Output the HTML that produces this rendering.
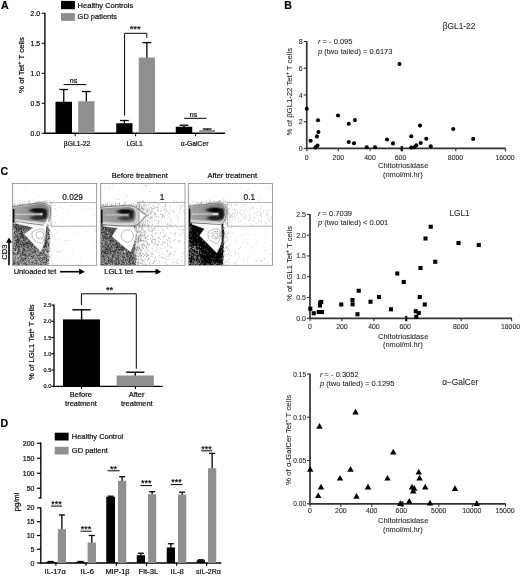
<!DOCTYPE html>
<html><head><meta charset="utf-8"><title>Figure</title>
<style>html,body{margin:0;padding:0;background:#fff;}svg{display:block;font-family:"Liberation Sans",sans-serif;filter:grayscale(1);}text{stroke:#111;stroke-width:0.22px;}text.lt{stroke:#2a2a2a;stroke-width:0.1px;fill:#2a2a2a;}</style></head><body>
<svg width="520" height="576" viewBox="0 0 520 576">
<defs>
<filter id="blur03" x="-5%" y="-5%" width="110%" height="110%"><feGaussianBlur stdDeviation="0.3"/></filter>
<filter id="blur05" x="-10%" y="-10%" width="120%" height="120%"><feGaussianBlur stdDeviation="0.5"/></filter>
<filter id="blur06" x="-10%" y="-20%" width="120%" height="140%"><feGaussianBlur stdDeviation="0.6"/></filter>
<linearGradient id="gOuter1" gradientUnits="userSpaceOnUse" x1="0" y1="0" x2="39" y2="0"><stop offset="0" stop-color="#a4a4a4"/><stop offset="0.3" stop-color="#989898"/><stop offset="0.55" stop-color="#868686"/><stop offset="0.8" stop-color="#808080"/><stop offset="1" stop-color="#9a9a9a"/></linearGradient>
<linearGradient id="gOuter2" gradientUnits="userSpaceOnUse" x1="0" y1="0" x2="45" y2="0"><stop offset="0" stop-color="#a4a4a4"/><stop offset="0.3" stop-color="#989898"/><stop offset="0.55" stop-color="#868686"/><stop offset="0.8" stop-color="#808080"/><stop offset="1" stop-color="#9a9a9a"/></linearGradient>
<linearGradient id="gOuter3" gradientUnits="userSpaceOnUse" x1="0" y1="0" x2="39" y2="0"><stop offset="0" stop-color="#a4a4a4"/><stop offset="0.3" stop-color="#989898"/><stop offset="0.55" stop-color="#868686"/><stop offset="0.8" stop-color="#808080"/><stop offset="1" stop-color="#9a9a9a"/></linearGradient>
<radialGradient id="gLobe" cx="0.5" cy="0.5" r="0.5"><stop offset="0" stop-color="#000" stop-opacity="1"/><stop offset="0.45" stop-color="#000" stop-opacity="0.92"/><stop offset="0.75" stop-color="#111" stop-opacity="0.5"/><stop offset="1" stop-color="#222" stop-opacity="0"/></radialGradient>
</defs>
<rect width="520" height="576" fill="#fff"/>
<text x="0.9" y="8.9" font-size="10.6" font-weight="bold" fill="#000">A</text>
<rect x="61" y="0.9" width="13.9" height="8.3" fill="#000"/>
<rect x="61" y="13.1" width="13.9" height="7.8" fill="#8f8f8f"/>
<text x="77.6" y="7.7" font-size="7.6" fill="#111" textLength="55.6" lengthAdjust="spacingAndGlyphs">Healthy Controls</text>
<text x="77.6" y="19.2" font-size="7.6" fill="#111" textLength="39.4" lengthAdjust="spacingAndGlyphs">GD patients</text>
<line x1="44.9" y1="12.75" x2="44.9" y2="133.85" stroke="#000" stroke-width="1.35"/>
<line x1="44.3" y1="133.25" x2="225" y2="133.25" stroke="#000" stroke-width="1.35"/>
<line x1="41.6" y1="133.25" x2="44.9" y2="133.25" stroke="#000" stroke-width="1.0"/>
<text x="40.199999999999996" y="135.75" font-size="6.9" text-anchor="end" fill="#111">0.0</text>
<line x1="41.6" y1="103.25" x2="44.9" y2="103.25" stroke="#000" stroke-width="1.0"/>
<text x="40.199999999999996" y="105.75" font-size="6.9" text-anchor="end" fill="#111">0.5</text>
<line x1="41.6" y1="73.25" x2="44.9" y2="73.25" stroke="#000" stroke-width="1.0"/>
<text x="40.199999999999996" y="75.75" font-size="6.9" text-anchor="end" fill="#111">1.0</text>
<line x1="41.6" y1="43.25" x2="44.9" y2="43.25" stroke="#000" stroke-width="1.0"/>
<text x="40.199999999999996" y="45.75" font-size="6.9" text-anchor="end" fill="#111">1.5</text>
<line x1="41.6" y1="13.25" x2="44.9" y2="13.25" stroke="#000" stroke-width="1.0"/>
<text x="40.199999999999996" y="15.75" font-size="6.9" text-anchor="end" fill="#111">2.0</text>
<text x="23.9" y="65.0" font-size="7.3" text-anchor="middle" transform="rotate(-90 23.9 65.0)" fill="#111" textLength="56" lengthAdjust="spacingAndGlyphs">% of  Tet<tspan font-size="5" dy="-2.6">+</tspan><tspan dy="2.6"> T cells</tspan></text>
<line x1="63.75" y1="89.5" x2="63.75" y2="102.25" stroke="#000" stroke-width="1.3"/>
<line x1="59.35" y1="89.5" x2="68.15" y2="89.5" stroke="#000" stroke-width="1.3"/>
<rect x="55.5" y="101.75" width="16.5" height="31.5" fill="#000"/>
<line x1="86.375" y1="91.5" x2="86.375" y2="101.75" stroke="#000" stroke-width="1.3"/>
<line x1="81.975" y1="91.5" x2="90.775" y2="91.5" stroke="#000" stroke-width="1.3"/>
<rect x="78.25" y="101.25" width="16.25" height="32.0" fill="#8f8f8f"/>
<line x1="124.375" y1="120.5" x2="124.375" y2="123.75" stroke="#000" stroke-width="1.3"/>
<line x1="119.975" y1="120.5" x2="128.775" y2="120.5" stroke="#000" stroke-width="1.3"/>
<rect x="116.25" y="123.25" width="16.25" height="10.0" fill="#000"/>
<line x1="146.875" y1="42.6" x2="146.875" y2="58.0" stroke="#000" stroke-width="1.3"/>
<line x1="142.475" y1="42.6" x2="151.275" y2="42.6" stroke="#000" stroke-width="1.3"/>
<rect x="138.75" y="57.5" width="16.25" height="75.75" fill="#8f8f8f"/>
<line x1="184.0" y1="125.25" x2="184.0" y2="127.25" stroke="#000" stroke-width="1.3"/>
<line x1="179.6" y1="125.25" x2="188.4" y2="125.25" stroke="#000" stroke-width="1.3"/>
<rect x="175.75" y="126.75" width="16.5" height="6.5" fill="#000"/>
<line x1="207.125" y1="129" x2="207.125" y2="130.5" stroke="#000" stroke-width="1.3"/>
<line x1="202.725" y1="129" x2="211.525" y2="129" stroke="#000" stroke-width="1.3"/>
<rect x="199.25" y="130" width="15.75" height="3.25" fill="#8f8f8f"/>
<line x1="75.2" y1="133.25" x2="75.2" y2="136.25" stroke="#000" stroke-width="1.0"/>
<line x1="135.6" y1="133.25" x2="135.6" y2="136.25" stroke="#000" stroke-width="1.0"/>
<line x1="195.6" y1="133.25" x2="195.6" y2="136.25" stroke="#000" stroke-width="1.0"/>
<text x="77.0" y="146.2" font-size="6.9" text-anchor="middle" fill="#111" textLength="26.4" lengthAdjust="spacingAndGlyphs">βGL1-22</text>
<text x="134.6" y="146.2" font-size="6.9" text-anchor="middle" fill="#111" textLength="16.4" lengthAdjust="spacingAndGlyphs">LGL1</text>
<text x="194.6" y="146.2" font-size="6.9" text-anchor="middle" fill="#111" textLength="27.6" lengthAdjust="spacingAndGlyphs">α-GalCer</text>
<line x1="63.6" y1="84.6" x2="86.4" y2="84.6" stroke="#000" stroke-width="1.0"/>
<text x="73.5" y="82.8" font-size="7" text-anchor="middle" fill="#111">ns</text>
<line x1="184.2" y1="118.3" x2="206.6" y2="118.3" stroke="#000" stroke-width="1.0"/>
<text x="193.5" y="117.0" font-size="7" text-anchor="middle" fill="#111">ns</text>
<path d="M124.6 115.5 V33.3 H146.8 V37.8" stroke="#000" stroke-width="1.0" fill="none"/>
<text x="135.2" y="32.4" font-size="9.5" text-anchor="middle" fill="#111">***</text>
<text x="284.3" y="9.4" font-size="10.6" font-weight="bold" fill="#000">B</text>
<line x1="306.75" y1="41.0" x2="306.75" y2="149.20000000000002" stroke="#333" stroke-width="1.7"/>
<line x1="305.95" y1="148.4" x2="505.8" y2="148.4" stroke="#333" stroke-width="1.7"/>
<line x1="306.75" y1="148.4" x2="306.75" y2="151.3" stroke="#333" stroke-width="1.1"/>
<text x="306.75" y="159.9" font-size="6.9" text-anchor="middle" fill="#111" class="lt">0</text>
<line x1="338.3" y1="148.4" x2="338.3" y2="151.3" stroke="#333" stroke-width="1.1"/>
<text x="338.3" y="159.9" font-size="6.9" text-anchor="middle" fill="#111" class="lt">200</text>
<line x1="370" y1="148.4" x2="370" y2="151.3" stroke="#333" stroke-width="1.1"/>
<text x="370" y="159.9" font-size="6.9" text-anchor="middle" fill="#111" class="lt">400</text>
<line x1="401.75" y1="148.4" x2="401.75" y2="151.3" stroke="#333" stroke-width="1.1"/>
<text x="400.5" y="159.9" font-size="6.9" text-anchor="middle" fill="#111" class="lt">600</text>
<line x1="455.75" y1="148.4" x2="455.75" y2="151.3" stroke="#333" stroke-width="1.1"/>
<text x="455.5" y="159.9" font-size="6.9" text-anchor="middle" fill="#111" class="lt">8000</text>
<line x1="505.4" y1="148.4" x2="505.4" y2="151.3" stroke="#333" stroke-width="1.1"/>
<text x="505" y="159.9" font-size="6.9" text-anchor="middle" fill="#111" class="lt">16000</text>
<line x1="303.75" y1="41.5" x2="306.75" y2="41.5" stroke="#333" stroke-width="1.1"/>
<text x="302.75" y="44.0" font-size="7.0" text-anchor="end" fill="#111" class="lt">8</text>
<line x1="303.75" y1="68.25" x2="306.75" y2="68.25" stroke="#333" stroke-width="1.1"/>
<text x="302.75" y="70.75" font-size="7.0" text-anchor="end" fill="#111" class="lt">6</text>
<line x1="303.75" y1="95" x2="306.75" y2="95" stroke="#333" stroke-width="1.1"/>
<text x="302.75" y="97.5" font-size="7.0" text-anchor="end" fill="#111" class="lt">4</text>
<line x1="303.75" y1="121.75" x2="306.75" y2="121.75" stroke="#333" stroke-width="1.1"/>
<text x="302.75" y="124.25" font-size="7.0" text-anchor="end" fill="#111" class="lt">2</text>
<line x1="303.75" y1="148.4" x2="306.75" y2="148.4" stroke="#333" stroke-width="1.1"/>
<text x="302.75" y="150.9" font-size="7.0" text-anchor="end" fill="#111" class="lt">0</text>
<rect x="400.65" y="146.0" width="2.2" height="5.2" fill="#111"/>
<text x="292.0" y="91.7" font-size="7.3" text-anchor="middle" transform="rotate(-90 292.0 91.7)" fill="#111" class="lt" textLength="87.5" lengthAdjust="spacingAndGlyphs">% of βGL1-22  Tet<tspan font-size="5" dy="-2.6">+</tspan><tspan dy="2.6">  T cells</tspan></text>
<text x="318" y="44" font-size="7.5" fill="#111" class="lt"><tspan font-style="italic">r</tspan> = - 0.095</text>
<text x="318" y="54" font-size="7.5" fill="#111" class="lt"><tspan font-style="italic">p</tspan> (two tailed) = 0.6173</text>
<text x="459.1" y="29.2" font-size="8.4" text-anchor="middle" fill="#111" class="lt" textLength="32.6" lengthAdjust="spacingAndGlyphs">βGL1-22</text>
<text x="403.2" y="168.4" font-size="7.9" text-anchor="middle" fill="#111" class="lt" textLength="50.4" lengthAdjust="spacingAndGlyphs">Chitotriosidase</text>
<text x="402.8" y="176.5" font-size="7.9" text-anchor="middle" fill="#111" class="lt" textLength="39.8" lengthAdjust="spacingAndGlyphs">(nmol/ml.hr)</text>
<circle cx="306.75" cy="108.75" r="2.05" fill="#000"/>
<circle cx="310.6" cy="140.75" r="2.05" fill="#000"/>
<circle cx="318" cy="120.3" r="2.05" fill="#000"/>
<circle cx="318.4" cy="132" r="2.05" fill="#000"/>
<circle cx="316.9" cy="136.4" r="2.05" fill="#000"/>
<circle cx="317.5" cy="145.6" r="2.05" fill="#000"/>
<circle cx="315.5" cy="147.4" r="2.05" fill="#000"/>
<circle cx="338" cy="115.5" r="2.05" fill="#000"/>
<circle cx="348.75" cy="123.75" r="2.05" fill="#000"/>
<circle cx="355" cy="120.1" r="2.05" fill="#000"/>
<circle cx="348.75" cy="142" r="2.05" fill="#000"/>
<circle cx="354" cy="143.2" r="2.05" fill="#000"/>
<circle cx="366.75" cy="147.2" r="2.05" fill="#000"/>
<circle cx="375" cy="147.2" r="2.05" fill="#000"/>
<circle cx="387" cy="139.5" r="2.05" fill="#000"/>
<circle cx="393" cy="143.4" r="2.05" fill="#000"/>
<circle cx="399.5" cy="64" r="2.05" fill="#000"/>
<circle cx="420" cy="125.6" r="2.05" fill="#000"/>
<circle cx="453.25" cy="129" r="2.05" fill="#000"/>
<circle cx="411.25" cy="136.25" r="2.05" fill="#000"/>
<circle cx="426.25" cy="138.75" r="2.05" fill="#000"/>
<circle cx="473.2" cy="138.9" r="2.05" fill="#000"/>
<circle cx="420.7" cy="143" r="2.05" fill="#000"/>
<circle cx="416.25" cy="145.2" r="2.05" fill="#000"/>
<circle cx="430.75" cy="146.2" r="2.05" fill="#000"/>
<circle cx="411.25" cy="147.6" r="2.05" fill="#000"/>
<circle cx="414.5" cy="147.2" r="2.05" fill="#000"/>
<line x1="310" y1="213.9" x2="310" y2="319.1" stroke="#333" stroke-width="1.7"/>
<line x1="309.2" y1="318.3" x2="512" y2="318.3" stroke="#333" stroke-width="1.7"/>
<line x1="310" y1="318.3" x2="310" y2="321.2" stroke="#333" stroke-width="1.1"/>
<text x="310" y="329.3" font-size="6.9" text-anchor="middle" fill="#111" class="lt">0</text>
<line x1="341.9" y1="318.3" x2="341.9" y2="321.2" stroke="#333" stroke-width="1.1"/>
<text x="341.9" y="329.3" font-size="6.9" text-anchor="middle" fill="#111" class="lt">200</text>
<line x1="373.9" y1="318.3" x2="373.9" y2="321.2" stroke="#333" stroke-width="1.1"/>
<text x="373.9" y="329.3" font-size="6.9" text-anchor="middle" fill="#111" class="lt">400</text>
<line x1="406.25" y1="318.3" x2="406.25" y2="321.2" stroke="#333" stroke-width="1.1"/>
<text x="405.2" y="329.3" font-size="6.9" text-anchor="middle" fill="#111" class="lt">600</text>
<line x1="461.25" y1="318.3" x2="461.25" y2="321.2" stroke="#333" stroke-width="1.1"/>
<text x="460.7" y="329.3" font-size="6.9" text-anchor="middle" fill="#111" class="lt">8000</text>
<line x1="511.6" y1="318.3" x2="511.6" y2="321.2" stroke="#333" stroke-width="1.1"/>
<text x="510.5" y="329.3" font-size="6.9" text-anchor="middle" fill="#111" class="lt">16000</text>
<line x1="307.0" y1="214.5" x2="310" y2="214.5" stroke="#333" stroke-width="1.1"/>
<text x="306.0" y="217.0" font-size="7.0" text-anchor="end" fill="#111" class="lt">2.5</text>
<line x1="307.0" y1="235.2" x2="310" y2="235.2" stroke="#333" stroke-width="1.1"/>
<text x="306.0" y="237.7" font-size="7.0" text-anchor="end" fill="#111" class="lt">2.0</text>
<line x1="307.0" y1="255.9" x2="310" y2="255.9" stroke="#333" stroke-width="1.1"/>
<text x="306.0" y="258.4" font-size="7.0" text-anchor="end" fill="#111" class="lt">1.5</text>
<line x1="307.0" y1="276.7" x2="310" y2="276.7" stroke="#333" stroke-width="1.1"/>
<text x="306.0" y="279.2" font-size="7.0" text-anchor="end" fill="#111" class="lt">1.0</text>
<line x1="307.0" y1="297.5" x2="310" y2="297.5" stroke="#333" stroke-width="1.1"/>
<text x="306.0" y="300.0" font-size="7.0" text-anchor="end" fill="#111" class="lt">0.5</text>
<line x1="307.0" y1="318.3" x2="310" y2="318.3" stroke="#333" stroke-width="1.1"/>
<text x="306.0" y="320.8" font-size="7.0" text-anchor="end" fill="#111" class="lt">0.0</text>
<rect x="405.15" y="315.90000000000003" width="2.2" height="5.2" fill="#111"/>
<text x="292.0" y="263.5" font-size="7.3" text-anchor="middle" transform="rotate(-90 292.0 263.5)" fill="#111" class="lt" textLength="75" lengthAdjust="spacingAndGlyphs">% of LGL1  Tet<tspan font-size="5" dy="-2.6">+</tspan><tspan dy="2.6"> T cells</tspan></text>
<text x="318" y="216.4" font-size="7.5" fill="#111" class="lt"><tspan font-style="italic">r</tspan> = 0.7039</text>
<text x="318" y="225.3" font-size="7.5" fill="#111" class="lt"><tspan font-style="italic">p</tspan> (two tailed) &lt; 0.001</text>
<text x="459.5" y="215.9" font-size="8.5" text-anchor="middle" fill="#111" class="lt" textLength="20.2" lengthAdjust="spacingAndGlyphs">LGL1</text>
<text x="403.2" y="338.6" font-size="7.9" text-anchor="middle" fill="#111" class="lt" textLength="50.4" lengthAdjust="spacingAndGlyphs">Chitotriosidase</text>
<text x="402.8" y="346.8" font-size="7.9" text-anchor="middle" fill="#111" class="lt" textLength="39.8" lengthAdjust="spacingAndGlyphs">(nmol/ml.hr)</text>
<rect x="308.25" y="306.7" width="4.1" height="4.1" fill="#000"/>
<rect x="311.7" y="311.2" width="4.1" height="4.1" fill="#000"/>
<rect x="316.7" y="309.95" width="4.1" height="4.1" fill="#000"/>
<rect x="319.95" y="309.95" width="4.1" height="4.1" fill="#000"/>
<rect x="317.95" y="303.45" width="4.1" height="4.1" fill="#000"/>
<rect x="319.2" y="299.85" width="4.1" height="4.1" fill="#000"/>
<rect x="318.15" y="300.55" width="4.1" height="4.1" fill="#000"/>
<rect x="339.2" y="302.45" width="4.1" height="4.1" fill="#000"/>
<rect x="350.45" y="297.95" width="4.1" height="4.1" fill="#000"/>
<rect x="350.55" y="302.25" width="4.1" height="4.1" fill="#000"/>
<rect x="356.7" y="288.7" width="4.1" height="4.1" fill="#000"/>
<rect x="355.45" y="312.2" width="4.1" height="4.1" fill="#000"/>
<rect x="368.45" y="299.7" width="4.1" height="4.1" fill="#000"/>
<rect x="376.95" y="294.95" width="4.1" height="4.1" fill="#000"/>
<rect x="388.95" y="307.25" width="4.1" height="4.1" fill="#000"/>
<rect x="428.7" y="224.7" width="4.1" height="4.1" fill="#000"/>
<rect x="423.45" y="236.45" width="4.1" height="4.1" fill="#000"/>
<rect x="456.45" y="240.95" width="4.1" height="4.1" fill="#000"/>
<rect x="476.7" y="242.95" width="4.1" height="4.1" fill="#000"/>
<rect x="433.2" y="259.7" width="4.1" height="4.1" fill="#000"/>
<rect x="418.45" y="265.95" width="4.1" height="4.1" fill="#000"/>
<rect x="395.2" y="271.45" width="4.1" height="4.1" fill="#000"/>
<rect x="401.7" y="279.95" width="4.1" height="4.1" fill="#000"/>
<rect x="417.7" y="294.95" width="4.1" height="4.1" fill="#000"/>
<rect x="422.7" y="302.45" width="4.1" height="4.1" fill="#000"/>
<rect x="413.7" y="309.2" width="4.1" height="4.1" fill="#000"/>
<rect x="416.7" y="310.95" width="4.1" height="4.1" fill="#000"/>
<rect x="414.2" y="314.85" width="4.1" height="4.1" fill="#000"/>
<line x1="310" y1="373.5" x2="310" y2="504.6" stroke="#333" stroke-width="1.7"/>
<line x1="309.2" y1="503.8" x2="505.8" y2="503.8" stroke="#333" stroke-width="1.7"/>
<line x1="310" y1="503.8" x2="310" y2="506.7" stroke="#333" stroke-width="1.1"/>
<text x="310" y="512.6" font-size="6.9" text-anchor="middle" fill="#111" class="lt">0</text>
<line x1="340.8" y1="503.8" x2="340.8" y2="506.7" stroke="#333" stroke-width="1.1"/>
<text x="340.8" y="512.6" font-size="6.9" text-anchor="middle" fill="#111" class="lt">200</text>
<line x1="371.7" y1="503.8" x2="371.7" y2="506.7" stroke="#333" stroke-width="1.1"/>
<text x="371.7" y="512.6" font-size="6.9" text-anchor="middle" fill="#111" class="lt">400</text>
<line x1="402.4" y1="503.8" x2="402.4" y2="506.7" stroke="#333" stroke-width="1.1"/>
<text x="401.3" y="512.6" font-size="6.9" text-anchor="middle" fill="#111" class="lt">600</text>
<line x1="438.75" y1="503.8" x2="438.75" y2="506.7" stroke="#333" stroke-width="1.1"/>
<text x="438.75" y="512.6" font-size="6.9" text-anchor="middle" fill="#111" class="lt">5000</text>
<line x1="472.4" y1="503.8" x2="472.4" y2="506.7" stroke="#333" stroke-width="1.1"/>
<text x="471.8" y="512.6" font-size="6.9" text-anchor="middle" fill="#111" class="lt">10000</text>
<line x1="505.4" y1="503.8" x2="505.4" y2="506.7" stroke="#333" stroke-width="1.1"/>
<text x="505" y="512.6" font-size="6.9" text-anchor="middle" fill="#111" class="lt">15000</text>
<line x1="307.0" y1="374" x2="310" y2="374" stroke="#333" stroke-width="1.1"/>
<text x="306.0" y="376.5" font-size="6.5" text-anchor="end" fill="#111" class="lt">0.15</text>
<line x1="307.0" y1="417.25" x2="310" y2="417.25" stroke="#333" stroke-width="1.1"/>
<text x="306.0" y="419.75" font-size="6.5" text-anchor="end" fill="#111" class="lt">0.10</text>
<line x1="307.0" y1="460.5" x2="310" y2="460.5" stroke="#333" stroke-width="1.1"/>
<text x="306.0" y="463.0" font-size="6.5" text-anchor="end" fill="#111" class="lt">0.05</text>
<line x1="307.0" y1="503.8" x2="310" y2="503.8" stroke="#333" stroke-width="1.1"/>
<text x="306.0" y="506.3" font-size="6.5" text-anchor="end" fill="#111" class="lt">0.00</text>
<rect x="401.29999999999995" y="501.40000000000003" width="2.2" height="5.2" fill="#111"/>
<text x="290.9" y="439.9" font-size="7.3" text-anchor="middle" transform="rotate(-90 290.9 439.9)" fill="#111" class="lt" textLength="90" lengthAdjust="spacingAndGlyphs">% of α-GalCer Tet<tspan font-size="5" dy="-2.6">+</tspan><tspan dy="2.6"> T cells</tspan></text>
<text x="320" y="376.9" font-size="7.5" fill="#111" class="lt"><tspan font-style="italic">r</tspan> = - 0.3052</text>
<text x="320" y="386.4" font-size="7.5" fill="#111" class="lt"><tspan font-style="italic">p</tspan> (two tailed) = 0.1295</text>
<text x="460.3" y="385.0" font-size="8.7" text-anchor="middle" fill="#111" class="lt" textLength="36.2" lengthAdjust="spacingAndGlyphs">α–GalCer</text>
<text x="403.2" y="523.3" font-size="7.9" text-anchor="middle" fill="#111" class="lt" textLength="50.4" lengthAdjust="spacingAndGlyphs">Chitotriosidase</text>
<text x="402.8" y="531.6" font-size="7.9" text-anchor="middle" fill="#111" class="lt" textLength="39.8" lengthAdjust="spacingAndGlyphs">(nmol/ml.hr)</text>
<path d="M310.20 466.05 l3.2 5.7 h-6.4 z" fill="#000"/>
<path d="M319.50 423.05 l3.2 5.7 h-6.4 z" fill="#000"/>
<path d="M355.50 408.80 l3.2 5.7 h-6.4 z" fill="#000"/>
<path d="M350.50 466.05 l3.2 5.7 h-6.4 z" fill="#000"/>
<path d="M340.00 474.90 l3.2 5.7 h-6.4 z" fill="#000"/>
<path d="M321.00 483.80 l3.2 5.7 h-6.4 z" fill="#000"/>
<path d="M318.25 492.40 l3.2 5.7 h-6.4 z" fill="#000"/>
<path d="M356.50 493.05 l3.2 5.7 h-6.4 z" fill="#000"/>
<path d="M368.00 483.80 l3.2 5.7 h-6.4 z" fill="#000"/>
<path d="M387.50 474.90 l3.2 5.7 h-6.4 z" fill="#000"/>
<path d="M393.25 448.80 l3.2 5.7 h-6.4 z" fill="#000"/>
<path d="M418.75 468.70 l3.2 5.7 h-6.4 z" fill="#000"/>
<path d="M419.50 474.70 l3.2 5.7 h-6.4 z" fill="#000"/>
<path d="M412.00 483.80 l3.2 5.7 h-6.4 z" fill="#000"/>
<path d="M414.25 485.10 l3.2 5.7 h-6.4 z" fill="#000"/>
<path d="M413.25 487.80 l3.2 5.7 h-6.4 z" fill="#000"/>
<path d="M425.25 483.80 l3.2 5.7 h-6.4 z" fill="#000"/>
<path d="M455.00 485.20 l3.2 5.7 h-6.4 z" fill="#000"/>
<path d="M409.25 498.00 l3.2 5.7 h-6.4 z" fill="#000"/>
<path d="M400.30 500.20 l3.2 5.7 h-6.4 z" fill="#000"/>
<path d="M430.00 499.80 l3.2 5.7 h-6.4 z" fill="#000"/>
<path d="M476.75 500.20 l3.2 5.7 h-6.4 z" fill="#000"/>
<text x="0.6" y="174.8" font-size="10.6" font-weight="bold" fill="#000">C</text>
<text x="139.8" y="178.4" font-size="7.5" text-anchor="middle" fill="#111">Before treatment</text>
<text x="232.3" y="178.4" font-size="7.5" text-anchor="middle" fill="#111">After treatment</text>
<text x="6.7" y="252.1" font-size="8.0" text-anchor="middle" transform="rotate(-90 6.7 252.1)" fill="#111" textLength="15.2" lengthAdjust="spacingAndGlyphs">CD3</text>
<path d="M9.0 265.3 V241" stroke="#000" stroke-width="1.6" fill="none"/>
<path d="M9.0 237.4 l-3 5.4 h6 z" fill="#000"/>
<text x="13.7" y="274.4" font-size="7.5" fill="#111" textLength="42.6" lengthAdjust="spacingAndGlyphs">Unloaded tet</text>
<path d="M60 271.7 H81" stroke="#000" stroke-width="1.6" fill="none"/>
<path d="M84.8 271.7 l-5.6 -3.1 v6.2 z" fill="#000"/>
<text x="104.2" y="274.4" font-size="7.5" fill="#111" textLength="29" lengthAdjust="spacingAndGlyphs">LGL1 tet</text>
<path d="M136.3 271.7 H157.5" stroke="#000" stroke-width="1.6" fill="none"/>
<path d="M161.2 271.7 l-5.6 -3.1 v6.2 z" fill="#000"/>
<g transform="translate(12.4 183.6)">
<clipPath id="cp1"><rect x="0.3" y="0.3" width="83.7" height="81.10000000000001"/></clipPath>
<g clip-path="url(#cp1)">
<path d="M11.9 0.6h0.55M26.4 12.8h0.55M47.1 14.4h0.55M63.2 14.9h0.55M1.7 17.4h0.55M7.1 17.1h0.55M16.9 17.0h0.55M17.6 17.2h0.55M20.1 17.5h0.55M24.8 17.3h0.55M31.0 17.3h0.55M32.5 17.4h0.55M33.4 17.4h0.55M34.5 17.3h0.55M38.5 17.1h0.55M11.4 18.2h0.55M14.2 17.8h0.55M15.6 17.5h0.55M17.4 17.8h0.55M22.4 17.7h0.55M25.8 17.6h0.55M26.9 17.9h0.55M27.7 17.7h0.55M29.0 18.1h0.55M29.5 17.8h0.55M30.2 18.1h0.55M32.1 17.7h0.55M32.4 17.7h0.55M34.4 17.6h0.55M36.8 18.0h0.55M40.9 17.6h0.55M2.3 18.7h0.55M11.6 18.6h0.55M14.5 18.3h0.55M15.9 18.6h0.55M16.6 18.4h0.55M21.6 18.9h0.55M22.4 18.6h0.55M24.1 18.4h0.55M24.6 18.5h0.55M25.3 18.8h0.55M26.4 18.6h0.55M26.8 18.3h0.55M28.1 18.9h0.55M29.2 18.9h0.55M30.0 18.4h0.55M30.4 18.6h0.55M31.3 18.5h0.55M32.1 18.6h0.55M32.5 18.3h0.55M33.8 18.4h0.55M34.7 18.8h0.55M35.2 18.3h0.55M36.5 18.7h0.55M37.4 18.3h0.55M38.4 18.7h0.55M9.5 19.4h0.55M9.8 18.9h0.55M17.9 19.5h0.55M19.3 19.1h0.55M20.8 19.6h0.55M22.7 19.2h0.55M23.6 19.2h0.55M23.9 19.5h0.55M25.1 19.0h0.55M25.4 18.9h0.55M26.0 18.9h0.55M27.7 19.5h0.55M28.6 19.1h0.55M28.9 19.2h0.55M30.1 19.4h0.55M31.5 19.5h0.55M32.1 19.0h0.55M32.4 19.1h0.55M33.0 19.2h0.55M34.0 19.6h0.55M34.4 19.0h0.55M36.4 18.9h0.55M37.3 19.5h0.55M38.9 19.1h0.55M40.5 19.4h0.55M83.3 19.6h0.55M2.0 20.3h0.55M7.6 20.1h0.55M10.2 20.0h0.55M11.5 19.7h0.55M12.7 19.8h0.55M14.6 20.0h0.55M15.5 19.6h0.55M16.1 20.0h0.55M17.4 20.0h0.55M17.5 20.2h0.55M18.9 20.1h0.55M19.6 19.8h0.55M20.6 19.9h0.55M21.5 20.2h0.55M22.0 19.8h0.55M22.7 20.1h0.55M23.2 20.1h0.55M24.6 19.9h0.55M25.6 19.6h0.55M27.4 19.8h0.55M32.3 19.7h0.55M36.6 19.8h0.55M81.6 20.2h0.55M0.0 20.7h0.55M0.7 20.4h0.55M2.8 20.5h0.55M4.4 20.4h0.55M5.2 20.6h0.55M7.0 20.6h0.55M7.4 20.7h0.55M8.1 20.9h0.55M8.7 20.8h0.55M9.6 20.4h0.55M10.4 20.8h0.55M12.3 20.5h0.55M13.3 20.4h0.55M14.5 20.9h0.55M16.3 20.5h0.55M17.3 21.0h0.55M18.2 20.8h0.55M18.8 20.5h0.55M19.7 20.5h0.55M20.6 20.7h0.55M21.8 20.5h0.55M0.6 21.4h0.55M1.9 21.7h0.55M2.5 21.4h0.55M2.9 21.6h0.55M4.5 21.5h0.55M5.4 21.6h0.55M5.8 21.2h0.55M6.3 21.6h0.55M7.4 21.1h0.55M8.2 21.0h0.55M8.7 21.5h0.55M9.5 21.0h0.55M10.5 21.1h0.55M10.8 21.1h0.55M12.1 21.2h0.55M36.5 21.6h0.55M0.7 22.2h0.55M2.0 21.8h0.55M5.2 21.9h0.55M7.0 22.0h0.55M7.5 22.1h0.55M9.1 21.8h0.55M42.1 21.9h0.55M58.7 21.9h0.55M0.6 22.8h0.55M2.6 22.6h0.55M4.9 22.5h0.55M37.3 22.9h0.55M38.4 23.4h0.55M47.8 23.3h0.55M36.5 24.2h0.55M37.8 23.9h0.55M45.8 24.3h0.55M37.6 24.5h0.55M42.5 25.1h0.55M49.7 24.8h0.55M78.4 24.7h0.55M38.7 25.4h0.55M41.5 25.5h0.55M72.3 25.4h0.55M36.7 28.0h0.55M54.8 28.4h0.55M36.9 30.4h0.55M82.3 30.5h0.55M38.0 31.4h0.55M39.9 31.0h0.55M44.2 32.1h0.55M80.5 32.1h0.55M36.5 32.6h0.55M36.8 33.4h0.55M41.2 33.1h0.55M42.1 33.3h0.55M50.3 33.4h0.55M37.0 33.8h0.55M37.9 34.3h0.55M36.8 36.2h0.55M36.7 36.8h0.55M36.7 37.6h0.55M43.0 38.5h0.55M36.6 40.3h0.55M38.5 40.5h0.55M36.2 41.1h0.55M45.5 41.6h0.55M0.0 42.4h0.55M38.2 42.4h0.55M38.9 42.7h0.55M39.7 43.0h0.55M49.3 43.4h0.55M48.3 43.7h0.55M38.2 45.3h0.55M36.9 46.6h0.55M37.8 47.2h0.55M83.0 47.2h0.55M72.7 47.8h0.55M37.0 48.4h0.55M37.5 49.0h0.55M44.0 48.9h0.55M62.3 48.8h0.55M38.7 49.7h0.55M0.1 51.4h0.55M39.7 51.1h0.55M39.3 53.5h0.55M0.1 54.5h0.55M40.7 54.6h0.55M37.5 55.2h0.55M38.1 55.4h0.55M42.6 56.0h0.55M46.0 56.3h0.55M52.7 57.1h0.55M53.8 57.1h0.55M0.0 57.5h0.55M37.9 57.6h0.55M80.7 57.5h0.55M0.1 58.5h0.55M37.9 59.0h0.55M39.8 60.0h0.55M51.3 60.0h0.55M38.5 61.2h0.55M46.5 61.7h0.55M0.2 63.9h0.55M38.3 65.0h0.55M0.3 65.3h0.55M37.0 65.5h0.55M41.3 65.2h0.55M50.2 65.6h0.55M37.4 66.9h0.55M38.5 67.2h0.55M60.2 67.5h0.55M43.7 67.9h0.55M45.9 68.0h0.55M47.8 68.1h0.55M46.5 68.6h0.55M36.8 70.8h0.55M38.8 71.2h0.55M37.6 72.2h0.55M36.7 73.8h0.55M37.9 73.8h0.55M52.5 74.1h0.55M0.3 74.4h0.55M38.5 74.2h0.55M37.5 75.8h0.55M49.1 76.8h0.55M36.7 77.2h0.55M38.6 77.2h0.55M67.9 78.0h0.55M37.1 78.9h0.55M39.4 78.6h0.55M36.5 79.4h0.55M39.8 80.4h0.55M41.0 80.5h0.55M44.7 80.9h0.55M66.0 80.9h0.55" stroke="#808080" stroke-width="0.55" fill="none"/>
<polygon points="0.3,38.5 34.0,40.0 36.2,42.5 37.3,52.0 36.8,66.0 36.2,81.7 0.3,81.7" fill="#8e8e8e" filter="url(#blur05)"/>
<g filter="url(#blur03)">
<path d="M8.5 39.0h0.7M14.4 39.3h0.7M14.7 39.3h0.7M16.0 39.7h0.7M18.6 39.6h0.7M19.3 39.6h0.7M19.7 39.8h0.7M21.2 39.5h0.7M22.3 39.9h0.7M22.6 39.7h0.7M24.1 39.8h0.7M25.6 39.7h0.7M2.6 40.4h0.7M3.2 40.6h0.7M4.2 40.4h0.7M16.7 40.1h0.7M20.4 40.5h0.7M21.3 40.3h0.7M22.2 40.0h0.7M25.2 40.3h0.7M25.4 39.9h0.7M26.9 40.5h0.7M28.3 40.5h0.7M29.2 40.6h0.7M30.8 40.4h0.7M31.3 40.5h0.7M32.2 40.2h0.7M0.4 40.8h0.7M1.0 41.2h0.7M2.1 41.0h0.7M3.3 40.7h0.7M3.7 41.2h0.7M4.8 41.1h0.7M6.1 40.6h0.7M7.6 41.2h0.7M25.8 40.9h0.7M28.8 40.9h0.7M30.3 41.0h0.7M31.3 40.9h0.7M0.5 41.7h0.7M0.8 41.4h0.7M4.1 41.6h0.7M5.2 41.8h0.7M9.3 41.9h0.7M10.0 41.7h0.7M27.5 41.4h0.7M30.4 41.4h0.7M35.5 41.9h0.7M0.3 42.2h0.7M2.0 42.2h0.7M2.7 42.1h0.7M4.7 42.0h0.7M5.6 42.6h0.7M6.8 42.2h0.7M8.5 42.6h0.7M9.6 42.3h0.7M10.5 42.6h0.7M12.2 42.5h0.7M13.0 42.5h0.7M13.3 42.5h0.7M14.5 42.6h0.7M0.6 42.8h0.7M1.7 43.1h0.7M2.5 43.4h0.7M2.8 43.1h0.7M4.0 42.8h0.7M4.2 43.4h0.7M5.6 42.8h0.7M6.3 43.1h0.7M6.7 43.3h0.7M7.7 43.2h0.7M8.0 42.9h0.7M10.4 43.3h0.7M12.4 42.9h0.7M13.8 42.9h0.7M14.0 42.9h0.7M14.9 43.2h0.7M34.1 43.4h0.7M1.4 43.6h0.7M5.4 43.4h0.7M5.8 43.5h0.7M6.9 43.8h0.7M8.4 43.5h0.7M9.2 43.9h0.7M10.4 43.8h0.7M11.5 43.9h0.7M12.7 44.0h0.7M13.6 44.0h0.7M14.0 43.6h0.7M15.1 43.9h0.7M15.6 43.9h0.7M16.7 44.1h0.7M17.1 44.0h0.7M34.8 44.1h0.7M2.2 44.6h0.7M3.0 44.5h0.7M3.5 44.2h0.7M4.9 44.8h0.7M5.4 44.6h0.7M5.9 44.7h0.7M6.6 44.5h0.7M7.3 44.5h0.7M8.1 44.2h0.7M8.5 44.6h0.7M10.0 44.2h0.7M11.0 44.5h0.7M11.6 44.2h0.7M12.3 44.3h0.7M13.3 44.6h0.7M13.8 44.5h0.7M16.1 44.2h0.7M16.6 44.4h0.7M16.8 44.7h0.7M18.9 44.2h0.7M20.2 44.1h0.7M34.3 44.7h0.7M35.3 44.4h0.7M0.4 45.3h0.7M1.8 44.8h0.7M3.2 44.9h0.7M3.7 44.9h0.7M7.5 45.2h0.7M8.1 45.1h0.7M9.4 45.2h0.7M11.5 44.9h0.7M14.3 45.1h0.7M16.2 44.8h0.7M17.5 45.3h0.7M17.9 44.9h0.7M36.2 45.4h0.7M1.4 45.6h0.7M3.5 45.6h0.7M4.3 45.7h0.7M5.6 46.0h0.7M6.5 45.8h0.7M7.2 45.9h0.7M7.7 46.1h0.7M8.9 46.0h0.7M9.3 46.0h0.7M10.8 45.6h0.7M11.7 45.6h0.7M12.3 45.6h0.7M12.8 46.2h0.7M13.7 45.7h0.7M14.3 45.7h0.7M15.1 45.6h0.7M15.8 45.9h0.7M18.0 45.5h0.7M33.7 45.6h0.7M34.7 45.7h0.7M36.1 46.2h0.7M0.3 46.7h0.7M2.1 46.2h0.7M3.5 46.9h0.7M4.8 46.4h0.7M5.1 46.7h0.7M5.8 46.3h0.7M6.5 46.4h0.7M7.6 46.3h0.7M10.5 46.4h0.7M13.0 46.6h0.7M14.2 46.3h0.7M15.8 46.7h0.7M17.1 46.3h0.7M33.6 46.4h0.7M35.0 46.5h0.7M35.1 46.5h0.7M35.8 46.7h0.7M1.8 47.5h0.7M2.5 47.3h0.7M4.0 47.5h0.7M4.3 47.3h0.7M6.1 47.6h0.7M6.4 47.1h0.7M8.9 47.0h0.7M10.1 47.2h0.7M10.9 47.3h0.7M11.3 47.2h0.7M15.0 47.4h0.7M33.8 47.2h0.7M36.2 47.2h0.7M36.6 47.5h0.7M2.4 47.6h0.7M3.2 48.0h0.7M5.6 48.1h0.7M8.2 47.7h0.7M8.7 48.3h0.7M9.1 47.8h0.7M10.2 47.8h0.7M10.5 47.6h0.7M12.1 47.6h0.7M13.1 48.3h0.7M33.8 48.1h0.7M35.4 47.7h0.7M1.0 48.8h0.7M2.0 48.9h0.7M3.5 48.3h0.7M4.3 48.3h0.7M6.1 48.3h0.7M8.4 48.6h0.7M8.5 48.4h0.7M9.7 48.9h0.7M12.3 48.3h0.7M13.2 48.5h0.7M14.0 48.3h0.7M33.7 48.6h0.7M2.0 49.2h0.7M2.5 49.5h0.7M3.2 49.4h0.7M4.6 49.4h0.7M7.8 49.3h0.7M10.3 49.5h0.7M12.5 49.1h0.7M34.6 49.7h0.7M35.5 49.0h0.7M36.0 49.1h0.7M2.8 50.3h0.7M6.1 49.8h0.7M6.9 49.8h0.7M7.7 49.8h0.7M8.6 50.1h0.7M9.2 50.0h0.7M12.0 50.0h0.7M33.7 49.7h0.7M35.0 50.2h0.7M1.3 50.6h0.7M1.4 50.8h0.7M5.2 50.5h0.7M6.5 50.5h0.7M8.1 50.5h0.7M8.4 50.5h0.7M9.2 51.1h0.7M10.0 50.9h0.7M33.9 50.9h0.7M34.9 51.1h0.7M35.4 50.7h0.7M36.0 51.1h0.7M4.4 51.3h0.7M8.3 51.5h0.7M9.0 51.2h0.7M9.9 51.4h0.7M10.9 51.8h0.7M12.2 51.1h0.7M35.2 51.6h0.7M36.1 51.1h0.7M37.0 51.3h0.7M0.3 52.0h0.7M2.4 51.8h0.7M3.2 51.9h0.7M3.7 52.3h0.7M4.5 52.5h0.7M6.6 52.1h0.7M8.9 52.0h0.7M10.0 52.0h0.7M11.2 51.9h0.7M33.9 52.1h0.7M35.7 52.5h0.7M1.4 53.0h0.7M2.5 52.9h0.7M3.3 52.9h0.7M5.5 52.8h0.7M6.7 52.9h0.7M8.0 53.1h0.7M8.9 52.9h0.7M9.4 52.7h0.7M9.8 53.1h0.7M11.4 52.8h0.7M12.4 52.9h0.7M35.1 52.6h0.7M36.1 53.2h0.7M36.7 53.0h0.7M1.8 53.7h0.7M2.7 53.8h0.7M3.3 53.5h0.7M3.6 53.6h0.7M4.7 53.8h0.7M5.0 53.8h0.7M7.4 53.9h0.7M8.1 53.3h0.7M9.5 53.3h0.7M10.9 53.4h0.7M12.4 53.7h0.7M14.3 53.4h0.7M33.7 53.7h0.7M34.7 53.5h0.7M36.2 53.9h0.7M0.9 54.4h0.7M2.3 54.5h0.7M3.7 54.2h0.7M6.0 54.1h0.7M6.5 54.6h0.7M7.7 54.4h0.7M8.9 54.4h0.7M9.2 54.0h0.7M10.4 54.1h0.7M10.6 54.0h0.7M12.0 53.9h0.7M13.2 54.3h0.7M13.5 54.0h0.7M14.3 54.4h0.7M33.1 54.0h0.7M36.7 54.5h0.7M1.3 54.7h0.7M5.0 55.2h0.7M7.3 55.2h0.7M8.0 54.6h0.7M8.4 55.1h0.7M10.2 54.9h0.7M11.1 54.8h0.7M11.7 54.7h0.7M12.1 54.7h0.7M12.6 54.8h0.7M13.8 55.3h0.7M32.7 54.7h0.7M33.5 55.0h0.7M34.8 55.0h0.7M35.2 54.8h0.7M36.2 55.1h0.7M1.7 55.5h0.7M3.4 55.9h0.7M3.5 55.3h0.7M4.8 55.9h0.7M5.3 55.6h0.7M11.1 55.4h0.7M11.4 55.5h0.7M12.5 55.3h0.7M13.3 56.0h0.7M14.2 55.8h0.7M15.2 55.4h0.7M33.0 55.4h0.7M34.4 55.7h0.7M35.8 55.6h0.7M2.7 56.3h0.7M2.9 56.6h0.7M4.7 56.2h0.7M5.3 56.5h0.7M5.8 56.2h0.7M6.8 56.1h0.7M10.4 56.4h0.7M11.9 56.6h0.7M16.5 56.4h0.7M32.7 56.6h0.7M36.3 56.3h0.7M2.4 57.3h0.7M3.3 57.4h0.7M4.1 57.1h0.7M5.5 57.0h0.7M6.1 57.4h0.7M6.7 57.1h0.7M8.3 57.2h0.7M10.7 56.8h0.7M12.5 57.1h0.7M12.6 56.9h0.7M15.2 57.2h0.7M15.9 57.3h0.7M16.6 57.2h0.7M17.5 56.8h0.7M33.2 57.0h0.7M34.5 56.9h0.7M1.4 57.4h0.7M3.8 57.4h0.7M4.3 58.0h0.7M5.5 57.9h0.7M6.1 57.8h0.7M7.6 58.0h0.7M9.7 58.1h0.7M10.3 57.5h0.7M11.6 58.1h0.7M16.7 58.0h0.7M18.2 58.0h0.7M32.4 57.5h0.7M33.5 57.9h0.7M33.9 57.9h0.7M35.1 57.9h0.7M4.1 58.7h0.7M5.7 58.7h0.7M9.1 58.6h0.7M9.2 58.4h0.7M10.3 58.7h0.7M11.5 58.7h0.7M13.1 58.1h0.7M14.6 58.7h0.7M15.1 58.7h0.7M15.9 58.3h0.7M16.1 58.6h0.7M17.8 58.4h0.7M3.1 59.4h0.7M4.8 59.0h0.7M5.9 58.9h0.7M7.6 59.3h0.7M7.9 59.4h0.7M9.8 59.0h0.7M9.9 58.8h0.7M11.1 58.9h0.7M12.0 59.0h0.7M13.1 58.8h0.7M13.7 59.1h0.7M15.9 58.9h0.7M17.2 59.5h0.7M18.6 58.8h0.7M19.2 58.9h0.7M32.6 59.1h0.7M33.7 59.1h0.7M34.3 59.3h0.7M35.1 59.2h0.7M36.0 59.2h0.7M2.0 59.9h0.7M4.8 59.6h0.7M7.0 59.7h0.7M7.9 60.0h0.7M10.6 60.1h0.7M12.5 59.8h0.7M12.9 59.9h0.7M13.7 59.8h0.7M14.9 60.1h0.7M15.4 60.1h0.7M16.7 60.2h0.7M17.3 59.7h0.7M17.5 59.8h0.7M19.3 60.1h0.7M19.8 60.2h0.7M31.9 59.5h0.7M32.6 60.2h0.7M33.1 60.2h0.7M34.1 60.0h0.7M35.0 59.9h0.7M0.7 60.9h0.7M3.5 60.5h0.7M4.0 60.4h0.7M4.3 60.8h0.7M5.9 60.4h0.7M8.0 60.4h0.7M8.8 60.5h0.7M10.7 60.4h0.7M11.9 60.9h0.7M12.2 60.3h0.7M13.2 60.5h0.7M13.9 60.3h0.7M14.3 60.6h0.7M15.2 60.6h0.7M15.4 60.3h0.7M16.7 60.7h0.7M17.4 60.3h0.7M17.9 60.8h0.7M19.4 60.5h0.7M31.5 60.4h0.7M32.7 60.5h0.7M33.3 60.3h0.7M35.0 60.3h0.7M35.7 60.5h0.7M37.0 60.7h0.7M1.3 61.0h0.7M2.0 61.4h0.7M3.3 60.9h0.7M4.0 61.1h0.7M6.1 61.3h0.7M7.0 61.5h0.7M7.7 60.9h0.7M9.0 61.1h0.7M9.9 60.9h0.7M10.6 61.5h0.7M11.9 61.2h0.7M14.1 61.4h0.7M16.8 61.5h0.7M17.3 61.3h0.7M18.2 61.0h0.7M19.5 61.3h0.7M21.0 61.1h0.7M31.3 61.1h0.7M32.1 61.6h0.7M33.4 61.3h0.7M33.9 61.4h0.7M36.0 61.4h0.7M1.4 62.1h0.7M2.1 62.3h0.7M3.3 61.9h0.7M3.7 62.2h0.7M5.7 61.8h0.7M6.5 62.0h0.7M9.0 61.9h0.7M9.4 62.0h0.7M10.5 61.8h0.7M11.1 62.0h0.7M12.1 61.7h0.7M13.5 62.0h0.7M14.9 62.1h0.7M16.1 62.2h0.7M16.4 61.9h0.7M17.2 62.0h0.7M19.0 62.2h0.7M19.8 62.2h0.7M31.2 62.3h0.7M32.0 62.2h0.7M32.9 61.7h0.7M33.0 61.6h0.7M35.8 62.2h0.7M2.6 62.7h0.7M4.5 62.9h0.7M7.5 62.7h0.7M9.2 62.9h0.7M9.9 62.8h0.7M11.8 62.5h0.7M12.3 62.9h0.7M14.1 62.7h0.7M15.1 62.7h0.7M15.6 62.4h0.7M17.1 62.4h0.7M18.9 62.9h0.7M19.3 62.9h0.7M19.7 62.6h0.7M21.2 62.4h0.7M23.1 62.7h0.7M31.4 62.6h0.7M31.9 62.5h0.7M32.3 62.8h0.7M33.5 62.7h0.7M33.7 62.9h0.7M35.9 62.3h0.7M1.2 63.4h0.7M2.4 63.5h0.7M5.2 63.2h0.7M6.0 63.1h0.7M6.7 63.5h0.7M7.1 63.4h0.7M8.1 63.5h0.7M10.6 63.3h0.7M11.6 63.4h0.7M13.9 63.5h0.7M14.9 63.6h0.7M16.2 63.2h0.7M17.8 63.3h0.7M19.0 63.7h0.7M20.6 63.2h0.7M21.6 63.4h0.7M30.4 63.4h0.7M31.4 63.1h0.7M32.2 63.5h0.7M4.4 64.0h0.7M6.0 63.8h0.7M9.4 64.2h0.7M13.7 63.8h0.7M15.1 63.8h0.7M15.6 63.8h0.7M17.0 64.2h0.7M21.7 64.0h0.7M21.7 64.0h0.7M23.8 64.2h0.7M31.3 64.0h0.7M31.6 63.9h0.7M34.0 64.1h0.7M36.7 63.9h0.7M0.4 64.5h0.7M2.0 64.9h0.7M2.2 65.1h0.7M3.0 64.8h0.7M5.9 64.7h0.7M7.0 65.1h0.7M9.0 64.5h0.7M10.9 65.0h0.7M15.1 65.0h0.7M16.4 64.9h0.7M17.2 64.6h0.7M18.9 64.5h0.7M19.7 64.9h0.7M22.1 65.0h0.7M23.9 64.8h0.7M35.4 64.5h0.7M0.8 65.2h0.7M1.9 65.2h0.7M2.5 65.7h0.7M3.1 65.2h0.7M4.2 65.5h0.7M5.2 65.1h0.7M5.6 65.5h0.7M8.3 65.6h0.7M10.2 65.3h0.7M11.5 65.5h0.7M12.0 65.8h0.7M15.2 65.8h0.7M18.1 65.4h0.7M22.9 65.8h0.7M23.1 65.4h0.7M25.0 65.2h0.7M30.2 65.5h0.7M31.4 65.2h0.7M32.0 65.5h0.7M36.3 65.1h0.7M2.6 66.1h0.7M3.1 66.5h0.7M5.4 66.0h0.7M6.4 65.9h0.7M7.1 65.9h0.7M8.2 65.9h0.7M10.4 66.5h0.7M11.0 66.2h0.7M11.8 66.4h0.7M12.1 66.1h0.7M13.1 66.2h0.7M16.4 66.3h0.7M18.2 66.0h0.7M18.8 66.4h0.7M20.6 66.1h0.7M22.4 66.3h0.7M25.6 66.3h0.7M32.2 65.9h0.7M32.9 65.9h0.7M34.4 66.5h0.7M2.5 66.9h0.7M4.6 67.0h0.7M5.8 67.1h0.7M7.0 67.2h0.7M9.9 67.1h0.7M10.9 66.7h0.7M15.5 66.9h0.7M17.3 66.6h0.7M22.1 67.0h0.7M22.5 66.8h0.7M24.7 66.6h0.7M29.2 66.7h0.7M35.6 66.6h0.7M1.3 67.3h0.7M2.1 67.7h0.7M5.5 67.5h0.7M10.1 67.7h0.7M11.5 67.8h0.7M13.5 67.4h0.7M14.7 67.5h0.7M19.0 67.7h0.7M20.4 67.6h0.7M24.7 67.7h0.7M25.5 67.4h0.7M27.6 67.7h0.7M29.5 67.5h0.7M30.6 67.3h0.7M31.0 67.3h0.7M32.2 67.7h0.7M34.1 67.8h0.7M34.5 67.8h0.7M35.4 67.8h0.7M36.5 67.3h0.7M5.0 68.6h0.7M6.2 68.6h0.7M6.6 68.2h0.7M7.2 68.0h0.7M7.9 68.1h0.7M10.1 68.5h0.7M11.5 68.2h0.7M12.2 68.0h0.7M13.7 68.2h0.7M18.3 68.5h0.7M20.2 68.5h0.7M20.3 68.3h0.7M21.4 68.1h0.7M22.7 67.9h0.7M28.0 68.5h0.7M29.1 68.0h0.7M31.4 68.4h0.7M0.7 69.0h0.7M4.8 69.3h0.7M6.2 69.0h0.7M9.6 69.2h0.7M10.6 69.0h0.7M12.4 68.6h0.7M12.6 68.8h0.7M16.3 68.7h0.7M20.4 69.0h0.7M21.4 68.8h0.7M22.5 68.8h0.7M25.7 68.7h0.7M28.4 69.2h0.7M30.3 69.1h0.7M34.5 69.1h0.7M3.0 69.6h0.7M4.9 70.0h0.7M6.3 69.5h0.7M9.6 69.7h0.7M12.6 69.6h0.7M14.4 69.9h0.7M16.0 69.3h0.7M19.8 69.7h0.7M23.9 69.4h0.7M25.0 69.4h0.7M27.2 69.7h0.7M27.7 69.8h0.7M28.4 70.0h0.7M30.9 70.0h0.7M0.6 70.1h0.7M1.5 70.6h0.7M2.1 70.1h0.7M3.1 70.5h0.7M4.0 70.4h0.7M4.5 70.2h0.7M5.2 70.3h0.7M5.7 70.2h0.7M8.1 70.3h0.7M10.2 70.4h0.7M12.0 70.4h0.7M12.9 70.5h0.7M15.4 70.4h0.7M16.6 70.0h0.7M17.2 70.7h0.7M17.7 70.6h0.7M19.1 70.7h0.7M22.8 70.1h0.7M25.1 70.1h0.7M26.5 70.5h0.7M27.3 70.6h0.7M29.0 70.2h0.7M29.7 70.4h0.7M30.2 70.4h0.7M31.9 70.6h0.7M33.3 70.3h0.7M33.6 70.4h0.7M0.4 71.3h0.7M1.8 71.1h0.7M3.0 70.7h0.7M8.9 70.9h0.7M11.0 71.0h0.7M11.5 71.3h0.7M12.7 71.2h0.7M13.3 70.8h0.7M16.3 71.0h0.7M21.1 71.3h0.7M22.2 71.2h0.7M23.6 71.2h0.7M24.9 70.7h0.7M26.6 71.2h0.7M29.3 71.2h0.7M31.7 70.7h0.7M7.9 72.0h0.7M9.2 71.5h0.7M10.0 71.9h0.7M10.8 71.5h0.7M11.7 71.6h0.7M12.6 72.0h0.7M13.6 71.7h0.7M15.6 72.0h0.7M20.4 72.1h0.7M23.7 71.9h0.7M26.1 71.6h0.7M29.5 71.9h0.7M31.3 71.5h0.7M32.5 71.6h0.7M33.8 71.7h0.7M34.6 71.8h0.7M10.8 72.2h0.7M13.1 72.5h0.7M16.6 72.2h0.7M17.6 72.7h0.7M18.7 72.5h0.7M19.8 72.2h0.7M24.3 72.2h0.7M25.4 72.2h0.7M26.5 72.3h0.7M27.2 72.3h0.7M28.6 72.2h0.7M31.1 72.7h0.7M35.1 72.4h0.7M2.3 72.9h0.7M8.2 72.9h0.7M10.3 73.4h0.7M14.4 72.8h0.7M15.5 72.8h0.7M18.8 72.9h0.7M20.8 73.0h0.7M21.1 72.9h0.7M22.8 73.0h0.7M31.1 73.3h0.7M33.7 72.9h0.7M35.0 73.5h0.7M36.5 73.3h0.7M7.0 73.9h0.7M9.5 74.1h0.7M10.0 74.1h0.7M12.6 73.6h0.7M14.9 74.1h0.7M18.2 74.1h0.7M20.0 74.0h0.7M21.4 74.2h0.7M25.2 73.9h0.7M26.0 74.0h0.7M27.6 74.2h0.7M29.7 74.2h0.7M31.8 74.0h0.7M32.8 73.8h0.7M1.3 74.4h0.7M1.7 74.6h0.7M2.5 74.3h0.7M3.3 74.3h0.7M5.1 74.8h0.7M5.7 74.5h0.7M8.8 74.4h0.7M9.3 74.2h0.7M11.4 74.2h0.7M12.2 74.8h0.7M14.0 74.5h0.7M15.7 74.3h0.7M17.6 74.4h0.7M19.1 74.4h0.7M19.7 74.6h0.7M22.4 74.5h0.7M25.2 74.7h0.7M26.4 74.8h0.7M27.9 74.4h0.7M28.4 74.8h0.7M30.4 74.4h0.7M33.6 74.9h0.7M34.0 74.7h0.7M5.9 75.4h0.7M8.2 75.1h0.7M9.4 75.3h0.7M10.6 75.3h0.7M12.5 75.5h0.7M13.1 75.2h0.7M15.4 75.0h0.7M15.6 75.1h0.7M18.0 75.0h0.7M26.6 75.1h0.7M30.1 75.5h0.7M31.9 75.3h0.7M35.8 75.6h0.7M8.6 76.2h0.7M12.9 76.3h0.7M13.8 75.7h0.7M15.9 76.3h0.7M26.4 75.9h0.7M28.0 75.7h0.7M29.0 76.2h0.7M29.8 75.6h0.7M31.2 76.0h0.7M32.1 75.7h0.7M34.2 75.6h0.7M35.2 75.8h0.7M2.4 76.9h0.7M6.7 76.3h0.7M8.3 76.5h0.7M9.4 77.0h0.7M10.4 76.8h0.7M10.9 76.8h0.7M12.6 76.5h0.7M15.8 76.8h0.7M16.3 76.6h0.7M23.2 76.6h0.7M24.0 76.5h0.7M26.3 76.7h0.7M26.8 76.6h0.7M30.5 76.5h0.7M33.6 76.7h0.7M34.0 76.8h0.7M35.8 76.7h0.7M0.5 77.3h0.7M1.4 77.4h0.7M4.7 77.5h0.7M5.4 77.0h0.7M6.3 77.2h0.7M7.8 77.0h0.7M10.4 77.3h0.7M12.5 77.2h0.7M14.0 77.0h0.7M22.5 77.0h0.7M23.5 77.2h0.7M27.8 77.6h0.7M28.5 77.2h0.7M30.1 77.3h0.7M34.0 77.1h0.7M36.0 77.3h0.7M4.3 78.0h0.7M6.6 78.1h0.7M8.4 78.4h0.7M8.9 78.2h0.7M13.8 78.0h0.7M15.1 78.2h0.7M16.2 78.2h0.7M24.0 78.4h0.7M27.1 78.2h0.7M28.0 78.3h0.7M34.6 78.1h0.7M0.4 78.8h0.7M1.3 79.0h0.7M1.8 78.9h0.7M4.5 79.1h0.7M6.6 78.6h0.7M7.3 78.8h0.7M8.3 79.1h0.7M10.1 78.5h0.7M11.8 78.5h0.7M12.5 79.1h0.7M16.2 78.8h0.7M19.3 79.0h0.7M19.7 79.1h0.7M27.6 78.6h0.7M28.7 78.7h0.7M31.1 78.8h0.7M31.9 78.8h0.7M32.7 78.9h0.7M33.2 78.8h0.7M33.8 78.8h0.7M0.5 79.8h0.7M1.9 79.7h0.7M2.5 79.7h0.7M4.4 79.5h0.7M6.0 79.7h0.7M13.2 79.6h0.7M14.4 79.6h0.7M15.6 79.3h0.7M17.0 79.2h0.7M17.8 79.3h0.7M18.8 79.3h0.7M19.0 79.4h0.7M20.9 79.5h0.7M22.2 79.8h0.7M23.5 79.8h0.7M25.3 79.4h0.7M30.8 79.2h0.7M31.8 79.6h0.7M33.3 79.5h0.7M36.0 79.7h0.7M2.0 79.9h0.7M2.4 80.0h0.7M5.2 80.5h0.7M6.3 79.9h0.7M6.4 80.4h0.7M7.3 80.2h0.7M10.2 80.5h0.7M11.2 80.0h0.7M12.5 80.3h0.7M16.4 80.4h0.7M22.8 80.4h0.7M23.6 80.4h0.7M27.8 80.4h0.7M29.4 80.1h0.7M29.4 80.2h0.7M30.7 80.3h0.7M33.6 80.3h0.7M1.0 80.9h0.7M3.2 81.0h0.7M4.1 80.7h0.7M5.5 80.6h0.7M6.2 81.2h0.7M6.8 80.6h0.7M8.6 80.6h0.7M13.6 80.8h0.7M15.3 81.0h0.7M15.5 81.0h0.7M19.1 80.7h0.7M25.7 80.6h0.7M27.1 80.6h0.7M27.4 81.1h0.7M29.0 81.0h0.7M31.6 80.9h0.7M33.1 80.7h0.7" stroke="#000" stroke-width="0.7" fill="none"/>
<path d="M1.1 39.6h0.6M1.8 39.7h0.6M12.3 39.3h0.6M22.6 40.4h0.6M25.4 40.1h0.6M26.7 40.2h0.6M26.2 40.7h0.6M28.7 41.0h0.6M1.2 41.7h0.6M2.2 41.4h0.6M5.2 41.6h0.6M6.6 41.6h0.6M35.0 42.2h0.6M35.7 42.5h0.6M1.3 43.4h0.6M7.4 42.8h0.6M35.8 42.9h0.6M6.4 44.0h0.6M13.7 44.0h0.6M34.5 43.5h0.6M36.0 44.0h0.6M11.7 44.1h0.6M16.6 44.8h0.6M18.8 44.6h0.6M36.3 44.6h0.6M2.1 45.4h0.6M2.2 45.3h0.6M15.5 45.1h0.6M1.2 45.7h0.6M2.4 46.0h0.6M6.4 46.2h0.6M9.9 45.6h0.6M12.3 45.9h0.6M12.8 45.9h0.6M14.5 45.8h0.6M34.7 46.2h0.6M35.3 45.8h0.6M0.8 46.7h0.6M7.8 46.7h0.6M1.0 47.1h0.6M2.0 47.1h0.6M3.1 47.3h0.6M10.1 47.1h0.6M0.4 48.1h0.6M0.7 47.6h0.6M4.5 47.7h0.6M10.1 48.1h0.6M10.9 48.0h0.6M12.5 47.8h0.6M13.3 48.0h0.6M35.6 48.0h0.6M35.8 47.7h0.6M1.2 48.9h0.6M2.6 48.8h0.6M3.2 48.5h0.6M5.5 48.6h0.6M5.1 49.7h0.6M6.5 49.2h0.6M3.3 49.8h0.6M34.3 50.1h0.6M0.3 50.8h0.6M1.4 51.0h0.6M0.8 51.4h0.6M1.7 51.4h0.6M5.2 51.7h0.6M34.5 51.4h0.6M35.0 51.6h0.6M1.5 52.3h0.6M35.6 52.3h0.6M36.3 52.2h0.6M37.0 51.9h0.6M2.6 52.9h0.6M6.9 53.2h0.6M12.0 52.9h0.6M0.9 53.5h0.6M3.8 53.5h0.6M7.1 53.9h0.6M13.2 53.6h0.6M34.8 53.7h0.6M35.4 53.3h0.6M3.3 54.3h0.6M4.0 54.6h0.6M8.4 54.0h0.6M33.0 54.4h0.6M34.8 54.1h0.6M1.3 54.9h0.6M1.8 54.8h0.6M8.9 55.3h0.6M9.2 55.3h0.6M11.6 55.1h0.6M12.8 54.9h0.6M34.8 54.7h0.6M2.0 55.8h0.6M2.9 55.8h0.6M4.0 55.5h0.6M8.3 55.6h0.6M1.2 56.5h0.6M14.7 56.5h0.6M34.7 56.7h0.6M35.9 56.3h0.6M36.9 56.3h0.6M1.2 57.0h0.6M14.9 57.1h0.6M17.0 56.7h0.6M36.4 57.2h0.6M2.7 58.1h0.6M9.8 57.9h0.6M12.8 57.6h0.6M36.0 57.7h0.6M1.9 58.2h0.6M10.5 58.5h0.6M11.8 58.5h0.6M35.6 58.2h0.6M0.9 59.2h0.6M8.2 59.0h0.6M12.4 58.9h0.6M16.3 59.0h0.6M34.9 59.3h0.6M6.5 59.7h0.6M8.9 59.8h0.6M35.1 60.2h0.6M1.2 60.7h0.6M18.3 60.3h0.6M31.9 60.7h0.6M33.7 60.9h0.6M36.5 60.6h0.6M0.9 61.0h0.6M2.3 61.1h0.6M2.9 61.0h0.6M5.9 61.3h0.6M14.3 61.1h0.6M16.9 61.0h0.6M31.2 61.6h0.6M31.5 61.3h0.6M2.1 62.3h0.6M7.6 62.1h0.6M7.8 62.1h0.6M11.5 62.2h0.6M16.8 62.1h0.6M20.7 62.0h0.6M2.0 62.5h0.6M10.1 62.5h0.6M14.2 62.9h0.6M15.8 62.9h0.6M34.7 62.3h0.6M1.4 63.5h0.6M9.5 63.3h0.6M13.9 63.5h0.6M18.0 63.7h0.6M19.6 63.2h0.6M35.1 63.7h0.6M0.3 64.2h0.6M1.5 64.2h0.6M8.1 64.4h0.6M16.9 64.2h0.6M20.7 63.8h0.6M31.2 64.3h0.6M35.4 64.4h0.6M36.3 63.8h0.6M36.6 64.2h0.6M5.4 64.6h0.6M6.3 64.4h0.6M8.8 64.8h0.6M17.5 64.7h0.6M24.0 64.5h0.6M30.4 64.9h0.6M32.2 64.5h0.6M32.3 65.0h0.6M35.6 64.4h0.6M2.5 65.2h0.6M3.4 65.6h0.6M4.9 65.5h0.6M13.2 65.3h0.6M16.5 65.6h0.6M18.6 65.6h0.6M34.0 65.4h0.6M35.9 65.4h0.6M0.6 65.9h0.6M4.6 66.2h0.6M7.2 66.2h0.6M8.2 66.3h0.6M8.9 65.9h0.6M14.9 65.9h0.6M20.2 66.3h0.6M23.0 65.9h0.6M29.7 65.8h0.6M31.6 66.1h0.6M35.6 66.4h0.6M36.8 65.8h0.6M3.5 67.0h0.6M4.9 66.7h0.6M8.1 67.1h0.6M10.4 67.1h0.6M14.4 66.7h0.6M24.8 66.5h0.6M32.3 67.1h0.6M35.4 67.0h0.6M1.0 67.5h0.6M1.7 67.5h0.6M3.2 67.9h0.6M3.8 67.3h0.6M8.7 67.6h0.6M12.6 67.6h0.6M26.5 67.4h0.6M30.0 67.8h0.6M32.5 67.7h0.6M2.0 68.2h0.6M2.6 68.1h0.6M12.0 68.4h0.6M13.1 68.2h0.6M18.9 68.3h0.6M20.6 68.2h0.6M25.6 68.3h0.6M33.0 68.4h0.6M3.6 69.1h0.6M5.3 68.7h0.6M6.6 68.7h0.6M11.5 69.2h0.6M12.9 69.3h0.6M15.4 68.8h0.6M16.1 69.1h0.6M23.6 68.8h0.6M24.8 68.7h0.6M26.9 68.7h0.6M29.1 68.9h0.6M32.1 69.2h0.6M33.5 68.7h0.6M35.4 69.2h0.6M2.6 69.7h0.6M3.3 69.6h0.6M3.6 70.0h0.6M14.1 69.6h0.6M14.8 70.0h0.6M17.2 69.9h0.6M24.1 69.9h0.6M26.0 69.7h0.6M32.9 70.0h0.6M33.1 70.0h0.6M33.9 69.4h0.6M34.7 69.8h0.6M35.4 69.4h0.6M7.1 70.6h0.6M17.1 70.3h0.6M19.8 70.6h0.6M20.9 70.5h0.6M23.5 70.2h0.6M24.4 70.6h0.6M24.7 70.2h0.6M28.5 70.3h0.6M29.9 70.1h0.6M33.6 70.0h0.6M34.6 70.6h0.6M35.1 70.6h0.6M0.3 71.3h0.6M1.4 71.3h0.6M1.7 71.3h0.6M5.7 70.9h0.6M14.3 70.8h0.6M18.8 71.4h0.6M21.6 70.9h0.6M25.3 71.0h0.6M30.7 70.8h0.6M31.8 71.1h0.6M35.3 71.3h0.6M35.8 70.7h0.6M2.5 72.0h0.6M4.5 72.1h0.6M20.0 71.6h0.6M22.5 71.7h0.6M27.0 71.4h0.6M29.6 72.1h0.6M34.8 71.8h0.6M1.7 72.5h0.6M5.9 72.1h0.6M8.5 72.5h0.6M9.7 72.7h0.6M10.8 72.2h0.6M13.4 72.4h0.6M16.2 72.4h0.6M23.0 72.7h0.6M23.5 72.2h0.6M29.0 72.4h0.6M29.8 72.7h0.6M30.6 72.6h0.6M33.9 72.2h0.6M1.0 73.2h0.6M1.7 73.2h0.6M3.7 73.1h0.6M4.5 72.9h0.6M6.1 73.0h0.6M10.8 73.1h0.6M15.6 73.2h0.6M17.5 73.3h0.6M21.5 72.9h0.6M22.1 73.0h0.6M27.8 72.9h0.6M28.7 72.8h0.6M30.3 72.9h0.6M34.3 73.4h0.6M2.3 74.0h0.6M4.1 73.9h0.6M6.5 74.2h0.6M9.4 73.8h0.6M10.6 73.6h0.6M12.1 74.2h0.6M14.4 73.9h0.6M16.3 74.0h0.6M17.2 74.2h0.6M17.5 73.6h0.6M18.4 73.8h0.6M21.5 73.9h0.6M25.1 73.6h0.6M25.7 73.5h0.6M26.4 73.7h0.6M30.2 73.8h0.6M0.7 74.2h0.6M2.9 74.9h0.6M5.4 74.3h0.6M10.0 74.3h0.6M14.9 74.5h0.6M17.1 74.2h0.6M24.0 74.4h0.6M27.0 74.6h0.6M34.7 74.7h0.6M35.3 74.4h0.6M36.0 74.3h0.6M3.7 75.0h0.6M5.3 75.4h0.6M7.1 75.4h0.6M7.9 75.1h0.6M13.8 75.5h0.6M15.2 75.3h0.6M17.8 75.3h0.6M18.5 75.4h0.6M20.8 75.5h0.6M27.8 75.5h0.6M28.5 75.1h0.6M35.2 75.3h0.6M1.7 75.6h0.6M4.9 75.8h0.6M6.7 76.0h0.6M13.8 76.1h0.6M15.9 75.7h0.6M19.6 75.9h0.6M22.6 75.9h0.6M25.1 75.8h0.6M25.3 76.2h0.6M28.1 76.3h0.6M29.1 76.0h0.6M30.5 76.0h0.6M33.1 75.8h0.6M4.1 76.9h0.6M5.6 76.9h0.6M6.8 76.9h0.6M8.6 76.5h0.6M14.0 76.3h0.6M15.4 76.5h0.6M17.8 77.0h0.6M19.4 76.4h0.6M1.0 77.7h0.6M3.3 77.0h0.6M3.6 77.7h0.6M4.3 77.4h0.6M5.1 77.1h0.6M8.5 77.4h0.6M12.1 77.2h0.6M13.0 77.6h0.6M14.2 77.5h0.6M17.3 77.2h0.6M21.3 77.3h0.6M24.2 77.4h0.6M26.2 77.3h0.6M27.2 77.4h0.6M30.8 77.4h0.6M31.9 77.5h0.6M35.8 77.3h0.6M7.0 78.0h0.6M9.2 78.1h0.6M13.0 77.7h0.6M15.8 77.9h0.6M26.5 77.7h0.6M26.8 78.3h0.6M28.7 78.0h0.6M33.1 78.3h0.6M35.0 78.4h0.6M35.6 78.4h0.6M0.4 78.9h0.6M7.2 78.6h0.6M10.1 78.7h0.6M10.6 78.7h0.6M13.3 78.5h0.6M13.5 78.7h0.6M14.7 78.9h0.6M16.3 79.1h0.6M17.9 78.9h0.6M18.6 78.4h0.6M22.0 78.5h0.6M25.5 78.8h0.6M27.9 78.8h0.6M29.0 78.6h0.6M2.6 79.4h0.6M4.0 79.1h0.6M5.7 79.4h0.6M7.1 79.3h0.6M8.3 79.3h0.6M13.4 79.4h0.6M14.6 79.4h0.6M17.4 79.1h0.6M18.3 79.8h0.6M24.0 79.2h0.6M27.2 79.6h0.6M31.8 79.3h0.6M34.2 79.8h0.6M34.9 79.1h0.6M2.1 80.3h0.6M4.6 80.1h0.6M8.0 80.1h0.6M8.6 80.3h0.6M10.8 80.4h0.6M15.1 80.0h0.6M15.9 80.2h0.6M16.5 80.5h0.6M19.0 79.9h0.6M20.8 79.9h0.6M26.5 80.0h0.6M28.1 80.3h0.6M29.5 80.0h0.6M30.2 79.9h0.6M31.0 80.5h0.6M31.6 80.2h0.6M35.6 80.3h0.6M2.6 81.1h0.6M4.1 80.9h0.6M6.9 81.0h0.6M7.6 81.2h0.6M8.1 80.6h0.6M8.7 81.0h0.6M16.0 80.6h0.6M22.6 81.1h0.6M24.6 80.7h0.6M26.8 80.6h0.6M30.0 80.7h0.6M31.4 80.9h0.6M34.4 81.1h0.6" stroke="#fff" stroke-width="0.6" fill="none"/>
</g>
<g filter="url(#blur06)">
<path d="M0.3 23.2 C9 22 18 20.4 25 19.6 C30 19 35.6 19.6 37.4 23 C38.6 26 38.4 31.4 37.2 34.6 C36.2 37.4 34.6 40.2 32.6 42 L2.6 38.2 L0.3 38.8 Z" fill="#cfcfcf" stroke="#3a3a3a" stroke-width="0.6"/>
<path d="M0.3 24.2 C9 23 18 21.4 25 20.6 C30 20 34.6 20.6 36.2 23.6 C37.4 26.4 37.2 31 36 33.8 C35 36 33.4 37.8 31.6 38.6 L2.6 35.4 L0.3 36 Z" fill="url(#gOuter1)"/>
<ellipse cx="25.6" cy="26.8" rx="11" ry="3.2" fill="url(#gLobe)" opacity="0.95"/>
<ellipse cx="25.6" cy="34.2" rx="10" ry="3.0" fill="url(#gLobe)" opacity="0.68"/>
<ellipse cx="32.2" cy="30.4" rx="3.6" ry="5.8" fill="url(#gLobe)" opacity="0.8"/>
</g>
<path d="M3.2 30.7 H29.4" stroke="#fff" stroke-width="1.0" stroke-dasharray="1.1 0.55" opacity="0.95"/>
<ellipse cx="29.2" cy="30.7" rx="1.3" ry="0.75" fill="#fff"/>
<rect x="0.3" y="25.4" width="1.7" height="13.4" fill="#000"/>
<path d="M2.4 36.6 C12 37.8 22 39.2 31.6 40.2" stroke="#e8e8e8" stroke-width="0.5" fill="none"/>
<polygon points="2.6,38.2 30.5,42.0 33.4,39.0 35.6,34.2 36.5,34.5 35.4,40.0 33.7,43.5 33.5,50.0 31.6,60.0 28.5,68.4 11.6,50.4 20.6,44.2 2.8,39.6" fill="#fff" stroke="#999" stroke-width="0.3"/>
<path d="M19.6 48.6 C23 46.6 26 45.4 27.8 45.4 C30.6 45.4 33 47.6 32.9 50.4 C32.8 54 31 58.4 29 60 C27 59.4 22.6 57.4 21.2 56 C19.6 54.4 19.2 51 19.6 48.6 Z" fill="none" stroke="#6a6a6a" stroke-width="0.45"/>
<path d="M24.4 49 C25.6 47.8 29.8 47.6 30.8 49 C31.6 50.4 31.4 53.4 30.2 54.6 C28.8 55.6 25.6 55.2 24.6 54 C23.6 52.8 23.6 50.2 24.4 49 Z" fill="none" stroke="#6a6a6a" stroke-width="0.45"/>
<path d="M0.9 3 V80.7" stroke="#555" stroke-width="0.6" stroke-dasharray="0.6 1.9" opacity="0.6"/>
</g>
<rect x="0" y="0" width="84.3" height="81.7" fill="none" stroke="#7a7a7a" stroke-width="0.7"/>
<path d="M38.6 18.9 H84.3 M38.6 18.9 V42.6 M38.6 42.6 H84.3" fill="none" stroke="#858585" stroke-width="0.6"/>
<text x="60.2" y="16.9" font-size="8.3" text-anchor="middle" fill="#1a1a1a" stroke="#1a1a1a" stroke-width="0.15">0.029</text>
</g>
<g transform="translate(100.7 183.6)">
<clipPath id="cp2"><rect x="0.3" y="0.3" width="83.7" height="81.10000000000001"/></clipPath>
<g clip-path="url(#cp2)">
<path d="M45.7 2.0h0.55M11.5 2.6h0.55M43.1 2.3h0.55M8.7 3.6h0.55M48.6 8.1h0.55M60.6 8.7h0.55M25.7 11.6h0.55M17.4 15.9h0.55M23.9 17.7h0.55M41.3 18.1h0.55M42.2 17.6h0.55M42.8 17.6h0.55M53.6 18.0h0.55M73.0 17.6h0.55M8.6 18.6h0.55M24.2 18.9h0.55M36.8 18.6h0.55M37.3 18.7h0.55M39.0 18.3h0.55M40.3 18.6h0.55M47.0 18.6h0.55M62.9 18.9h0.55M63.1 18.9h0.55M36.3 19.1h0.55M36.9 19.2h0.55M38.0 19.1h0.55M39.1 19.1h0.55M39.6 19.1h0.55M41.8 19.5h0.55M44.8 19.3h0.55M75.8 18.9h0.55M14.5 20.0h0.55M14.9 20.2h0.55M18.1 19.9h0.55M18.5 20.1h0.55M19.0 19.8h0.55M24.0 20.0h0.55M29.9 20.1h0.55M37.9 20.2h0.55M43.9 19.9h0.55M49.9 19.7h0.55M52.5 19.7h0.55M55.8 19.7h0.55M64.5 20.2h0.55M0.2 20.9h0.55M2.5 20.9h0.55M4.1 20.4h0.55M4.8 20.4h0.55M6.3 20.7h0.55M10.3 20.6h0.55M16.4 20.4h0.55M18.1 20.5h0.55M22.8 20.8h0.55M23.3 20.4h0.55M24.8 20.8h0.55M27.5 20.8h0.55M30.3 20.9h0.55M32.7 20.3h0.55M37.8 20.3h0.55M39.2 21.0h0.55M42.3 20.8h0.55M58.2 20.8h0.55M0.2 21.6h0.55M2.0 21.0h0.55M2.6 21.6h0.55M5.0 21.5h0.55M6.6 21.6h0.55M10.7 21.0h0.55M11.2 21.1h0.55M12.0 21.4h0.55M14.6 21.6h0.55M18.5 21.6h0.55M22.5 21.2h0.55M25.2 21.6h0.55M28.9 21.5h0.55M30.1 21.5h0.55M32.3 21.4h0.55M34.5 21.1h0.55M35.2 21.5h0.55M36.2 21.1h0.55M43.8 21.6h0.55M46.9 21.0h0.55M64.7 21.5h0.55M78.3 21.6h0.55M81.7 21.5h0.55M0.7 22.1h0.55M1.6 22.2h0.55M2.9 22.0h0.55M3.9 21.9h0.55M5.0 22.2h0.55M6.8 22.1h0.55M9.2 21.9h0.55M9.8 22.0h0.55M12.5 21.9h0.55M14.6 22.3h0.55M19.4 22.3h0.55M20.3 22.3h0.55M21.2 22.0h0.55M22.2 21.7h0.55M23.0 22.1h0.55M28.5 22.0h0.55M31.1 21.8h0.55M33.0 22.1h0.55M35.8 22.1h0.55M37.0 22.2h0.55M38.2 21.8h0.55M39.8 22.4h0.55M40.4 22.2h0.55M40.6 22.3h0.55M42.5 21.9h0.55M43.4 22.3h0.55M44.2 22.1h0.55M45.4 21.9h0.55M47.3 21.9h0.55M52.0 22.1h0.55M81.6 21.9h0.55M10.3 22.6h0.55M14.5 22.5h0.55M14.8 22.9h0.55M17.3 22.9h0.55M21.0 22.8h0.55M28.9 22.8h0.55M30.2 22.7h0.55M31.8 23.1h0.55M34.2 22.4h0.55M35.7 22.8h0.55M36.1 23.0h0.55M41.8 22.6h0.55M52.1 22.8h0.55M57.0 22.5h0.55M63.9 22.9h0.55M64.8 22.8h0.55M68.8 22.8h0.55M3.0 23.2h0.55M15.6 23.2h0.55M30.3 23.4h0.55M35.7 23.2h0.55M35.8 23.3h0.55M37.3 23.1h0.55M38.3 23.4h0.55M38.8 23.7h0.55M40.3 23.2h0.55M45.3 23.6h0.55M54.7 23.6h0.55M56.0 23.5h0.55M61.8 23.7h0.55M80.6 23.1h0.55M40.8 23.9h0.55M41.6 24.3h0.55M42.3 24.2h0.55M47.8 24.2h0.55M49.4 23.9h0.55M50.7 23.8h0.55M53.3 24.3h0.55M56.0 24.2h0.55M56.4 24.4h0.55M57.3 24.3h0.55M79.9 24.1h0.55M36.9 24.6h0.55M37.6 25.2h0.55M38.9 24.6h0.55M39.4 25.1h0.55M40.4 24.5h0.55M40.6 24.8h0.55M41.6 24.7h0.55M42.5 24.9h0.55M44.1 24.6h0.55M46.9 25.1h0.55M51.2 25.1h0.55M52.8 24.9h0.55M36.9 25.6h0.55M37.6 25.6h0.55M38.1 25.8h0.55M41.6 25.9h0.55M43.2 25.8h0.55M45.9 25.6h0.55M51.2 25.4h0.55M64.6 25.4h0.55M65.6 25.4h0.55M79.4 25.3h0.55M35.7 26.1h0.55M36.1 26.6h0.55M36.6 26.1h0.55M37.5 26.0h0.55M39.3 26.3h0.55M40.8 25.9h0.55M42.5 26.1h0.55M44.0 26.5h0.55M47.0 26.1h0.55M51.1 26.2h0.55M56.5 25.9h0.55M63.3 26.3h0.55M36.0 26.8h0.55M38.6 27.0h0.55M39.8 26.7h0.55M42.2 26.7h0.55M45.7 26.7h0.55M47.3 26.9h0.55M48.2 26.7h0.55M50.0 27.3h0.55M57.2 27.1h0.55M60.4 26.9h0.55M63.1 26.9h0.55M69.7 26.7h0.55M82.9 27.3h0.55M37.2 27.6h0.55M38.2 27.8h0.55M39.9 27.8h0.55M41.6 27.7h0.55M45.3 27.5h0.55M46.1 27.6h0.55M51.7 27.9h0.55M56.7 27.6h0.55M59.7 28.0h0.55M65.1 27.7h0.55M66.7 27.7h0.55M72.8 27.6h0.55M35.8 28.4h0.55M37.4 28.5h0.55M38.3 28.3h0.55M42.0 28.6h0.55M42.9 28.2h0.55M46.8 28.1h0.55M48.9 28.1h0.55M50.7 28.3h0.55M51.1 28.4h0.55M65.0 28.4h0.55M71.5 28.4h0.55M78.9 28.2h0.55M36.2 28.8h0.55M36.9 28.9h0.55M38.1 29.4h0.55M39.3 29.3h0.55M39.9 29.2h0.55M41.2 28.7h0.55M43.3 29.4h0.55M44.2 28.9h0.55M45.3 29.2h0.55M46.6 29.2h0.55M49.3 29.3h0.55M49.8 29.2h0.55M68.4 29.1h0.55M35.8 29.7h0.55M36.8 30.0h0.55M37.7 29.5h0.55M37.9 30.0h0.55M39.8 29.5h0.55M41.6 29.7h0.55M43.1 29.9h0.55M49.9 29.7h0.55M53.7 29.7h0.55M54.0 30.0h0.55M54.6 29.4h0.55M68.0 29.8h0.55M83.7 29.6h0.55M36.2 30.1h0.55M36.6 30.7h0.55M37.4 30.6h0.55M39.6 30.7h0.55M40.2 30.6h0.55M41.4 30.6h0.55M43.2 30.6h0.55M43.8 30.6h0.55M44.8 30.6h0.55M45.5 30.3h0.55M47.4 30.7h0.55M48.5 30.2h0.55M50.1 30.2h0.55M55.0 30.7h0.55M63.7 30.1h0.55M36.1 31.3h0.55M38.2 31.3h0.55M38.9 30.9h0.55M39.7 31.2h0.55M46.1 31.5h0.55M47.3 31.2h0.55M53.2 31.1h0.55M54.3 31.1h0.55M59.5 31.0h0.55M60.0 30.9h0.55M61.6 31.5h0.55M76.1 31.3h0.55M35.6 31.6h0.55M36.3 32.2h0.55M37.2 31.6h0.55M38.1 31.8h0.55M39.1 31.9h0.55M39.4 31.6h0.55M39.9 31.6h0.55M41.9 32.0h0.55M42.5 32.1h0.55M43.2 31.7h0.55M43.8 31.7h0.55M46.0 32.2h0.55M47.6 32.2h0.55M52.2 32.0h0.55M61.6 31.7h0.55M36.0 32.8h0.55M36.5 32.8h0.55M37.2 32.6h0.55M39.1 32.8h0.55M40.3 32.5h0.55M41.1 32.9h0.55M42.3 32.2h0.55M43.9 32.4h0.55M44.2 32.7h0.55M46.4 32.3h0.55M47.1 32.3h0.55M57.9 32.6h0.55M61.6 32.5h0.55M62.6 32.3h0.55M36.2 33.2h0.55M37.3 33.6h0.55M40.6 33.3h0.55M42.7 33.1h0.55M44.1 33.1h0.55M45.6 33.1h0.55M49.9 33.1h0.55M51.2 33.2h0.55M54.3 33.2h0.55M55.6 33.4h0.55M57.8 33.4h0.55M61.4 33.3h0.55M68.8 33.4h0.55M76.9 33.5h0.55M36.9 33.7h0.55M37.3 34.1h0.55M39.2 33.8h0.55M39.4 33.7h0.55M43.3 34.1h0.55M44.0 33.8h0.55M47.2 34.3h0.55M49.5 34.1h0.55M50.1 34.2h0.55M51.0 33.7h0.55M60.9 33.6h0.55M63.6 34.0h0.55M63.8 33.6h0.55M83.8 34.3h0.55M35.9 34.8h0.55M37.0 34.4h0.55M37.5 34.9h0.55M38.4 34.6h0.55M39.1 35.0h0.55M39.4 34.4h0.55M40.5 34.5h0.55M41.0 34.9h0.55M41.5 34.6h0.55M43.1 34.4h0.55M48.9 34.9h0.55M50.6 34.6h0.55M52.1 34.8h0.55M76.8 34.7h0.55M35.7 35.6h0.55M36.7 35.4h0.55M37.4 35.2h0.55M38.3 35.5h0.55M39.3 35.5h0.55M41.0 35.1h0.55M41.9 35.2h0.55M70.5 35.3h0.55M36.0 35.9h0.55M36.6 36.0h0.55M37.2 36.2h0.55M41.9 36.2h0.55M42.3 35.9h0.55M44.5 35.9h0.55M60.3 36.1h0.55M36.0 36.7h0.55M37.6 36.4h0.55M39.0 36.8h0.55M46.2 36.5h0.55M53.8 36.6h0.55M55.6 36.6h0.55M37.1 37.8h0.55M37.6 37.8h0.55M38.2 37.3h0.55M39.6 37.4h0.55M40.2 37.6h0.55M41.8 37.3h0.55M42.1 37.3h0.55M44.4 37.1h0.55M46.4 37.7h0.55M47.0 37.2h0.55M51.2 37.7h0.55M57.4 37.2h0.55M58.8 37.8h0.55M70.4 37.5h0.55M77.4 37.3h0.55M40.6 37.8h0.55M43.2 38.0h0.55M46.1 38.1h0.55M48.6 38.1h0.55M70.1 38.4h0.55M35.9 38.5h0.55M38.1 38.8h0.55M40.0 39.1h0.55M42.6 39.2h0.55M44.4 38.9h0.55M56.9 39.2h0.55M35.5 39.5h0.55M36.5 39.6h0.55M37.2 39.4h0.55M40.4 39.8h0.55M42.6 39.6h0.55M46.2 39.6h0.55M49.4 39.3h0.55M37.6 40.2h0.55M37.8 40.6h0.55M39.4 40.1h0.55M41.4 40.6h0.55M44.1 40.1h0.55M57.7 40.1h0.55M66.9 40.0h0.55M35.7 40.7h0.55M38.6 41.3h0.55M41.4 41.0h0.55M42.4 40.7h0.55M43.4 41.1h0.55M44.7 41.2h0.55M47.7 41.1h0.55M51.3 40.7h0.55M66.3 40.8h0.55M69.6 41.3h0.55M74.8 41.2h0.55M36.5 42.0h0.55M37.5 41.8h0.55M38.2 41.4h0.55M39.2 41.5h0.55M41.3 41.4h0.55M41.8 41.6h0.55M44.1 41.5h0.55M46.4 41.6h0.55M57.7 41.8h0.55M67.6 41.4h0.55M70.1 41.5h0.55M33.2 42.1h0.55M34.1 42.7h0.55M34.7 42.1h0.55M35.1 42.5h0.55M36.7 42.2h0.55M37.7 42.7h0.55M39.7 42.1h0.55M39.9 42.2h0.55M41.1 42.3h0.55M42.9 42.2h0.55M43.7 42.3h0.55M47.3 42.0h0.55M71.9 42.2h0.55M34.7 43.3h0.55M35.2 43.1h0.55M35.9 42.9h0.55M38.7 43.0h0.55M40.4 43.0h0.55M41.6 42.9h0.55M47.2 43.2h0.55M48.0 43.2h0.55M55.2 43.3h0.55M33.9 43.7h0.55M34.6 43.5h0.55M35.3 43.5h0.55M37.8 43.7h0.55M38.8 44.1h0.55M40.2 43.4h0.55M45.3 43.4h0.55M65.7 43.7h0.55M34.7 44.7h0.55M35.5 44.5h0.55M37.2 44.4h0.55M38.9 44.3h0.55M40.3 44.7h0.55M41.1 44.3h0.55M48.6 44.3h0.55M50.7 44.1h0.55M53.6 44.6h0.55M53.9 44.2h0.55M60.2 44.3h0.55M76.0 44.4h0.55M35.6 44.8h0.55M41.1 45.4h0.55M41.5 44.8h0.55M42.9 45.0h0.55M47.2 45.2h0.55M49.8 45.3h0.55M52.4 45.0h0.55M66.5 45.1h0.55M0.2 45.8h0.55M34.8 45.8h0.55M35.8 45.8h0.55M37.5 46.2h0.55M41.0 45.7h0.55M47.5 46.1h0.55M51.5 45.7h0.55M35.7 46.4h0.55M40.2 46.3h0.55M52.0 46.4h0.55M61.3 46.5h0.55M62.9 46.5h0.55M78.4 46.3h0.55M81.3 46.5h0.55M82.8 46.6h0.55M35.5 47.5h0.55M36.5 47.5h0.55M37.2 47.2h0.55M38.3 47.5h0.55M39.6 47.5h0.55M42.1 47.0h0.55M42.9 47.3h0.55M44.7 47.5h0.55M47.4 46.9h0.55M48.7 47.6h0.55M50.4 47.1h0.55M51.5 47.3h0.55M53.5 46.9h0.55M36.8 48.1h0.55M38.0 47.7h0.55M38.8 48.3h0.55M39.9 48.2h0.55M43.4 47.7h0.55M49.9 47.9h0.55M36.0 48.5h0.55M36.5 48.3h0.55M38.2 48.8h0.55M40.0 48.8h0.55M43.8 48.6h0.55M45.4 48.5h0.55M51.4 48.4h0.55M62.7 48.6h0.55M36.3 49.6h0.55M37.0 49.0h0.55M40.5 49.4h0.55M41.6 49.4h0.55M42.6 49.4h0.55M43.5 49.3h0.55M54.2 49.4h0.55M55.1 49.4h0.55M59.1 49.0h0.55M59.7 49.7h0.55M69.4 49.3h0.55M74.6 49.6h0.55M81.8 49.5h0.55M0.2 49.9h0.55M36.2 49.8h0.55M40.0 50.4h0.55M44.3 50.2h0.55M52.1 50.4h0.55M74.0 50.0h0.55M35.6 50.8h0.55M35.7 50.4h0.55M39.1 50.9h0.55M39.3 51.0h0.55M40.3 51.0h0.55M43.3 51.1h0.55M54.8 50.8h0.55M64.7 51.0h0.55M79.1 51.0h0.55M35.4 51.7h0.55M39.7 51.5h0.55M41.1 51.6h0.55M43.2 51.5h0.55M43.9 51.5h0.55M47.4 51.5h0.55M74.4 51.7h0.55M35.4 51.8h0.55M35.8 52.0h0.55M37.5 52.0h0.55M37.8 52.3h0.55M38.7 51.9h0.55M39.9 51.9h0.55M41.3 52.1h0.55M42.3 52.4h0.55M44.3 52.5h0.55M50.7 52.1h0.55M63.3 51.8h0.55M65.2 52.3h0.55M35.4 52.9h0.55M37.1 52.9h0.55M38.9 52.9h0.55M39.9 52.8h0.55M41.0 52.6h0.55M46.0 52.6h0.55M46.9 52.8h0.55M51.1 52.5h0.55M51.6 52.7h0.55M62.9 52.9h0.55M63.5 52.7h0.55M35.1 53.7h0.55M37.1 53.7h0.55M38.0 53.9h0.55M38.8 53.3h0.55M39.7 53.8h0.55M40.6 53.4h0.55M43.2 53.5h0.55M43.9 53.6h0.55M51.9 53.3h0.55M55.0 53.6h0.55M57.9 53.5h0.55M61.8 53.8h0.55M35.1 54.3h0.55M35.9 54.5h0.55M36.7 54.4h0.55M38.1 54.5h0.55M44.5 54.0h0.55M57.4 54.4h0.55M58.2 54.3h0.55M36.8 55.3h0.55M37.2 55.0h0.55M37.8 54.8h0.55M39.5 55.0h0.55M42.1 55.2h0.55M44.5 54.7h0.55M45.6 54.7h0.55M67.3 54.7h0.55M68.3 54.8h0.55M34.9 55.7h0.55M35.2 55.8h0.55M36.1 55.3h0.55M37.6 55.7h0.55M37.8 55.5h0.55M39.3 55.5h0.55M40.9 55.4h0.55M44.3 55.4h0.55M46.6 55.7h0.55M49.2 55.4h0.55M50.0 55.5h0.55M51.3 55.8h0.55M52.6 55.5h0.55M53.6 55.7h0.55M54.0 55.5h0.55M59.5 55.8h0.55M65.5 55.8h0.55M35.6 56.2h0.55M37.3 56.1h0.55M38.3 56.1h0.55M39.8 56.3h0.55M39.9 56.2h0.55M47.6 56.1h0.55M54.5 56.5h0.55M74.4 56.0h0.55M35.1 57.2h0.55M37.1 56.8h0.55M37.2 56.8h0.55M37.9 57.4h0.55M39.2 56.8h0.55M39.3 56.9h0.55M40.5 57.1h0.55M40.6 57.0h0.55M41.3 56.9h0.55M42.2 56.9h0.55M43.1 57.4h0.55M50.5 57.1h0.55M55.3 56.8h0.55M66.8 56.9h0.55M68.8 56.7h0.55M72.7 57.0h0.55M77.5 57.3h0.55M78.6 57.2h0.55M35.1 57.9h0.55M35.9 57.6h0.55M36.8 57.5h0.55M37.4 57.5h0.55M38.3 57.7h0.55M39.6 57.4h0.55M42.2 57.5h0.55M43.1 57.7h0.55M44.7 57.5h0.55M45.8 57.5h0.55M50.5 57.8h0.55M51.5 58.0h0.55M61.3 58.0h0.55M64.1 58.0h0.55M68.9 58.0h0.55M77.8 58.1h0.55M36.5 58.4h0.55M37.4 58.7h0.55M40.8 58.2h0.55M45.0 58.8h0.55M57.5 58.3h0.55M58.2 58.6h0.55M83.9 58.6h0.55M34.7 59.4h0.55M35.8 59.1h0.55M37.2 59.0h0.55M39.2 58.8h0.55M46.7 59.3h0.55M50.8 59.2h0.55M51.3 58.9h0.55M54.1 58.9h0.55M63.1 58.8h0.55M69.1 59.3h0.55M0.3 60.0h0.55M36.4 59.6h0.55M36.6 59.7h0.55M54.0 59.8h0.55M62.6 59.6h0.55M34.6 60.9h0.55M37.6 60.5h0.55M41.3 60.5h0.55M41.6 60.6h0.55M42.6 60.8h0.55M46.7 60.4h0.55M48.3 60.4h0.55M53.0 60.7h0.55M54.2 60.2h0.55M55.8 60.8h0.55M57.4 60.8h0.55M61.4 60.2h0.55M66.3 60.5h0.55M66.6 60.4h0.55M0.3 61.3h0.55M40.1 61.3h0.55M41.0 61.2h0.55M42.6 61.4h0.55M46.2 60.9h0.55M47.6 61.3h0.55M57.6 61.1h0.55M61.4 60.9h0.55M34.4 61.9h0.55M35.3 62.1h0.55M37.0 62.1h0.55M39.0 62.0h0.55M41.4 61.9h0.55M43.6 61.6h0.55M48.9 61.8h0.55M52.9 62.1h0.55M56.7 61.8h0.55M60.8 62.0h0.55M34.7 62.5h0.55M36.7 62.3h0.55M37.7 62.3h0.55M41.4 62.7h0.55M43.4 62.4h0.55M43.7 62.3h0.55M45.4 62.5h0.55M66.5 62.8h0.55M69.0 62.4h0.55M0.2 63.2h0.55M35.1 63.6h0.55M36.4 63.2h0.55M36.6 63.4h0.55M38.5 63.6h0.55M40.4 63.2h0.55M41.0 63.4h0.55M41.8 63.0h0.55M45.0 63.5h0.55M64.7 63.4h0.55M34.9 64.1h0.55M36.0 64.0h0.55M37.0 64.1h0.55M37.8 64.2h0.55M38.1 63.9h0.55M42.5 64.4h0.55M45.2 63.8h0.55M56.0 64.1h0.55M70.8 64.0h0.55M34.7 64.5h0.55M35.2 64.4h0.55M36.0 64.4h0.55M37.4 64.4h0.55M38.3 64.8h0.55M38.8 64.7h0.55M41.6 64.6h0.55M59.8 64.6h0.55M61.9 64.9h0.55M35.2 65.6h0.55M36.0 65.3h0.55M36.8 65.3h0.55M38.5 65.1h0.55M39.1 65.5h0.55M42.8 65.1h0.55M45.5 65.3h0.55M51.2 65.2h0.55M34.8 66.4h0.55M35.2 66.0h0.55M36.2 65.9h0.55M37.1 66.3h0.55M39.1 66.2h0.55M40.9 65.8h0.55M46.3 66.5h0.55M47.7 66.4h0.55M57.0 66.4h0.55M35.4 67.1h0.55M35.9 66.5h0.55M39.3 67.1h0.55M40.2 66.6h0.55M43.6 67.0h0.55M52.3 66.6h0.55M55.5 67.0h0.55M66.7 67.0h0.55M0.1 67.8h0.55M35.9 67.5h0.55M36.7 67.2h0.55M37.5 67.3h0.55M40.1 67.3h0.55M66.3 67.9h0.55M35.8 68.3h0.55M40.5 68.1h0.55M51.1 68.4h0.55M74.1 68.2h0.55M36.4 68.6h0.55M38.2 69.1h0.55M39.3 68.9h0.55M45.0 68.9h0.55M49.9 68.7h0.55M54.9 69.0h0.55M57.9 68.8h0.55M0.1 69.5h0.55M35.0 69.9h0.55M35.9 69.7h0.55M37.6 70.0h0.55M38.6 69.4h0.55M39.4 69.9h0.55M45.3 69.7h0.55M60.7 69.9h0.55M71.0 69.9h0.55M82.4 69.5h0.55M39.9 70.0h0.55M41.3 70.0h0.55M42.5 70.6h0.55M42.8 70.2h0.55M45.2 70.5h0.55M46.2 70.6h0.55M51.4 70.2h0.55M68.6 70.5h0.55M69.4 70.3h0.55M36.0 71.2h0.55M38.9 71.0h0.55M40.4 71.3h0.55M43.3 70.9h0.55M47.4 71.3h0.55M48.2 71.3h0.55M50.2 70.7h0.55M51.1 70.8h0.55M68.4 71.1h0.55M73.2 71.3h0.55M0.1 72.0h0.55M37.1 71.7h0.55M39.1 72.1h0.55M40.2 71.8h0.55M43.7 71.6h0.55M44.2 71.5h0.55M46.2 71.7h0.55M46.4 71.7h0.55M58.1 71.8h0.55M35.6 72.3h0.55M35.9 72.3h0.55M38.3 72.3h0.55M40.5 72.1h0.55M40.6 72.2h0.55M45.8 72.7h0.55M66.0 72.4h0.55M67.4 72.4h0.55M35.2 73.1h0.55M36.1 72.8h0.55M37.5 73.3h0.55M37.9 73.0h0.55M40.2 73.1h0.55M42.4 73.1h0.55M45.6 72.9h0.55M50.3 73.2h0.55M51.8 73.3h0.55M80.1 73.4h0.55M37.3 74.0h0.55M42.8 73.7h0.55M48.8 74.1h0.55M56.1 73.8h0.55M60.9 73.9h0.55M61.6 74.2h0.55M63.5 74.2h0.55M35.8 74.8h0.55M39.4 74.5h0.55M45.9 74.3h0.55M47.5 74.8h0.55M53.5 74.6h0.55M54.6 74.2h0.55M35.6 75.6h0.55M35.8 75.4h0.55M37.2 75.5h0.55M40.2 74.9h0.55M44.6 75.3h0.55M47.8 74.9h0.55M36.5 76.0h0.55M37.7 76.2h0.55M39.1 75.9h0.55M41.5 76.2h0.55M44.0 76.2h0.55M47.1 76.0h0.55M55.6 76.3h0.55M65.5 76.0h0.55M67.3 75.6h0.55M72.0 75.7h0.55M37.8 76.6h0.55M40.1 76.7h0.55M41.1 76.7h0.55M41.9 76.5h0.55M46.5 76.8h0.55M53.7 77.0h0.55M58.0 76.8h0.55M76.8 76.4h0.55M35.4 77.1h0.55M80.4 77.4h0.55M35.7 78.1h0.55M37.6 78.0h0.55M41.6 77.8h0.55M42.9 77.7h0.55M53.1 78.0h0.55M53.4 77.8h0.55M36.2 78.5h0.55M37.6 78.6h0.55M38.7 78.6h0.55M43.2 79.0h0.55M58.4 79.0h0.55M72.7 78.6h0.55M36.4 79.3h0.55M37.5 79.4h0.55M39.2 79.6h0.55M40.7 79.5h0.55M41.7 79.5h0.55M48.4 79.5h0.55M51.5 79.5h0.55M52.4 79.6h0.55M53.0 79.3h0.55M56.1 79.6h0.55M64.4 79.1h0.55M75.7 79.3h0.55M36.4 80.2h0.55M37.0 80.5h0.55M37.7 80.2h0.55M39.8 79.9h0.55M45.1 80.4h0.55M77.5 80.0h0.55M37.8 81.1h0.55M41.1 80.5h0.55M42.5 81.2h0.55M44.1 80.9h0.55M44.2 80.6h0.55M48.8 81.0h0.55M66.4 80.8h0.55" stroke="#3c3c3c" stroke-width="0.55" fill="none"/>
<polygon points="0.3,40.2 17.5,42.0 33.5,42.2 35.2,50.0 34.4,62.0 35.6,81.7 0.3,81.7" fill="#767676" filter="url(#blur05)"/>
<g filter="url(#blur03)">
<path d="M4.5 40.7h0.7M6.4 41.0h0.7M0.5 41.7h0.7M0.8 41.6h0.7M1.8 41.6h0.7M5.5 41.5h0.7M7.2 41.6h0.7M8.9 41.4h0.7M9.3 41.4h0.7M13.2 41.9h0.7M15.5 42.0h0.7M10.3 42.2h0.7M12.9 42.1h0.7M15.5 42.4h0.7M16.8 42.5h0.7M20.1 42.1h0.7M22.0 42.4h0.7M29.1 42.4h0.7M1.1 43.0h0.7M1.6 42.9h0.7M33.3 43.0h0.7M2.0 43.4h0.7M2.3 44.0h0.7M3.2 43.8h0.7M3.7 43.5h0.7M4.7 43.7h0.7M5.0 43.7h0.7M9.4 44.0h0.7M11.6 44.0h0.7M33.6 43.7h0.7M1.8 44.4h0.7M4.0 44.2h0.7M5.9 44.6h0.7M6.9 44.2h0.7M7.6 44.2h0.7M8.4 44.7h0.7M9.3 44.5h0.7M10.7 44.2h0.7M11.6 44.6h0.7M12.9 44.6h0.7M15.4 44.6h0.7M1.9 45.5h0.7M2.4 45.4h0.7M3.9 45.5h0.7M4.8 45.2h0.7M6.1 45.4h0.7M7.7 45.4h0.7M9.1 45.0h0.7M12.8 45.4h0.7M4.0 45.9h0.7M4.5 45.6h0.7M5.0 45.9h0.7M8.3 45.9h0.7M8.8 45.6h0.7M10.9 45.7h0.7M11.5 45.9h0.7M13.6 45.7h0.7M14.7 45.8h0.7M0.7 46.3h0.7M0.7 46.2h0.7M4.0 46.3h0.7M5.7 46.8h0.7M7.2 46.9h0.7M9.1 46.2h0.7M10.4 46.3h0.7M11.7 46.4h0.7M12.3 46.5h0.7M12.9 46.7h0.7M0.4 47.3h0.7M2.2 47.2h0.7M4.1 47.1h0.7M8.4 47.0h0.7M9.5 47.1h0.7M11.7 47.6h0.7M14.3 47.3h0.7M0.4 47.8h0.7M3.5 47.7h0.7M3.7 48.1h0.7M4.4 48.0h0.7M5.4 48.1h0.7M7.3 48.0h0.7M8.5 47.8h0.7M10.6 47.7h0.7M11.7 47.9h0.7M13.5 47.9h0.7M0.9 48.4h0.7M2.3 48.5h0.7M3.4 48.5h0.7M5.5 48.8h0.7M7.4 48.5h0.7M9.1 49.0h0.7M11.8 49.0h0.7M12.5 48.5h0.7M13.5 48.9h0.7M0.5 49.0h0.7M1.2 49.3h0.7M2.9 49.1h0.7M4.1 49.4h0.7M5.4 49.5h0.7M7.4 49.5h0.7M9.8 49.0h0.7M10.7 49.3h0.7M4.1 50.4h0.7M5.9 50.1h0.7M6.7 50.4h0.7M7.6 50.1h0.7M7.9 50.1h0.7M11.1 50.0h0.7M11.4 49.8h0.7M12.0 50.0h0.7M0.9 50.6h0.7M2.2 50.8h0.7M4.4 51.1h0.7M5.6 50.6h0.7M5.7 51.0h0.7M7.4 50.6h0.7M8.1 50.7h0.7M8.8 50.4h0.7M9.8 50.6h0.7M9.8 51.0h0.7M10.9 50.5h0.7M11.7 50.4h0.7M12.2 51.0h0.7M4.8 51.2h0.7M6.9 51.1h0.7M1.5 52.0h0.7M2.2 52.2h0.7M3.4 52.5h0.7M6.3 52.1h0.7M10.7 51.9h0.7M1.4 53.1h0.7M2.8 52.6h0.7M4.2 52.8h0.7M5.8 53.2h0.7M6.5 52.8h0.7M8.1 53.0h0.7M8.7 53.2h0.7M9.5 52.8h0.7M10.3 52.5h0.7M11.1 52.6h0.7M1.3 53.6h0.7M1.5 53.5h0.7M6.6 53.7h0.7M8.9 53.6h0.7M9.7 53.4h0.7M10.3 53.2h0.7M11.7 53.9h0.7M1.7 54.0h0.7M2.5 54.3h0.7M3.4 54.4h0.7M3.9 54.4h0.7M4.4 53.9h0.7M5.0 54.1h0.7M6.9 54.5h0.7M7.5 54.3h0.7M8.2 54.0h0.7M8.9 54.1h0.7M2.7 54.9h0.7M4.7 54.6h0.7M5.3 54.7h0.7M5.8 55.3h0.7M7.0 55.0h0.7M8.5 54.7h0.7M9.3 54.6h0.7M10.5 54.9h0.7M11.4 54.6h0.7M12.1 55.3h0.7M2.3 55.8h0.7M5.0 55.8h0.7M8.1 55.8h0.7M10.1 56.0h0.7M10.8 55.5h0.7M11.8 55.5h0.7M12.8 55.7h0.7M14.4 56.0h0.7M6.4 56.5h0.7M8.3 56.4h0.7M9.0 56.5h0.7M10.4 56.4h0.7M11.3 56.7h0.7M14.3 56.6h0.7M15.3 56.6h0.7M1.1 56.7h0.7M1.9 56.9h0.7M2.1 56.8h0.7M6.3 57.3h0.7M6.7 57.1h0.7M8.1 56.7h0.7M8.5 57.4h0.7M9.7 57.0h0.7M10.0 56.7h0.7M12.3 57.4h0.7M15.0 57.0h0.7M15.6 57.3h0.7M2.8 57.6h0.7M2.8 57.6h0.7M5.1 57.7h0.7M9.1 57.5h0.7M10.0 57.8h0.7M11.0 57.7h0.7M12.5 58.0h0.7M12.6 57.6h0.7M34.5 57.8h0.7M9.0 58.5h0.7M9.4 58.6h0.7M10.7 58.3h0.7M13.6 58.2h0.7M16.1 58.2h0.7M17.4 58.7h0.7M0.9 59.4h0.7M4.5 59.0h0.7M5.2 58.8h0.7M8.3 59.4h0.7M10.4 59.3h0.7M11.7 59.1h0.7M12.1 59.4h0.7M15.6 59.4h0.7M16.9 59.0h0.7M17.8 59.1h0.7M34.4 59.3h0.7M1.0 60.1h0.7M1.7 60.1h0.7M2.6 60.0h0.7M8.3 59.6h0.7M9.0 60.1h0.7M11.4 59.9h0.7M14.0 59.8h0.7M15.4 59.9h0.7M15.8 59.7h0.7M18.1 60.0h0.7M19.0 59.9h0.7M1.4 60.5h0.7M4.0 60.2h0.7M5.0 60.9h0.7M6.3 60.2h0.7M10.0 60.5h0.7M11.5 60.7h0.7M14.8 60.3h0.7M16.0 60.8h0.7M16.8 60.6h0.7M18.3 60.7h0.7M34.0 60.3h0.7M2.2 61.4h0.7M5.2 61.3h0.7M8.0 61.3h0.7M9.3 61.2h0.7M11.2 61.4h0.7M11.6 61.1h0.7M13.2 61.0h0.7M14.0 61.1h0.7M14.4 61.4h0.7M15.1 61.4h0.7M20.2 61.3h0.7M33.7 61.4h0.7M2.9 62.1h0.7M3.6 61.6h0.7M4.9 61.6h0.7M5.2 62.2h0.7M5.9 62.0h0.7M9.2 62.2h0.7M10.1 62.2h0.7M12.3 61.9h0.7M12.7 61.8h0.7M13.5 62.2h0.7M16.0 62.1h0.7M16.1 61.9h0.7M18.0 62.2h0.7M18.7 62.3h0.7M19.3 61.7h0.7M32.5 62.2h0.7M33.3 62.3h0.7M0.4 62.9h0.7M3.1 62.6h0.7M6.0 63.0h0.7M6.7 62.6h0.7M7.4 62.3h0.7M7.8 62.4h0.7M9.1 62.5h0.7M9.3 62.5h0.7M10.1 62.8h0.7M11.3 62.3h0.7M15.9 62.9h0.7M18.4 62.3h0.7M21.3 63.0h0.7M22.0 62.7h0.7M2.0 63.6h0.7M4.0 63.7h0.7M4.8 63.6h0.7M8.4 63.2h0.7M9.6 63.1h0.7M10.4 63.3h0.7M10.6 63.3h0.7M12.2 63.6h0.7M13.5 63.1h0.7M15.6 63.7h0.7M16.7 63.2h0.7M18.8 63.6h0.7M19.5 63.1h0.7M20.1 63.3h0.7M21.5 63.2h0.7M22.8 63.5h0.7M33.2 63.6h0.7M0.7 64.4h0.7M2.0 63.8h0.7M4.1 64.3h0.7M4.3 64.2h0.7M5.3 64.2h0.7M7.1 64.3h0.7M9.8 64.3h0.7M10.5 64.2h0.7M11.5 64.3h0.7M13.9 63.9h0.7M14.3 63.9h0.7M14.9 63.7h0.7M16.2 64.0h0.7M17.0 63.8h0.7M17.5 64.1h0.7M18.7 64.2h0.7M19.3 63.9h0.7M20.3 64.1h0.7M20.9 63.8h0.7M23.0 64.1h0.7M23.2 63.7h0.7M23.9 64.3h0.7M1.1 64.4h0.7M1.8 65.0h0.7M5.3 65.1h0.7M5.7 64.8h0.7M8.1 64.5h0.7M8.6 64.5h0.7M11.0 65.1h0.7M13.3 64.7h0.7M15.1 64.6h0.7M15.9 64.9h0.7M18.5 65.0h0.7M20.9 64.8h0.7M22.1 64.6h0.7M23.3 65.0h0.7M33.5 64.9h0.7M5.2 65.7h0.7M5.9 65.5h0.7M8.4 65.3h0.7M14.6 65.7h0.7M17.4 65.8h0.7M18.7 65.7h0.7M19.1 65.8h0.7M20.9 65.4h0.7M21.7 65.2h0.7M22.4 65.7h0.7M26.0 65.4h0.7M32.5 65.4h0.7M33.9 65.4h0.7M1.2 66.2h0.7M4.8 66.0h0.7M5.6 66.0h0.7M6.2 66.3h0.7M6.5 65.9h0.7M9.7 66.4h0.7M11.1 66.3h0.7M15.3 66.4h0.7M16.0 66.3h0.7M18.0 66.4h0.7M19.4 66.0h0.7M20.1 66.3h0.7M21.1 66.4h0.7M25.4 65.9h0.7M31.5 66.1h0.7M31.9 65.9h0.7M32.8 66.3h0.7M33.1 66.5h0.7M1.1 66.8h0.7M3.2 66.6h0.7M3.9 66.9h0.7M8.4 66.6h0.7M9.3 66.7h0.7M10.0 67.0h0.7M13.2 67.1h0.7M14.1 66.8h0.7M15.1 66.6h0.7M16.2 66.8h0.7M17.0 66.7h0.7M18.2 66.7h0.7M21.3 66.6h0.7M23.1 66.7h0.7M25.9 66.5h0.7M27.2 66.8h0.7M0.6 67.6h0.7M2.0 67.7h0.7M4.5 67.4h0.7M6.0 67.8h0.7M6.6 67.8h0.7M7.0 67.3h0.7M9.9 67.8h0.7M12.2 67.2h0.7M13.3 67.8h0.7M14.5 67.8h0.7M15.3 67.4h0.7M15.4 67.8h0.7M17.5 67.6h0.7M23.4 67.3h0.7M32.3 67.7h0.7M3.3 68.5h0.7M4.0 68.0h0.7M4.8 68.4h0.7M5.5 68.1h0.7M8.3 68.3h0.7M9.7 67.9h0.7M11.6 68.1h0.7M12.2 68.3h0.7M15.7 68.1h0.7M16.8 68.5h0.7M18.2 68.4h0.7M19.8 68.3h0.7M20.6 68.2h0.7M25.7 68.6h0.7M27.3 68.0h0.7M28.1 68.3h0.7M30.8 67.9h0.7M32.7 68.5h0.7M33.5 68.0h0.7M0.5 69.1h0.7M1.6 68.6h0.7M2.4 68.8h0.7M4.0 69.0h0.7M4.5 68.6h0.7M7.4 69.1h0.7M8.3 68.8h0.7M10.0 69.3h0.7M12.3 68.7h0.7M13.0 68.7h0.7M14.0 69.1h0.7M16.4 69.2h0.7M17.3 68.8h0.7M23.2 69.0h0.7M28.7 69.0h0.7M29.3 68.7h0.7M31.5 69.2h0.7M31.9 68.9h0.7M32.5 69.1h0.7M1.6 69.3h0.7M3.4 69.7h0.7M4.2 70.0h0.7M6.7 69.9h0.7M7.4 69.5h0.7M9.2 69.9h0.7M13.6 69.5h0.7M14.5 69.4h0.7M14.7 69.6h0.7M17.3 69.5h0.7M22.4 69.9h0.7M23.4 69.9h0.7M24.7 69.8h0.7M26.2 69.5h0.7M26.9 69.8h0.7M27.8 69.7h0.7M29.0 69.4h0.7M30.4 69.9h0.7M32.1 69.9h0.7M32.7 69.4h0.7M0.3 70.4h0.7M0.9 70.6h0.7M4.2 70.4h0.7M4.3 70.0h0.7M5.1 70.6h0.7M5.9 70.5h0.7M7.5 70.6h0.7M8.7 70.1h0.7M11.0 70.6h0.7M15.9 70.6h0.7M18.7 70.3h0.7M19.5 70.2h0.7M21.0 70.6h0.7M22.6 70.0h0.7M23.6 70.4h0.7M26.0 70.2h0.7M30.0 70.2h0.7M32.2 70.4h0.7M33.5 70.5h0.7M0.7 71.2h0.7M2.7 71.1h0.7M4.9 71.2h0.7M6.8 71.2h0.7M9.1 71.1h0.7M11.8 71.2h0.7M16.5 71.3h0.7M17.3 71.1h0.7M18.9 71.1h0.7M23.2 71.2h0.7M24.0 70.9h0.7M26.7 71.0h0.7M29.0 70.7h0.7M0.7 71.4h0.7M1.4 72.0h0.7M6.4 72.1h0.7M13.3 72.0h0.7M14.7 71.5h0.7M16.4 71.4h0.7M17.8 72.1h0.7M18.4 72.1h0.7M24.9 71.5h0.7M26.1 71.4h0.7M27.4 72.0h0.7M28.1 71.9h0.7M29.0 71.7h0.7M30.1 71.8h0.7M33.1 71.5h0.7M34.4 71.6h0.7M5.8 72.4h0.7M7.1 72.4h0.7M11.3 72.2h0.7M12.6 72.2h0.7M14.4 72.4h0.7M14.8 72.2h0.7M16.5 72.2h0.7M22.0 72.4h0.7M26.4 72.8h0.7M27.3 72.2h0.7M27.4 72.2h0.7M30.7 72.4h0.7M30.8 72.7h0.7M34.1 72.3h0.7M0.9 73.1h0.7M2.0 73.3h0.7M2.4 72.9h0.7M3.5 73.0h0.7M3.6 73.4h0.7M5.9 73.1h0.7M11.0 72.9h0.7M11.5 73.2h0.7M13.6 73.2h0.7M14.8 73.3h0.7M17.1 73.0h0.7M25.1 73.0h0.7M25.2 72.9h0.7M27.7 73.4h0.7M29.6 73.3h0.7M33.6 73.3h0.7M33.7 72.9h0.7M0.5 73.5h0.7M1.0 73.8h0.7M3.6 73.9h0.7M5.8 73.9h0.7M6.4 73.7h0.7M9.2 74.1h0.7M11.9 73.6h0.7M12.5 73.6h0.7M15.5 73.9h0.7M18.1 73.9h0.7M18.9 73.6h0.7M21.0 73.7h0.7M21.7 73.8h0.7M21.9 73.5h0.7M23.7 73.7h0.7M23.8 73.8h0.7M26.4 74.2h0.7M27.1 73.8h0.7M28.6 74.2h0.7M29.5 73.6h0.7M30.3 73.5h0.7M32.9 74.1h0.7M33.0 74.0h0.7M1.3 74.5h0.7M1.6 74.6h0.7M4.9 74.7h0.7M6.9 74.4h0.7M7.7 74.5h0.7M7.9 74.8h0.7M9.8 74.4h0.7M10.7 74.3h0.7M11.4 74.3h0.7M12.9 74.5h0.7M16.8 74.4h0.7M18.1 74.4h0.7M21.5 74.5h0.7M22.8 74.2h0.7M24.6 74.4h0.7M26.2 74.7h0.7M26.6 74.3h0.7M28.5 74.7h0.7M30.0 74.8h0.7M31.4 74.7h0.7M31.7 74.6h0.7M33.6 74.3h0.7M1.6 75.5h0.7M2.6 75.0h0.7M4.1 75.1h0.7M4.9 75.6h0.7M7.8 75.3h0.7M8.7 75.4h0.7M9.3 75.6h0.7M10.4 74.9h0.7M11.7 75.2h0.7M12.4 75.5h0.7M14.0 75.0h0.7M15.9 75.0h0.7M19.6 75.5h0.7M27.0 74.9h0.7M28.6 75.5h0.7M33.6 74.9h0.7M34.9 75.0h0.7M3.5 75.6h0.7M10.8 76.2h0.7M11.7 76.0h0.7M15.4 76.2h0.7M17.6 76.2h0.7M24.0 76.2h0.7M24.7 76.3h0.7M27.4 75.8h0.7M28.6 76.1h0.7M29.9 75.9h0.7M31.9 75.7h0.7M34.9 75.9h0.7M0.7 76.4h0.7M3.3 76.3h0.7M5.3 76.3h0.7M5.7 76.7h0.7M7.5 76.6h0.7M9.4 76.5h0.7M11.3 76.8h0.7M13.8 76.5h0.7M17.0 76.4h0.7M17.8 76.9h0.7M20.3 76.5h0.7M21.2 76.4h0.7M22.3 76.4h0.7M24.4 77.0h0.7M27.1 76.4h0.7M28.3 76.6h0.7M29.3 76.7h0.7M30.2 76.4h0.7M31.0 76.9h0.7M32.6 76.5h0.7M3.7 77.6h0.7M5.6 77.4h0.7M6.5 77.6h0.7M7.8 77.2h0.7M8.8 77.3h0.7M10.3 77.3h0.7M12.0 77.4h0.7M15.2 77.7h0.7M16.7 77.2h0.7M22.4 77.4h0.7M24.6 77.1h0.7M28.2 77.6h0.7M29.7 77.5h0.7M31.8 77.5h0.7M34.0 77.0h0.7M34.6 77.5h0.7M0.4 77.9h0.7M1.6 78.2h0.7M6.0 77.8h0.7M7.7 77.9h0.7M9.4 78.3h0.7M10.1 77.8h0.7M11.6 78.3h0.7M14.0 78.0h0.7M18.1 77.7h0.7M18.2 77.7h0.7M21.8 77.7h0.7M22.4 78.4h0.7M24.4 77.9h0.7M25.9 77.8h0.7M27.5 78.0h0.7M28.6 77.7h0.7M28.9 78.2h0.7M30.4 78.1h0.7M32.3 78.2h0.7M33.0 77.7h0.7M33.8 78.3h0.7M7.5 78.9h0.7M9.7 78.7h0.7M11.1 78.8h0.7M12.9 78.8h0.7M14.3 79.1h0.7M15.3 78.8h0.7M16.2 79.1h0.7M20.2 78.6h0.7M21.0 78.4h0.7M22.3 78.7h0.7M23.8 78.5h0.7M25.0 78.9h0.7M25.6 79.0h0.7M26.9 78.6h0.7M27.8 78.5h0.7M28.9 79.1h0.7M32.1 78.4h0.7M33.9 78.9h0.7M34.3 78.7h0.7M4.5 79.2h0.7M5.5 79.8h0.7M6.2 79.7h0.7M11.8 79.7h0.7M14.9 79.8h0.7M17.4 79.4h0.7M18.0 79.7h0.7M18.6 79.3h0.7M21.8 79.2h0.7M22.8 79.3h0.7M23.2 79.6h0.7M25.5 79.4h0.7M28.8 79.5h0.7M31.1 79.2h0.7M32.6 79.7h0.7M2.7 79.8h0.7M4.6 80.1h0.7M8.0 79.9h0.7M9.2 80.0h0.7M11.0 80.0h0.7M11.7 80.2h0.7M13.3 80.1h0.7M14.1 80.4h0.7M16.0 80.2h0.7M17.4 80.3h0.7M21.6 79.9h0.7M22.1 80.3h0.7M25.9 80.1h0.7M27.0 80.1h0.7M29.6 79.9h0.7M30.5 79.8h0.7M31.9 79.9h0.7M33.7 80.1h0.7M34.4 79.8h0.7M0.6 81.0h0.7M1.5 80.8h0.7M2.5 80.5h0.7M5.0 80.6h0.7M6.1 81.0h0.7M9.4 80.8h0.7M11.1 81.0h0.7M11.4 81.0h0.7M14.2 80.8h0.7M15.3 80.6h0.7M16.7 81.2h0.7M20.0 81.1h0.7M20.4 80.6h0.7M22.4 81.0h0.7M23.6 80.6h0.7M26.1 80.8h0.7M27.7 80.7h0.7M28.3 80.7h0.7M34.6 80.8h0.7" stroke="#000" stroke-width="0.7" fill="none"/>
<path d="M6.1 41.7h0.6M7.6 41.7h0.6M11.4 44.1h0.6M10.1 44.2h0.6M3.7 45.0h0.6M8.6 45.3h0.6M3.4 45.9h0.6M11.7 46.0h0.6M14.3 46.1h0.6M0.3 47.4h0.6M2.1 47.6h0.6M3.9 47.4h0.6M4.4 47.6h0.6M13.4 47.7h0.6M5.7 48.8h0.6M6.4 48.7h0.6M7.8 48.8h0.6M13.5 48.8h0.6M8.1 49.6h0.6M2.1 49.8h0.6M6.5 50.1h0.6M7.6 50.3h0.6M12.1 50.0h0.6M0.4 51.7h0.6M2.3 51.3h0.6M8.2 51.2h0.6M4.9 51.8h0.6M0.4 53.1h0.6M1.8 53.1h0.6M6.9 52.6h0.6M7.4 53.1h0.6M1.6 53.4h0.6M8.2 53.7h0.6M34.9 53.5h0.6M2.8 54.6h0.6M6.1 54.1h0.6M13.0 54.3h0.6M4.0 55.1h0.6M10.1 54.8h0.6M11.2 54.8h0.6M13.2 55.2h0.6M1.2 55.5h0.6M8.9 55.8h0.6M10.0 55.8h0.6M12.2 55.7h0.6M34.7 55.4h0.6M1.7 56.1h0.6M3.4 56.4h0.6M6.4 56.6h0.6M7.6 56.4h0.6M14.4 56.3h0.6M34.5 56.3h0.6M2.5 57.0h0.6M6.6 57.2h0.6M34.5 57.0h0.6M0.8 57.4h0.6M2.1 57.9h0.6M8.7 57.7h0.6M1.1 58.5h0.6M5.7 58.3h0.6M7.2 58.3h0.6M7.9 58.7h0.6M8.6 58.4h0.6M10.4 58.2h0.6M13.5 58.5h0.6M17.2 58.5h0.6M34.2 58.8h0.6M2.6 59.3h0.6M3.7 58.9h0.6M11.7 59.1h0.6M12.3 59.2h0.6M14.7 59.2h0.6M2.2 59.8h0.6M9.1 60.1h0.6M11.1 60.0h0.6M33.6 59.9h0.6M2.5 60.5h0.6M3.4 60.8h0.6M7.4 60.2h0.6M10.3 60.7h0.6M10.7 60.3h0.6M13.0 60.6h0.6M1.3 61.1h0.6M2.4 60.9h0.6M5.9 61.4h0.6M11.6 61.4h0.6M15.8 61.6h0.6M19.2 61.5h0.6M4.0 61.7h0.6M8.9 62.0h0.6M9.5 62.0h0.6M14.0 61.9h0.6M34.0 61.9h0.6M1.3 62.3h0.6M4.7 62.9h0.6M5.3 62.5h0.6M9.2 62.8h0.6M11.9 62.9h0.6M12.5 62.8h0.6M14.4 62.8h0.6M19.2 62.3h0.6M33.6 62.9h0.6M0.9 63.6h0.6M4.1 63.2h0.6M8.4 63.4h0.6M8.7 63.1h0.6M9.9 63.0h0.6M19.3 63.4h0.6M23.0 63.6h0.6M23.3 63.1h0.6M32.8 63.1h0.6M2.1 64.3h0.6M5.3 64.2h0.6M12.8 63.8h0.6M14.3 64.3h0.6M1.0 64.7h0.6M1.7 64.8h0.6M3.0 64.5h0.6M10.7 64.5h0.6M12.5 64.5h0.6M13.2 64.4h0.6M14.7 64.9h0.6M18.1 64.7h0.6M18.5 64.6h0.6M24.9 64.5h0.6M11.2 65.4h0.6M12.6 65.6h0.6M33.1 65.5h0.6M1.2 65.8h0.6M3.1 66.2h0.6M32.4 65.9h0.6M33.4 66.5h0.6M10.3 66.9h0.6M12.9 66.6h0.6M16.5 66.7h0.6M23.3 66.9h0.6M26.7 66.9h0.6M0.4 67.4h0.6M4.2 67.4h0.6M6.1 67.5h0.6M15.2 67.4h0.6M15.9 67.6h0.6M17.7 67.3h0.6M20.5 67.8h0.6M23.0 67.3h0.6M23.5 67.7h0.6M24.1 67.6h0.6M32.0 67.8h0.6M33.8 67.2h0.6M8.5 68.2h0.6M18.8 68.0h0.6M21.6 68.5h0.6M23.5 68.0h0.6M33.1 68.5h0.6M33.8 68.3h0.6M34.4 68.1h0.6M7.1 69.1h0.6M11.8 68.9h0.6M15.7 69.0h0.6M19.0 68.7h0.6M23.3 68.8h0.6M24.0 69.2h0.6M32.8 69.2h0.6M33.3 68.7h0.6M34.0 68.9h0.6M2.0 70.0h0.6M8.8 69.8h0.6M11.2 69.6h0.6M13.9 69.6h0.6M16.0 69.4h0.6M20.7 69.8h0.6M21.6 69.6h0.6M24.1 69.4h0.6M24.9 69.5h0.6M33.4 69.9h0.6M34.2 69.4h0.6M1.4 70.6h0.6M7.9 70.4h0.6M15.5 70.1h0.6M17.5 70.7h0.6M18.8 70.4h0.6M21.1 70.6h0.6M24.1 70.6h0.6M30.2 70.4h0.6M32.3 70.2h0.6M33.0 70.2h0.6M34.6 70.6h0.6M1.4 70.8h0.6M3.4 70.9h0.6M4.8 70.9h0.6M5.9 71.4h0.6M7.2 71.4h0.6M10.2 70.9h0.6M16.7 70.9h0.6M22.8 70.9h0.6M28.1 71.2h0.6M34.0 71.1h0.6M0.8 72.0h0.6M6.7 72.1h0.6M7.8 71.7h0.6M10.0 71.7h0.6M14.5 72.0h0.6M16.1 72.1h0.6M19.0 71.7h0.6M23.3 72.0h0.6M27.5 71.6h0.6M31.7 71.7h0.6M33.9 71.8h0.6M9.7 72.6h0.6M13.6 72.7h0.6M14.1 72.1h0.6M16.1 72.7h0.6M18.6 72.5h0.6M24.6 72.4h0.6M28.7 72.2h0.6M28.8 72.7h0.6M31.3 72.3h0.6M33.8 72.5h0.6M3.8 73.4h0.6M5.1 72.8h0.6M8.8 73.1h0.6M9.2 73.0h0.6M10.0 73.2h0.6M14.7 73.3h0.6M18.8 73.0h0.6M24.7 72.9h0.6M32.0 73.2h0.6M33.3 73.1h0.6M1.2 73.6h0.6M1.4 73.9h0.6M4.1 74.1h0.6M4.7 73.6h0.6M6.1 74.1h0.6M10.7 73.9h0.6M12.0 74.1h0.6M15.4 74.0h0.6M18.3 73.9h0.6M20.5 73.7h0.6M24.3 74.0h0.6M25.7 73.6h0.6M26.9 74.1h0.6M33.4 73.6h0.6M34.5 73.9h0.6M0.7 74.4h0.6M1.6 74.9h0.6M5.4 74.4h0.6M6.5 74.6h0.6M10.5 74.7h0.6M13.0 74.4h0.6M19.5 74.6h0.6M20.8 74.3h0.6M21.3 74.4h0.6M26.2 74.2h0.6M27.6 74.2h0.6M30.3 74.5h0.6M3.2 75.1h0.6M5.6 75.4h0.6M6.3 75.4h0.6M8.6 75.0h0.6M9.3 75.1h0.6M11.4 75.6h0.6M12.5 75.2h0.6M12.9 75.4h0.6M13.4 75.2h0.6M18.4 75.4h0.6M19.9 75.0h0.6M21.0 75.0h0.6M23.4 75.2h0.6M25.2 75.1h0.6M27.7 74.9h0.6M34.0 75.5h0.6M2.2 76.0h0.6M4.8 75.7h0.6M12.6 75.9h0.6M13.4 75.9h0.6M18.0 76.1h0.6M20.7 75.7h0.6M21.1 75.9h0.6M29.5 76.2h0.6M32.9 75.7h0.6M0.4 76.9h0.6M1.1 76.8h0.6M5.4 76.7h0.6M6.1 76.6h0.6M12.8 76.3h0.6M14.5 76.9h0.6M24.8 76.7h0.6M27.5 76.6h0.6M31.9 76.3h0.6M34.5 76.7h0.6M35.2 76.7h0.6M5.2 77.0h0.6M8.7 77.1h0.6M12.0 77.5h0.6M16.4 77.1h0.6M19.2 77.4h0.6M22.4 77.6h0.6M22.9 77.1h0.6M27.4 77.0h0.6M30.2 77.4h0.6M31.9 77.3h0.6M33.1 77.3h0.6M34.3 77.1h0.6M0.8 77.9h0.6M4.2 77.7h0.6M5.0 78.4h0.6M6.3 78.0h0.6M10.9 77.8h0.6M15.0 78.2h0.6M16.6 78.3h0.6M18.2 78.1h0.6M24.1 77.9h0.6M25.8 78.2h0.6M26.6 78.3h0.6M29.4 78.2h0.6M31.0 78.1h0.6M33.4 77.9h0.6M2.9 79.0h0.6M6.3 78.7h0.6M6.9 79.0h0.6M14.1 79.1h0.6M16.3 78.8h0.6M23.4 78.7h0.6M24.3 78.5h0.6M24.6 78.5h0.6M26.8 78.7h0.6M29.5 78.6h0.6M33.5 78.5h0.6M33.7 78.4h0.6M34.5 78.9h0.6M2.9 79.4h0.6M9.5 79.1h0.6M12.8 79.2h0.6M13.7 79.6h0.6M19.4 79.2h0.6M20.1 79.5h0.6M20.4 79.2h0.6M21.1 79.7h0.6M24.3 79.8h0.6M25.0 79.8h0.6M26.7 79.3h0.6M30.7 79.3h0.6M34.6 79.8h0.6M1.8 80.1h0.6M2.3 79.9h0.6M7.2 80.3h0.6M9.6 80.0h0.6M10.3 80.0h0.6M11.1 80.0h0.6M12.6 80.3h0.6M16.8 80.0h0.6M22.7 79.9h0.6M27.3 80.0h0.6M28.0 80.2h0.6M30.5 80.2h0.6M34.3 80.2h0.6M4.7 80.9h0.6M7.5 80.7h0.6M8.0 81.0h0.6M8.5 80.8h0.6M10.2 81.2h0.6M10.8 81.0h0.6M11.8 81.0h0.6M13.4 81.1h0.6M18.8 81.2h0.6M23.0 80.7h0.6M26.7 80.6h0.6" stroke="#fff" stroke-width="0.6" fill="none"/>
</g>
<g filter="url(#blur06)">
<path d="M0.3 23.4 C9 22.6 18 22.2 26 22.0 C30 22 33.6 22.4 35.2 23.8 L45.6 31.9 L36.8 41.2 C34 42 30 42.4 26 42.4 C18 42.4 8 41.6 0.3 40.8 Z" fill="#cfcfcf" stroke="#3a3a3a" stroke-width="0.6"/>
<path d="M0.3 24.8 C9 24.2 18 23.8 26 23.6 C29.6 23.6 32.4 24.2 33.6 26 C35.6 29.4 35.6 34 33.6 37.4 C31.6 38.6 29 39 26 39 C18 39 8 38.4 0.3 37.8 Z" fill="url(#gOuter2)"/>
<ellipse cx="24.4" cy="27.9" rx="10.5" ry="3.1" fill="url(#gLobe)" opacity="0.95"/>
<ellipse cx="24.4" cy="34.8" rx="9.5" ry="2.9" fill="url(#gLobe)" opacity="0.5"/>
<ellipse cx="30.6" cy="31.1" rx="3.4" ry="5.4" fill="url(#gLobe)" opacity="0.7"/>
</g>
<path d="M36.2 25.4 L45.1 31.9 L37.6 40 C38.6 35 38.4 30 36.2 25.4 Z" fill="#fff" stroke="#777" stroke-width="0.3"/>
<path d="M4.6 31.3 H28" stroke="#fff" stroke-width="0.9" stroke-dasharray="1.1 0.55" opacity="0.9"/>
<rect x="0.3" y="26" width="1.5" height="14" fill="#000"/>
<path d="M2.4 39.9 C12 40.9 22 41.4 34 40.9" stroke="#e8e8e8" stroke-width="0.5" fill="none"/>
<polygon points="11.2,52.6 16.8,44.4 2.6,42.9 2.6,41.6 17.6,42.7 33.0,42.8 35.8,49.4 33.2,60.0 30.0,68.4 24.0,63.6 19.2,60.0" fill="#fff" stroke="#999" stroke-width="0.3"/>
<path d="M26.6 46.3 C30.2 46.3 32.6 49 32.6 52.4 C32.6 55.8 30.2 58.6 26.6 58.6 C23 58.6 20.5 55.8 20.5 52.4 C20.5 49 23 46.3 26.6 46.3 Z" fill="none" stroke="#6a6a6a" stroke-width="0.45"/>
<path d="M0.9 3 V80.7" stroke="#555" stroke-width="0.6" stroke-dasharray="0.6 1.9" opacity="0.6"/>
</g>
<rect x="0" y="0" width="84.3" height="81.7" fill="none" stroke="#7a7a7a" stroke-width="0.7"/>
<path d="M38.5 18.9 H84.3 M38.5 18.9 V42.6 M38.5 42.6 H84.3" fill="none" stroke="#858585" stroke-width="0.6"/>
<text x="61.3" y="16.9" font-size="8.3" text-anchor="middle" fill="#1a1a1a" stroke="#1a1a1a" stroke-width="0.15">1</text>
</g>
<g transform="translate(188.3 183.6)">
<clipPath id="cp3"><rect x="0.3" y="0.3" width="83.7" height="81.10000000000001"/></clipPath>
<g clip-path="url(#cp3)">
<path d="M79.9 4.4h0.55M59.7 5.3h0.55M83.0 6.1h0.55M58.5 7.9h0.55M71.6 14.5h0.55M22.0 15.8h0.55M35.3 15.9h0.55M18.1 17.2h0.55M21.6 17.2h0.55M24.6 17.0h0.55M29.9 17.5h0.55M30.3 17.4h0.55M31.2 17.3h0.55M31.9 17.1h0.55M32.2 17.3h0.55M55.2 17.2h0.55M4.3 18.1h0.55M8.4 17.6h0.55M14.9 18.1h0.55M26.8 18.1h0.55M28.3 17.8h0.55M30.7 17.5h0.55M31.1 17.9h0.55M33.6 17.8h0.55M37.4 17.7h0.55M38.2 18.0h0.55M41.0 17.6h0.55M49.2 17.8h0.55M69.6 17.9h0.55M6.0 18.5h0.55M9.7 18.9h0.55M11.7 18.9h0.55M17.9 18.5h0.55M20.5 18.4h0.55M21.8 18.5h0.55M22.6 18.5h0.55M23.8 18.4h0.55M24.8 18.4h0.55M25.8 18.7h0.55M26.2 18.9h0.55M27.8 18.5h0.55M29.4 18.5h0.55M29.7 18.6h0.55M30.3 18.7h0.55M31.4 18.5h0.55M32.9 18.2h0.55M34.5 18.3h0.55M35.1 18.5h0.55M36.2 18.3h0.55M36.6 18.9h0.55M37.1 18.4h0.55M42.7 18.7h0.55M69.2 18.8h0.55M7.7 18.9h0.55M12.5 18.9h0.55M12.7 19.1h0.55M13.8 19.4h0.55M14.2 19.1h0.55M16.1 19.3h0.55M18.2 19.2h0.55M18.3 19.5h0.55M19.6 19.2h0.55M19.7 19.5h0.55M20.9 19.4h0.55M21.6 19.0h0.55M21.8 19.2h0.55M22.9 19.5h0.55M23.2 19.3h0.55M24.2 19.0h0.55M25.7 19.4h0.55M26.5 18.9h0.55M28.7 19.3h0.55M29.8 19.2h0.55M30.5 19.0h0.55M31.0 19.5h0.55M32.9 19.1h0.55M33.6 19.2h0.55M47.2 19.5h0.55M77.1 19.5h0.55M1.3 20.0h0.55M3.3 20.0h0.55M7.9 20.1h0.55M8.7 20.1h0.55M11.3 19.8h0.55M12.1 19.7h0.55M13.0 19.8h0.55M13.8 20.0h0.55M18.0 20.2h0.55M18.2 20.1h0.55M19.4 19.8h0.55M19.9 20.2h0.55M20.5 19.8h0.55M21.4 19.8h0.55M21.8 19.9h0.55M23.6 20.1h0.55M24.1 19.6h0.55M29.4 19.7h0.55M30.3 19.7h0.55M34.5 19.7h0.55M37.4 19.8h0.55M41.4 20.2h0.55M2.0 20.7h0.55M4.7 21.0h0.55M5.4 20.6h0.55M6.7 20.8h0.55M9.7 21.0h0.55M9.9 20.4h0.55M10.6 20.7h0.55M11.4 20.9h0.55M13.3 20.6h0.55M14.8 20.9h0.55M15.9 20.4h0.55M17.5 20.9h0.55M18.0 20.7h0.55M18.5 20.4h0.55M21.3 20.5h0.55M36.5 20.5h0.55M37.3 20.9h0.55M39.4 20.6h0.55M42.3 20.9h0.55M45.6 20.3h0.55M47.8 20.8h0.55M54.4 20.9h0.55M58.0 20.4h0.55M0.8 21.4h0.55M3.2 21.6h0.55M4.5 21.4h0.55M6.1 21.7h0.55M7.0 21.4h0.55M7.7 21.1h0.55M8.5 21.0h0.55M10.9 21.0h0.55M11.5 21.4h0.55M12.3 21.1h0.55M12.7 21.1h0.55M36.1 21.6h0.55M36.8 21.5h0.55M39.2 21.1h0.55M40.6 21.6h0.55M42.7 21.4h0.55M0.6 21.8h0.55M1.1 21.8h0.55M1.8 22.0h0.55M4.0 21.9h0.55M6.0 22.4h0.55M6.7 21.9h0.55M11.4 21.7h0.55M47.3 21.9h0.55M48.6 22.0h0.55M0.2 22.5h0.55M0.8 22.6h0.55M36.2 23.0h0.55M37.7 23.0h0.55M42.8 22.7h0.55M53.5 23.1h0.55M55.7 22.7h0.55M72.3 22.5h0.55M36.4 23.3h0.55M64.3 23.7h0.55M37.0 24.1h0.55M57.4 24.4h0.55M64.4 23.9h0.55M39.8 24.9h0.55M41.2 24.7h0.55M61.3 24.6h0.55M61.8 24.7h0.55M64.8 25.0h0.55M68.5 24.9h0.55M36.4 25.6h0.55M41.5 25.8h0.55M44.2 25.6h0.55M46.0 25.7h0.55M72.2 25.4h0.55M40.6 26.3h0.55M46.5 26.1h0.55M52.0 26.4h0.55M54.3 26.2h0.55M83.9 26.2h0.55M36.1 27.0h0.55M39.1 27.3h0.55M39.2 26.8h0.55M40.3 27.0h0.55M58.1 26.8h0.55M61.3 26.9h0.55M78.4 27.0h0.55M81.4 27.0h0.55M38.6 27.8h0.55M44.4 27.9h0.55M46.6 27.6h0.55M70.4 27.4h0.55M36.5 28.1h0.55M39.8 28.6h0.55M46.8 28.7h0.55M54.7 28.1h0.55M75.0 28.0h0.55M79.8 28.5h0.55M83.6 28.1h0.55M39.2 29.0h0.55M40.0 29.4h0.55M49.1 29.2h0.55M50.5 29.4h0.55M73.2 29.3h0.55M37.4 29.5h0.55M40.6 30.0h0.55M41.6 29.6h0.55M43.5 29.8h0.55M45.5 29.7h0.55M48.6 29.6h0.55M52.2 29.8h0.55M65.9 29.5h0.55M72.1 29.9h0.55M78.2 30.1h0.55M38.8 30.2h0.55M40.5 30.2h0.55M46.1 30.5h0.55M51.5 30.2h0.55M60.4 30.7h0.55M72.3 30.3h0.55M36.0 31.5h0.55M37.0 31.4h0.55M38.7 31.1h0.55M39.7 31.1h0.55M44.0 31.1h0.55M54.4 31.1h0.55M56.6 31.1h0.55M78.3 31.0h0.55M40.6 31.5h0.55M41.6 31.7h0.55M42.9 31.7h0.55M48.3 31.9h0.55M53.0 31.6h0.55M61.8 31.7h0.55M69.3 32.0h0.55M71.9 31.9h0.55M79.2 31.9h0.55M36.0 32.7h0.55M36.8 32.3h0.55M42.0 32.3h0.55M56.0 32.6h0.55M72.7 32.8h0.55M79.3 32.5h0.55M83.4 32.7h0.55M40.8 32.9h0.55M42.2 33.5h0.55M43.3 33.5h0.55M44.0 33.1h0.55M46.1 33.2h0.55M54.7 33.6h0.55M57.9 33.1h0.55M81.5 33.3h0.55M37.9 34.0h0.55M40.2 33.9h0.55M41.9 34.0h0.55M61.0 33.7h0.55M66.0 34.0h0.55M49.7 34.4h0.55M57.4 34.7h0.55M61.5 34.7h0.55M82.8 34.9h0.55M36.0 35.0h0.55M40.9 35.5h0.55M43.8 35.7h0.55M45.8 35.1h0.55M47.2 35.4h0.55M55.6 35.3h0.55M36.4 35.8h0.55M36.7 36.3h0.55M37.5 36.1h0.55M39.3 36.1h0.55M54.0 36.1h0.55M60.6 36.2h0.55M63.6 35.7h0.55M79.9 36.2h0.55M37.1 36.6h0.55M39.1 36.4h0.55M42.0 36.6h0.55M59.9 36.9h0.55M81.0 36.9h0.55M36.4 37.2h0.55M64.7 37.8h0.55M70.4 37.3h0.55M81.5 37.5h0.55M36.1 38.1h0.55M40.7 38.3h0.55M45.3 38.2h0.55M50.0 38.1h0.55M51.8 38.0h0.55M72.7 38.5h0.55M73.3 38.1h0.55M36.8 39.0h0.55M39.6 39.1h0.55M42.6 38.8h0.55M77.2 38.8h0.55M36.9 39.2h0.55M37.7 39.8h0.55M67.4 39.5h0.55M39.3 40.3h0.55M40.4 40.0h0.55M56.8 40.2h0.55M68.5 40.4h0.55M37.0 40.8h0.55M35.3 41.9h0.55M39.2 41.4h0.55M63.4 41.9h0.55M72.6 41.8h0.55M39.2 42.6h0.55M49.3 42.3h0.55M76.0 42.1h0.55M36.3 44.0h0.55M36.7 44.0h0.55M42.8 43.5h0.55M42.4 44.4h0.55M54.1 44.1h0.55M57.6 44.1h0.55M35.9 45.0h0.55M36.6 45.0h0.55M35.9 47.5h0.55M37.6 47.0h0.55M39.2 48.3h0.55M37.1 49.5h0.55M40.5 49.3h0.55M44.4 49.5h0.55M36.1 49.9h0.55M38.8 49.8h0.55M39.8 49.9h0.55M35.6 50.6h0.55M36.9 51.0h0.55M37.5 50.7h0.55M59.6 50.6h0.55M66.8 50.8h0.55M35.8 51.4h0.55M78.0 51.7h0.55M36.6 52.2h0.55M52.7 52.1h0.55M36.3 52.9h0.55M36.6 52.7h0.55M38.9 53.0h0.55M42.3 53.1h0.55M35.9 53.7h0.55M37.4 53.4h0.55M38.0 54.2h0.55M39.2 55.1h0.55M76.6 55.3h0.55M35.5 55.8h0.55M38.3 55.6h0.55M39.4 56.5h0.55M47.0 56.6h0.55M56.6 56.2h0.55M37.1 57.3h0.55M69.3 57.3h0.55M38.0 57.7h0.55M36.2 58.6h0.55M36.6 58.8h0.55M0.2 59.3h0.55M35.6 59.0h0.55M53.7 59.1h0.55M35.4 59.7h0.55M42.3 59.8h0.55M59.3 59.9h0.55M67.6 60.0h0.55M35.6 60.3h0.55M36.7 61.2h0.55M41.9 61.9h0.55M83.2 61.8h0.55M38.1 63.0h0.55M39.6 62.6h0.55M0.3 63.0h0.55M37.8 63.2h0.55M38.5 63.4h0.55M52.2 63.3h0.55M35.4 64.0h0.55M38.0 64.1h0.55M62.6 63.9h0.55M36.3 64.6h0.55M50.3 64.8h0.55M37.8 65.1h0.55M40.1 65.4h0.55M40.2 66.5h0.55M35.6 66.8h0.55M36.6 67.1h0.55M39.1 67.1h0.55M41.1 67.2h0.55M77.2 66.9h0.55M0.2 67.8h0.55M35.5 67.6h0.55M36.4 67.2h0.55M43.4 67.7h0.55M45.9 67.4h0.55M35.6 68.0h0.55M35.4 69.1h0.55M46.9 69.0h0.55M40.5 69.5h0.55M49.8 69.9h0.55M0.2 70.1h0.55M35.2 70.3h0.55M39.9 70.4h0.55M82.9 70.6h0.55M36.3 70.7h0.55M38.9 71.2h0.55M36.9 71.8h0.55M42.3 71.7h0.55M0.0 72.3h0.55M35.4 72.5h0.55M38.9 72.3h0.55M42.4 72.4h0.55M59.6 72.5h0.55M35.1 73.4h0.55M36.5 72.8h0.55M35.1 73.9h0.55M49.9 73.7h0.55M34.9 74.4h0.55M58.6 74.7h0.55M69.8 74.5h0.55M35.0 75.1h0.55M40.7 75.4h0.55M75.4 75.5h0.55M75.7 75.0h0.55M35.0 75.8h0.55M37.2 76.3h0.55M39.6 76.2h0.55M54.9 76.2h0.55M35.1 76.3h0.55M66.3 76.8h0.55M38.5 77.5h0.55M48.7 77.1h0.55M59.3 77.3h0.55M68.0 77.0h0.55M72.3 77.3h0.55M73.2 77.3h0.55M36.9 78.2h0.55M36.1 78.7h0.55M38.6 78.7h0.55M79.4 79.1h0.55M35.2 79.4h0.55M36.7 79.3h0.55M41.1 79.7h0.55M45.2 79.3h0.55M35.2 80.3h0.55M47.1 79.8h0.55M36.4 80.9h0.55M37.7 81.1h0.55M46.6 80.5h0.55" stroke="#6c6c6c" stroke-width="0.55" fill="none"/>
<polygon points="0.3,38.5 34.4,40.0 35.6,48.0 35.2,62.0 34.6,81.7 0.3,81.7" fill="#0c0c0c" filter="url(#blur05)"/>
<g filter="url(#blur03)">
<path d="M2.7 38.8h0.7M3.4 39.1h0.7M3.9 39.1h0.7M4.4 38.9h0.7M4.9 39.1h0.7M9.9 39.1h0.7M0.5 39.5h0.7M1.1 39.6h0.7M2.3 39.8h0.7M4.6 39.2h0.7M6.4 39.6h0.7M7.2 39.5h0.7M7.8 39.6h0.7M10.2 39.4h0.7M10.6 39.8h0.7M11.7 39.8h0.7M13.1 39.2h0.7M13.9 39.9h0.7M14.7 39.4h0.7M15.0 39.9h0.7M16.8 39.2h0.7M17.0 39.2h0.7M17.8 39.6h0.7M20.5 39.4h0.7M22.1 39.5h0.7M24.3 39.7h0.7M0.3 40.4h0.7M1.9 40.0h0.7M12.9 40.0h0.7M14.1 40.0h0.7M16.1 40.2h0.7M18.9 40.1h0.7M19.3 39.9h0.7M19.7 40.1h0.7M20.4 40.4h0.7M21.4 39.9h0.7M23.0 40.4h0.7M24.3 40.3h0.7M24.7 40.0h0.7M25.6 40.5h0.7M25.9 40.0h0.7M27.1 40.4h0.7M28.3 40.4h0.7M29.9 40.2h0.7M31.8 40.1h0.7M33.0 40.3h0.7M34.2 40.4h0.7M0.6 40.9h0.7M2.0 40.8h0.7M2.1 40.7h0.7M28.1 40.8h0.7M29.5 40.8h0.7M30.7 41.0h0.7M30.8 41.1h0.7M32.6 41.1h0.7M33.5 40.8h0.7M34.3 41.0h0.7M34.5 40.7h0.7M1.1 41.3h0.7M3.0 41.6h0.7M5.6 41.8h0.7M6.9 41.9h0.7M33.9 41.7h0.7M1.0 42.5h0.7M1.5 42.5h0.7M3.2 42.7h0.7M4.6 42.5h0.7M5.0 42.3h0.7M6.5 42.6h0.7M8.6 42.7h0.7M1.5 43.4h0.7M3.8 43.0h0.7M4.7 43.1h0.7M5.0 42.9h0.7M6.2 43.0h0.7M7.0 43.3h0.7M7.4 43.1h0.7M7.9 42.9h0.7M8.4 42.8h0.7M9.3 43.4h0.7M10.0 43.1h0.7M10.9 43.3h0.7M33.2 42.8h0.7M34.1 43.0h0.7M34.5 43.3h0.7M3.7 43.6h0.7M6.5 44.0h0.7M7.7 44.0h0.7M7.8 43.8h0.7M8.7 43.6h0.7M9.8 43.8h0.7M10.9 44.0h0.7M11.7 43.6h0.7M33.3 43.8h0.7M34.3 43.5h0.7M1.2 44.5h0.7M3.9 44.7h0.7M4.4 44.6h0.7M4.9 44.5h0.7M5.7 44.7h0.7M6.5 44.6h0.7M8.1 44.1h0.7M8.6 44.5h0.7M9.6 44.7h0.7M11.5 44.2h0.7M13.3 44.4h0.7M33.9 44.2h0.7M0.3 45.5h0.7M1.3 44.9h0.7M2.8 45.3h0.7M5.0 45.4h0.7M7.1 45.0h0.7M9.0 45.2h0.7M10.1 45.2h0.7M12.1 45.4h0.7M12.8 45.0h0.7M13.7 45.0h0.7M14.7 45.5h0.7M34.1 44.9h0.7M0.6 46.0h0.7M1.2 45.7h0.7M1.6 46.0h0.7M2.6 46.0h0.7M3.5 45.8h0.7M5.5 46.2h0.7M7.3 45.9h0.7M9.1 46.1h0.7M9.4 45.7h0.7M10.6 46.0h0.7M11.8 45.7h0.7M12.5 45.8h0.7M12.7 45.6h0.7M14.7 45.9h0.7M15.0 45.7h0.7M3.7 46.4h0.7M4.7 46.8h0.7M5.2 46.5h0.7M6.4 46.3h0.7M7.6 46.2h0.7M8.1 46.8h0.7M11.1 46.3h0.7M11.3 46.7h0.7M12.4 46.7h0.7M12.6 46.7h0.7M13.8 46.5h0.7M14.3 46.2h0.7M33.3 46.3h0.7M34.0 46.5h0.7M34.8 46.4h0.7M1.3 47.2h0.7M2.1 47.5h0.7M3.0 47.2h0.7M3.6 47.2h0.7M4.5 47.1h0.7M9.0 47.3h0.7M9.3 47.3h0.7M10.0 47.4h0.7M10.7 47.6h0.7M12.6 47.2h0.7M13.1 47.2h0.7M14.4 47.4h0.7M33.4 47.1h0.7M34.0 47.1h0.7M34.9 47.4h0.7M35.2 47.6h0.7M0.9 47.7h0.7M2.1 48.2h0.7M3.2 48.3h0.7M5.1 48.0h0.7M7.0 48.0h0.7M7.6 47.9h0.7M7.9 47.7h0.7M8.8 47.8h0.7M10.5 47.8h0.7M13.1 48.3h0.7M13.4 47.8h0.7M33.3 48.3h0.7M1.2 48.5h0.7M2.6 48.7h0.7M2.8 48.7h0.7M4.7 48.3h0.7M6.8 48.7h0.7M7.5 48.6h0.7M10.6 48.4h0.7M11.4 48.4h0.7M13.1 48.3h0.7M34.2 48.3h0.7M35.5 48.8h0.7M0.5 49.6h0.7M1.8 49.3h0.7M4.2 49.2h0.7M4.6 49.2h0.7M5.9 49.5h0.7M6.4 49.5h0.7M7.2 49.0h0.7M7.8 49.3h0.7M8.8 49.6h0.7M11.7 49.2h0.7M12.7 49.5h0.7M35.4 49.5h0.7M0.3 50.0h0.7M2.1 50.1h0.7M2.5 50.0h0.7M3.4 50.4h0.7M7.0 50.1h0.7M8.4 50.1h0.7M9.0 50.1h0.7M10.9 49.9h0.7M12.6 49.8h0.7M35.1 50.2h0.7M1.9 51.0h0.7M2.2 51.1h0.7M3.4 50.5h0.7M6.9 51.0h0.7M7.7 50.9h0.7M8.0 50.7h0.7M9.3 50.4h0.7M10.2 50.6h0.7M10.6 50.5h0.7M33.4 51.0h0.7M33.8 50.8h0.7M34.6 51.0h0.7M35.2 50.7h0.7M0.9 51.6h0.7M3.0 51.5h0.7M4.6 51.6h0.7M5.5 51.4h0.7M6.0 51.1h0.7M7.0 51.3h0.7M7.9 51.5h0.7M11.0 51.6h0.7M34.8 51.4h0.7M1.0 52.3h0.7M2.7 51.9h0.7M3.3 52.2h0.7M3.9 52.3h0.7M4.3 52.1h0.7M6.6 52.0h0.7M7.2 52.4h0.7M9.1 51.9h0.7M9.4 52.2h0.7M34.4 52.2h0.7M1.4 52.6h0.7M1.6 53.2h0.7M2.3 52.6h0.7M4.0 53.0h0.7M4.4 52.9h0.7M6.2 53.1h0.7M7.2 53.0h0.7M8.6 52.9h0.7M9.5 53.2h0.7M11.9 53.1h0.7M33.5 52.6h0.7M34.6 52.9h0.7M0.5 53.2h0.7M1.3 53.6h0.7M2.3 53.5h0.7M2.9 53.3h0.7M3.6 53.9h0.7M4.7 53.5h0.7M5.3 53.8h0.7M6.3 53.7h0.7M6.8 53.9h0.7M8.8 53.5h0.7M10.0 53.4h0.7M10.7 53.4h0.7M11.3 53.3h0.7M12.4 53.6h0.7M12.7 53.8h0.7M1.6 54.0h0.7M2.4 54.5h0.7M3.3 54.3h0.7M5.2 53.9h0.7M6.7 54.3h0.7M7.5 54.3h0.7M8.2 53.9h0.7M10.4 54.1h0.7M11.0 54.3h0.7M12.5 54.4h0.7M33.6 54.5h0.7M34.9 54.0h0.7M35.3 54.1h0.7M1.7 55.3h0.7M2.2 54.9h0.7M3.1 55.0h0.7M3.9 54.8h0.7M5.4 54.7h0.7M6.2 55.1h0.7M7.0 55.2h0.7M8.7 54.9h0.7M9.4 54.8h0.7M10.1 55.0h0.7M11.7 55.1h0.7M13.9 55.0h0.7M34.4 54.8h0.7M0.8 55.5h0.7M1.8 55.6h0.7M3.8 55.9h0.7M6.0 55.8h0.7M6.6 55.9h0.7M8.2 55.6h0.7M9.2 55.5h0.7M10.2 55.4h0.7M10.8 55.9h0.7M11.4 55.5h0.7M12.6 55.9h0.7M12.7 55.6h0.7M14.4 55.8h0.7M34.3 55.5h0.7M0.3 56.4h0.7M1.2 56.1h0.7M2.5 56.1h0.7M3.2 56.4h0.7M3.6 56.5h0.7M4.5 56.4h0.7M5.7 56.1h0.7M6.8 56.5h0.7M7.2 56.3h0.7M8.7 56.6h0.7M9.7 56.5h0.7M10.7 56.5h0.7M13.3 56.4h0.7M13.4 56.4h0.7M33.8 56.3h0.7M2.1 57.3h0.7M4.4 56.8h0.7M6.2 56.9h0.7M7.7 57.0h0.7M8.4 57.0h0.7M10.4 56.8h0.7M11.4 57.1h0.7M12.9 56.7h0.7M13.3 56.9h0.7M34.9 57.1h0.7M0.6 57.6h0.7M2.2 57.9h0.7M4.2 58.0h0.7M4.8 57.9h0.7M5.3 57.5h0.7M7.4 57.5h0.7M9.8 58.0h0.7M9.9 57.7h0.7M11.1 57.5h0.7M12.4 58.0h0.7M13.4 57.9h0.7M14.4 57.7h0.7M14.9 58.0h0.7M15.5 57.7h0.7M16.2 57.7h0.7M35.2 57.5h0.7M0.5 58.3h0.7M2.3 58.7h0.7M3.3 58.7h0.7M4.1 58.4h0.7M7.7 58.4h0.7M8.7 58.1h0.7M9.2 58.4h0.7M11.7 58.3h0.7M13.3 58.1h0.7M13.4 58.7h0.7M15.3 58.2h0.7M33.9 58.5h0.7M1.4 58.9h0.7M3.5 59.4h0.7M4.4 59.0h0.7M6.8 59.0h0.7M7.3 59.2h0.7M7.7 59.3h0.7M11.1 59.4h0.7M11.8 58.9h0.7M12.2 58.9h0.7M13.4 59.1h0.7M14.1 59.3h0.7M15.7 59.2h0.7M17.4 58.9h0.7M17.8 59.2h0.7M18.6 59.5h0.7M33.5 58.9h0.7M33.8 59.4h0.7M0.7 60.1h0.7M1.0 59.6h0.7M1.8 59.7h0.7M2.6 59.7h0.7M3.5 60.2h0.7M5.5 59.9h0.7M6.3 59.9h0.7M6.4 59.5h0.7M7.4 60.2h0.7M8.6 60.1h0.7M9.8 59.6h0.7M11.1 59.8h0.7M11.8 59.8h0.7M12.4 60.1h0.7M12.6 59.9h0.7M14.6 59.5h0.7M14.8 59.6h0.7M16.7 60.2h0.7M17.5 60.2h0.7M18.7 59.7h0.7M19.0 59.9h0.7M33.0 60.0h0.7M34.2 60.0h0.7M35.0 59.7h0.7M1.4 60.5h0.7M2.3 60.3h0.7M3.9 60.5h0.7M4.5 60.3h0.7M5.2 60.7h0.7M5.9 60.2h0.7M6.4 60.7h0.7M8.6 60.2h0.7M9.4 60.7h0.7M10.0 60.8h0.7M10.9 60.8h0.7M11.7 60.9h0.7M11.9 60.6h0.7M12.6 60.8h0.7M14.0 60.8h0.7M15.1 60.4h0.7M17.4 60.8h0.7M17.7 60.5h0.7M18.5 60.4h0.7M32.7 60.6h0.7M33.3 60.8h0.7M34.0 60.7h0.7M34.9 60.3h0.7M1.4 61.3h0.7M1.5 61.3h0.7M2.7 61.4h0.7M3.2 61.4h0.7M4.8 61.5h0.7M5.1 61.0h0.7M6.9 61.4h0.7M7.1 61.0h0.7M8.4 61.1h0.7M8.9 61.0h0.7M11.0 61.2h0.7M11.9 61.0h0.7M12.5 61.3h0.7M13.9 61.3h0.7M15.0 61.0h0.7M15.5 61.6h0.7M16.5 61.4h0.7M17.0 61.2h0.7M18.0 61.3h0.7M34.5 61.0h0.7M35.1 61.0h0.7M1.0 62.1h0.7M3.4 61.7h0.7M5.2 61.6h0.7M6.4 62.3h0.7M7.5 61.7h0.7M8.6 61.9h0.7M10.8 61.8h0.7M11.3 62.1h0.7M12.9 61.7h0.7M13.9 62.3h0.7M14.4 61.6h0.7M15.7 62.0h0.7M19.7 61.8h0.7M20.6 62.2h0.7M32.1 62.1h0.7M33.9 62.3h0.7M34.5 61.7h0.7M35.1 62.1h0.7M0.7 62.4h0.7M0.8 62.4h0.7M2.0 62.4h0.7M5.1 62.4h0.7M8.6 62.3h0.7M9.5 62.5h0.7M10.0 62.4h0.7M11.3 62.9h0.7M12.5 62.8h0.7M12.7 63.0h0.7M13.4 62.8h0.7M14.6 62.8h0.7M15.4 62.7h0.7M17.0 62.9h0.7M17.9 62.3h0.7M18.3 62.8h0.7M20.7 62.7h0.7M32.6 62.7h0.7M33.5 62.4h0.7M33.7 62.6h0.7M34.9 62.4h0.7M0.4 63.2h0.7M1.4 63.1h0.7M2.8 63.3h0.7M3.4 63.5h0.7M4.0 63.7h0.7M4.3 63.4h0.7M5.1 63.2h0.7M5.7 63.3h0.7M6.9 63.1h0.7M7.1 63.6h0.7M7.9 63.4h0.7M8.7 63.1h0.7M9.4 63.3h0.7M9.9 63.0h0.7M10.5 63.1h0.7M12.4 63.2h0.7M12.8 63.1h0.7M14.4 63.4h0.7M15.9 63.5h0.7M18.2 63.6h0.7M20.1 63.6h0.7M20.3 63.0h0.7M21.3 63.1h0.7M21.8 63.3h0.7M32.7 63.3h0.7M34.1 63.4h0.7M1.0 64.3h0.7M1.5 63.9h0.7M2.5 64.0h0.7M5.2 64.2h0.7M5.9 64.0h0.7M8.0 64.1h0.7M10.2 64.3h0.7M10.7 63.9h0.7M12.3 64.2h0.7M12.7 64.3h0.7M13.6 63.7h0.7M14.5 63.9h0.7M14.9 63.7h0.7M16.4 64.2h0.7M17.2 63.7h0.7M18.8 63.8h0.7M20.0 64.4h0.7M20.6 63.9h0.7M21.2 64.2h0.7M32.0 64.2h0.7M32.8 64.3h0.7M34.5 64.1h0.7M2.0 65.1h0.7M3.6 64.8h0.7M4.7 64.5h0.7M4.9 65.0h0.7M5.9 64.8h0.7M7.4 64.8h0.7M8.8 65.1h0.7M9.7 64.6h0.7M11.2 64.9h0.7M12.0 64.8h0.7M14.4 64.8h0.7M15.0 64.7h0.7M16.7 64.9h0.7M17.7 64.6h0.7M18.4 64.6h0.7M19.4 64.5h0.7M20.1 65.1h0.7M20.9 64.9h0.7M21.1 64.9h0.7M22.8 64.8h0.7M31.7 64.8h0.7M33.2 64.6h0.7M0.5 65.2h0.7M0.8 65.8h0.7M1.7 65.3h0.7M3.2 65.7h0.7M3.8 65.2h0.7M4.9 65.7h0.7M5.5 65.2h0.7M7.1 65.6h0.7M8.6 65.7h0.7M9.8 65.3h0.7M10.1 65.6h0.7M10.8 65.3h0.7M11.7 65.7h0.7M12.6 65.1h0.7M14.3 65.1h0.7M15.3 65.6h0.7M16.0 65.2h0.7M17.3 65.5h0.7M18.3 65.2h0.7M20.1 65.3h0.7M21.0 65.5h0.7M21.6 65.5h0.7M21.8 65.3h0.7M23.5 65.7h0.7M30.6 65.7h0.7M31.6 65.7h0.7M33.1 65.8h0.7M33.9 65.4h0.7M34.3 65.1h0.7M2.9 66.1h0.7M4.5 66.1h0.7M5.3 66.2h0.7M6.1 66.5h0.7M6.5 66.0h0.7M8.0 66.3h0.7M9.1 66.3h0.7M9.7 66.3h0.7M11.9 66.0h0.7M11.9 65.8h0.7M16.5 65.9h0.7M17.3 66.0h0.7M18.2 66.1h0.7M18.3 66.1h0.7M21.1 65.9h0.7M22.5 66.2h0.7M23.4 66.1h0.7M24.1 66.1h0.7M31.3 66.1h0.7M31.7 66.4h0.7M32.4 65.9h0.7M34.6 66.3h0.7M1.9 66.9h0.7M3.0 66.6h0.7M5.4 67.2h0.7M6.8 66.7h0.7M7.8 66.6h0.7M9.1 66.6h0.7M9.6 66.6h0.7M10.2 67.1h0.7M10.5 66.8h0.7M11.7 67.1h0.7M12.5 67.0h0.7M14.2 66.6h0.7M15.1 66.7h0.7M17.3 66.5h0.7M17.9 66.8h0.7M18.6 66.6h0.7M19.0 66.5h0.7M20.4 67.0h0.7M21.4 66.9h0.7M22.2 67.1h0.7M22.6 66.9h0.7M23.5 66.5h0.7M24.8 67.1h0.7M30.8 66.7h0.7M33.3 67.0h0.7M34.1 67.2h0.7M34.6 67.1h0.7M2.3 67.7h0.7M3.2 67.8h0.7M4.7 67.9h0.7M5.6 67.5h0.7M6.2 67.6h0.7M7.1 67.9h0.7M8.7 67.7h0.7M12.1 67.3h0.7M13.9 67.7h0.7M14.5 67.6h0.7M15.4 67.6h0.7M16.4 67.7h0.7M18.0 67.7h0.7M18.4 67.2h0.7M19.4 67.3h0.7M21.0 67.9h0.7M21.9 67.3h0.7M22.9 67.2h0.7M23.4 67.4h0.7M24.1 67.7h0.7M24.8 67.2h0.7M26.3 67.6h0.7M30.6 67.3h0.7M31.0 67.2h0.7M32.3 67.5h0.7M33.3 67.2h0.7M34.6 67.3h0.7M0.7 68.1h0.7M3.9 68.4h0.7M4.3 68.4h0.7M6.0 68.1h0.7M6.7 68.4h0.7M8.7 68.5h0.7M10.7 68.0h0.7M13.5 68.4h0.7M14.7 68.4h0.7M15.3 68.6h0.7M15.8 68.3h0.7M17.5 68.0h0.7M18.2 67.9h0.7M18.5 68.0h0.7M19.2 68.4h0.7M19.8 68.5h0.7M20.5 68.4h0.7M22.5 68.2h0.7M24.4 68.0h0.7M26.0 68.5h0.7M30.5 68.1h0.7M32.3 68.5h0.7M34.5 68.3h0.7M0.5 69.2h0.7M1.2 69.1h0.7M2.6 69.3h0.7M3.1 68.6h0.7M3.7 69.1h0.7M6.3 69.0h0.7M7.1 69.1h0.7M7.8 69.2h0.7M8.4 69.2h0.7M9.2 68.7h0.7M10.3 68.7h0.7M12.5 69.0h0.7M14.5 68.9h0.7M14.8 69.0h0.7M16.4 69.2h0.7M17.1 69.1h0.7M17.9 68.6h0.7M18.2 69.2h0.7M19.5 69.3h0.7M20.3 69.2h0.7M22.1 68.8h0.7M22.5 68.6h0.7M23.5 68.9h0.7M24.3 69.1h0.7M25.0 68.8h0.7M25.8 68.7h0.7M26.4 68.7h0.7M27.2 69.1h0.7M29.0 69.0h0.7M30.0 69.1h0.7M31.3 69.1h0.7M32.6 69.1h0.7M33.3 69.1h0.7M34.1 68.7h0.7M1.3 69.5h0.7M1.8 69.7h0.7M2.3 69.4h0.7M3.9 69.7h0.7M5.7 69.6h0.7M7.7 69.4h0.7M8.2 69.8h0.7M8.5 69.6h0.7M9.3 69.9h0.7M10.0 69.6h0.7M11.7 69.5h0.7M12.1 69.8h0.7M13.3 69.8h0.7M13.7 69.3h0.7M15.6 69.8h0.7M19.1 69.4h0.7M20.1 69.8h0.7M21.7 69.6h0.7M22.8 69.7h0.7M23.7 69.6h0.7M25.2 69.6h0.7M26.7 69.5h0.7M31.8 69.4h0.7M32.6 69.4h0.7M33.8 69.8h0.7M1.3 70.7h0.7M2.8 70.2h0.7M3.3 70.5h0.7M3.6 70.6h0.7M4.7 70.5h0.7M5.0 70.4h0.7M6.0 70.2h0.7M6.6 70.4h0.7M7.5 70.4h0.7M7.9 70.3h0.7M8.9 70.6h0.7M9.8 70.1h0.7M9.8 70.2h0.7M11.4 70.3h0.7M12.0 70.7h0.7M13.1 70.1h0.7M15.8 70.3h0.7M16.3 70.2h0.7M18.5 70.2h0.7M19.5 70.4h0.7M19.8 70.3h0.7M20.7 70.5h0.7M21.6 70.5h0.7M21.9 70.6h0.7M22.4 70.3h0.7M23.3 70.2h0.7M24.7 70.3h0.7M25.9 70.4h0.7M27.0 70.2h0.7M29.0 70.6h0.7M30.1 70.7h0.7M30.5 70.7h0.7M30.8 70.4h0.7M32.0 70.5h0.7M32.4 70.6h0.7M33.5 70.6h0.7M0.5 70.8h0.7M1.1 71.2h0.7M1.4 71.3h0.7M3.8 70.9h0.7M4.8 71.4h0.7M5.0 71.2h0.7M5.7 70.9h0.7M6.5 70.9h0.7M8.1 70.8h0.7M8.4 71.0h0.7M9.8 71.2h0.7M10.1 71.0h0.7M10.7 71.0h0.7M11.6 71.4h0.7M11.9 71.3h0.7M14.8 70.9h0.7M16.5 71.2h0.7M18.9 70.9h0.7M20.8 71.1h0.7M21.2 70.8h0.7M22.5 71.2h0.7M23.5 71.0h0.7M24.2 71.1h0.7M25.9 70.8h0.7M27.3 70.7h0.7M28.6 71.1h0.7M29.3 71.4h0.7M30.3 70.9h0.7M31.0 70.7h0.7M33.5 71.1h0.7M1.1 72.0h0.7M1.8 71.6h0.7M3.3 71.8h0.7M5.6 71.5h0.7M6.3 72.0h0.7M8.5 71.6h0.7M9.4 71.8h0.7M11.2 71.9h0.7M14.0 71.4h0.7M14.7 71.5h0.7M15.5 71.8h0.7M16.8 71.8h0.7M19.2 71.5h0.7M21.3 71.7h0.7M21.9 71.6h0.7M23.1 71.9h0.7M24.2 71.9h0.7M24.9 71.8h0.7M25.5 71.8h0.7M26.1 72.0h0.7M28.4 71.8h0.7M29.4 71.8h0.7M29.9 72.0h0.7M31.1 71.7h0.7M32.1 71.4h0.7M32.7 71.7h0.7M0.6 72.7h0.7M1.3 72.4h0.7M3.3 72.3h0.7M4.6 72.7h0.7M4.9 72.5h0.7M5.8 72.8h0.7M6.9 72.5h0.7M7.6 72.1h0.7M8.0 72.4h0.7M8.9 72.8h0.7M9.4 72.7h0.7M9.9 72.2h0.7M10.8 72.5h0.7M11.5 72.8h0.7M12.2 72.8h0.7M13.7 72.7h0.7M14.6 72.4h0.7M14.7 72.7h0.7M15.9 72.3h0.7M16.4 72.6h0.7M17.4 72.7h0.7M18.4 72.3h0.7M18.9 72.4h0.7M20.1 72.4h0.7M20.7 72.3h0.7M23.4 72.7h0.7M24.1 72.3h0.7M24.8 72.6h0.7M25.5 72.5h0.7M26.0 72.8h0.7M27.0 72.2h0.7M28.2 72.4h0.7M29.5 72.6h0.7M30.7 72.1h0.7M32.1 72.3h0.7M32.4 72.7h0.7M33.3 72.1h0.7M34.2 72.3h0.7M34.4 72.7h0.7M0.6 73.1h0.7M2.3 72.9h0.7M2.9 73.4h0.7M3.9 73.2h0.7M4.3 73.0h0.7M5.5 72.8h0.7M6.6 73.5h0.7M7.7 72.8h0.7M8.0 73.4h0.7M8.6 73.3h0.7M9.5 73.5h0.7M12.2 73.5h0.7M14.7 73.4h0.7M16.8 73.2h0.7M17.6 73.0h0.7M18.4 73.1h0.7M19.9 73.3h0.7M21.5 72.9h0.7M22.0 73.2h0.7M22.5 72.9h0.7M23.3 73.4h0.7M24.5 73.0h0.7M25.7 73.0h0.7M26.4 73.4h0.7M28.4 73.4h0.7M29.8 73.3h0.7M30.2 72.8h0.7M31.9 73.2h0.7M33.0 73.2h0.7M33.9 72.9h0.7M34.7 73.0h0.7M0.8 74.2h0.7M2.2 73.6h0.7M3.4 73.8h0.7M5.6 73.5h0.7M5.7 73.8h0.7M6.3 73.6h0.7M7.7 73.8h0.7M8.1 73.7h0.7M8.8 73.9h0.7M9.3 73.8h0.7M11.3 73.8h0.7M11.9 73.7h0.7M14.8 73.7h0.7M15.9 73.6h0.7M17.4 74.1h0.7M17.6 73.9h0.7M18.8 74.2h0.7M20.2 73.8h0.7M21.0 74.2h0.7M22.1 73.8h0.7M22.7 74.0h0.7M24.4 74.1h0.7M25.1 73.7h0.7M27.1 73.8h0.7M27.8 73.5h0.7M28.4 74.1h0.7M28.9 73.6h0.7M32.3 74.0h0.7M33.3 73.9h0.7M33.7 74.0h0.7M34.8 73.8h0.7M2.8 74.4h0.7M3.5 74.9h0.7M4.8 74.7h0.7M6.8 74.4h0.7M7.3 74.3h0.7M8.3 74.7h0.7M8.9 74.7h0.7M9.4 74.3h0.7M10.1 74.4h0.7M11.5 74.4h0.7M12.5 74.3h0.7M13.1 74.7h0.7M13.3 74.6h0.7M14.5 74.7h0.7M15.5 74.8h0.7M17.2 74.7h0.7M18.7 74.3h0.7M19.8 74.5h0.7M20.7 74.5h0.7M21.4 74.3h0.7M22.9 74.5h0.7M23.9 74.8h0.7M24.9 74.8h0.7M25.7 74.9h0.7M27.0 74.6h0.7M27.4 74.2h0.7M28.0 74.6h0.7M28.9 74.8h0.7M29.7 74.5h0.7M30.1 74.4h0.7M31.9 74.8h0.7M34.4 74.7h0.7M0.6 75.2h0.7M1.0 75.4h0.7M2.2 75.2h0.7M4.6 75.3h0.7M5.1 75.2h0.7M5.7 75.1h0.7M6.7 75.3h0.7M7.4 75.1h0.7M7.7 75.1h0.7M8.8 75.3h0.7M9.2 74.9h0.7M11.1 75.5h0.7M11.7 75.1h0.7M13.2 75.4h0.7M14.1 75.2h0.7M15.2 75.2h0.7M15.5 75.2h0.7M16.3 75.5h0.7M17.1 75.5h0.7M17.9 74.9h0.7M19.4 75.5h0.7M19.9 75.6h0.7M20.6 75.1h0.7M21.2 74.9h0.7M23.0 75.2h0.7M23.4 75.1h0.7M24.6 75.2h0.7M25.8 75.5h0.7M26.3 75.2h0.7M28.1 75.0h0.7M28.9 75.5h0.7M30.3 75.5h0.7M31.1 75.2h0.7M32.0 75.3h0.7M32.3 75.2h0.7M33.5 75.2h0.7M1.2 75.8h0.7M1.5 75.9h0.7M2.7 75.9h0.7M3.1 75.7h0.7M3.9 76.0h0.7M5.1 75.6h0.7M6.5 75.6h0.7M8.1 76.1h0.7M8.9 75.8h0.7M10.2 76.1h0.7M10.7 75.9h0.7M12.2 75.6h0.7M13.5 75.7h0.7M15.8 76.0h0.7M16.6 75.7h0.7M18.1 76.0h0.7M19.3 76.2h0.7M20.5 75.8h0.7M21.4 76.2h0.7M25.0 75.8h0.7M26.8 76.1h0.7M27.9 76.1h0.7M28.4 76.0h0.7M28.8 75.6h0.7M31.7 76.2h0.7M32.4 75.7h0.7M33.4 75.8h0.7M0.5 76.3h0.7M2.0 76.4h0.7M2.5 77.0h0.7M3.0 76.4h0.7M4.1 76.8h0.7M4.3 76.9h0.7M8.7 76.9h0.7M10.4 76.8h0.7M11.8 76.7h0.7M12.2 76.9h0.7M13.2 77.0h0.7M13.5 76.5h0.7M14.5 76.8h0.7M15.2 76.4h0.7M16.9 76.5h0.7M19.5 76.4h0.7M20.1 76.6h0.7M20.3 77.0h0.7M22.7 76.7h0.7M23.7 76.7h0.7M24.0 76.5h0.7M24.7 76.4h0.7M25.6 76.6h0.7M27.0 76.9h0.7M28.3 76.9h0.7M30.0 76.9h0.7M30.2 76.4h0.7M31.0 76.8h0.7M32.4 76.5h0.7M33.5 76.7h0.7M34.0 76.3h0.7M34.4 76.8h0.7M0.7 77.2h0.7M1.4 77.5h0.7M1.9 77.4h0.7M3.4 77.3h0.7M4.2 77.4h0.7M4.6 77.2h0.7M6.0 77.3h0.7M8.1 77.3h0.7M10.4 77.1h0.7M10.5 77.7h0.7M11.3 77.6h0.7M12.4 77.6h0.7M13.8 77.3h0.7M14.7 77.2h0.7M15.9 77.2h0.7M16.9 77.5h0.7M18.4 77.5h0.7M19.5 77.2h0.7M20.3 77.0h0.7M20.7 77.4h0.7M22.8 77.6h0.7M23.6 77.5h0.7M23.9 77.5h0.7M25.9 77.2h0.7M26.1 77.5h0.7M26.9 77.1h0.7M29.1 77.2h0.7M30.7 77.2h0.7M30.8 77.0h0.7M32.5 77.3h0.7M33.9 77.3h0.7M0.5 78.4h0.7M1.0 78.3h0.7M1.5 78.1h0.7M3.0 78.1h0.7M4.0 78.3h0.7M4.6 78.0h0.7M5.5 78.4h0.7M6.5 77.9h0.7M7.3 77.8h0.7M7.9 77.7h0.7M9.5 77.9h0.7M10.9 77.9h0.7M11.2 78.0h0.7M13.7 77.9h0.7M15.7 77.9h0.7M16.7 78.2h0.7M17.3 77.8h0.7M17.6 78.2h0.7M18.6 77.9h0.7M19.0 77.9h0.7M20.0 77.8h0.7M21.4 78.0h0.7M22.0 78.0h0.7M23.0 78.1h0.7M23.8 77.9h0.7M24.1 78.3h0.7M25.1 77.8h0.7M26.8 77.9h0.7M28.2 78.1h0.7M28.8 78.0h0.7M30.4 78.3h0.7M31.2 78.2h0.7M32.9 78.0h0.7M2.3 78.9h0.7M4.1 78.9h0.7M5.4 78.6h0.7M6.5 78.7h0.7M7.1 79.0h0.7M7.9 78.7h0.7M8.7 78.4h0.7M9.4 78.9h0.7M10.0 78.5h0.7M10.8 78.4h0.7M12.2 78.7h0.7M15.0 78.6h0.7M18.0 78.5h0.7M18.4 78.5h0.7M20.0 78.7h0.7M20.4 78.5h0.7M22.0 78.8h0.7M23.4 78.8h0.7M24.9 79.0h0.7M25.9 79.0h0.7M26.2 78.8h0.7M26.9 79.0h0.7M29.0 79.0h0.7M30.8 78.5h0.7M31.2 78.8h0.7M31.5 78.9h0.7M32.4 78.9h0.7M33.1 78.7h0.7M33.9 78.8h0.7M1.1 79.4h0.7M1.4 79.4h0.7M2.7 79.5h0.7M3.2 79.4h0.7M4.4 79.2h0.7M8.1 79.6h0.7M8.5 79.3h0.7M10.7 79.5h0.7M11.4 79.7h0.7M12.0 79.7h0.7M13.1 79.6h0.7M14.3 79.3h0.7M18.1 79.3h0.7M19.0 79.7h0.7M19.6 79.3h0.7M20.3 79.1h0.7M21.1 79.8h0.7M22.0 79.6h0.7M22.6 79.5h0.7M25.9 79.4h0.7M26.2 79.7h0.7M27.2 79.3h0.7M27.4 79.3h0.7M28.6 79.3h0.7M32.2 79.3h0.7M34.2 79.6h0.7M0.8 80.0h0.7M1.5 80.4h0.7M2.3 80.1h0.7M3.3 79.9h0.7M4.0 79.9h0.7M5.4 80.1h0.7M5.9 80.0h0.7M6.7 80.0h0.7M7.5 80.5h0.7M9.9 80.3h0.7M10.8 79.8h0.7M15.2 80.0h0.7M16.4 80.1h0.7M16.9 80.3h0.7M18.7 80.4h0.7M20.1 80.2h0.7M22.0 80.0h0.7M22.4 80.3h0.7M23.7 79.8h0.7M23.9 80.1h0.7M24.7 80.2h0.7M25.5 80.0h0.7M25.9 79.8h0.7M26.7 80.2h0.7M27.6 80.0h0.7M28.6 79.8h0.7M30.1 79.9h0.7M30.2 80.1h0.7M31.5 79.9h0.7M34.0 80.3h0.7M2.5 81.0h0.7M3.3 80.5h0.7M4.6 81.2h0.7M4.9 80.6h0.7M6.0 80.7h0.7M6.5 80.8h0.7M7.1 80.7h0.7M8.2 81.0h0.7M9.2 81.0h0.7M10.1 80.9h0.7M10.8 81.1h0.7M12.9 80.5h0.7M13.7 81.1h0.7M14.2 80.8h0.7M15.2 80.7h0.7M16.3 80.9h0.7M17.1 80.8h0.7M17.6 80.8h0.7M18.7 80.9h0.7M20.4 81.1h0.7M21.1 81.1h0.7M22.2 81.2h0.7M22.9 80.6h0.7M26.2 81.2h0.7M27.2 80.7h0.7M27.7 81.0h0.7M28.1 81.0h0.7M29.4 80.6h0.7M31.5 80.7h0.7M32.3 80.8h0.7M33.0 81.2h0.7M33.9 80.6h0.7M34.3 80.9h0.7" stroke="#000" stroke-width="0.7" fill="none"/>
<path d="M1.4 38.9h0.6M0.6 40.4h0.6M1.3 40.0h0.6M12.1 40.1h0.6M3.6 40.9h0.6M32.6 40.9h0.6M1.0 43.3h0.6M2.8 42.9h0.6M1.4 44.1h0.6M33.8 43.6h0.6M1.8 44.8h0.6M0.3 44.9h0.6M34.2 45.2h0.6M0.8 45.6h0.6M33.9 45.9h0.6M1.6 46.4h0.6M1.1 47.5h0.6M2.9 46.9h0.6M35.3 48.4h0.6M1.5 50.0h0.6M9.0 49.8h0.6M34.0 50.6h0.6M2.9 51.4h0.6M34.2 51.2h0.6M35.4 52.0h0.6M2.0 52.9h0.6M35.2 53.9h0.6M8.7 54.1h0.6M33.9 54.5h0.6M0.3 55.4h0.6M35.2 55.6h0.6M0.8 56.0h0.6M3.5 56.4h0.6M3.0 56.8h0.6M14.1 57.1h0.6M15.4 57.2h0.6M35.2 57.0h0.6M33.6 57.8h0.6M0.7 58.6h0.6M35.1 58.9h0.6M1.6 59.9h0.6M6.2 59.8h0.6M10.2 59.7h0.6M1.4 60.3h0.6M2.7 60.8h0.6M33.2 60.8h0.6M34.0 60.6h0.6M34.3 60.2h0.6M0.9 61.1h0.6M16.9 61.1h0.6M33.4 61.6h0.6M9.0 62.3h0.6M34.7 62.3h0.6M0.4 62.6h0.6M1.2 62.8h0.6M1.8 62.9h0.6M3.9 62.9h0.6M5.4 62.6h0.6M6.6 62.7h0.6M9.9 62.4h0.6M1.6 63.4h0.6M2.3 63.7h0.6M4.4 63.4h0.6M6.2 63.0h0.6M6.5 63.3h0.6M7.2 63.2h0.6M9.2 63.4h0.6M11.4 63.1h0.6M32.6 63.5h0.6M0.7 64.4h0.6M1.8 63.8h0.6M2.3 64.0h0.6M5.6 64.3h0.6M6.3 63.9h0.6M11.9 63.9h0.6M32.4 64.2h0.6M0.6 64.6h0.6M0.9 64.7h0.6M4.0 64.9h0.6M4.9 65.1h0.6M5.1 64.9h0.6M6.1 64.6h0.6M7.0 65.1h0.6M7.2 64.5h0.6M2.1 65.6h0.6M5.2 65.6h0.6M6.3 65.2h0.6M8.5 65.3h0.6M33.7 65.6h0.6M34.9 65.2h0.6M1.1 65.9h0.6M2.7 65.9h0.6M5.0 66.5h0.6M6.8 66.2h0.6M7.2 66.1h0.6M7.7 66.4h0.6M9.9 66.4h0.6M10.6 66.5h0.6M16.3 66.0h0.6M34.6 66.4h0.6M2.0 67.0h0.6M3.1 67.2h0.6M7.8 66.7h0.6M9.0 66.8h0.6M9.5 66.9h0.6M10.0 66.9h0.6M17.6 66.7h0.6M3.9 67.8h0.6M7.3 67.8h0.6M9.9 67.3h0.6M11.6 67.4h0.6M32.9 67.4h0.6M2.4 68.1h0.6M9.3 68.5h0.6M10.2 68.1h0.6M19.2 68.2h0.6M33.0 68.4h0.6M1.4 69.1h0.6M3.5 68.8h0.6M4.4 68.9h0.6M5.0 68.7h0.6M7.3 68.8h0.6M9.7 69.0h0.6M11.5 69.0h0.6M0.9 69.7h0.6M1.9 69.5h0.6M5.7 69.5h0.6M6.6 70.0h0.6M7.3 69.9h0.6M9.8 69.8h0.6M11.7 69.8h0.6M12.7 69.5h0.6M34.9 69.7h0.6M2.0 70.3h0.6M2.1 70.2h0.6M3.3 70.4h0.6M5.6 70.1h0.6M8.6 70.6h0.6M9.9 70.4h0.6M15.2 70.6h0.6M21.9 70.1h0.6M2.2 71.4h0.6M3.4 70.9h0.6M5.6 71.1h0.6M6.6 71.4h0.6M8.2 70.9h0.6M8.6 70.9h0.6M16.6 71.0h0.6M2.4 72.0h0.6M3.7 71.9h0.6M7.6 72.0h0.6M5.3 72.2h0.6M6.4 72.7h0.6M10.6 72.1h0.6M26.7 72.2h0.6M0.5 73.0h0.6M1.0 73.1h0.6M2.0 73.0h0.6M5.6 72.9h0.6M6.0 73.0h0.6M7.4 73.1h0.6M9.5 73.5h0.6M10.3 73.3h0.6M11.3 73.3h0.6M34.4 73.2h0.6M1.8 74.0h0.6M3.6 73.8h0.6M6.3 73.9h0.6M7.0 73.5h0.6M7.2 74.2h0.6M10.0 74.1h0.6M10.6 74.0h0.6M34.6 74.0h0.6M5.3 74.5h0.6M5.8 74.3h0.6M7.8 74.6h0.6M11.4 74.3h0.6M24.8 74.6h0.6M33.2 74.8h0.6M34.6 74.6h0.6M1.7 75.6h0.6M4.3 75.6h0.6M7.0 75.2h0.6M10.5 75.1h0.6M10.6 75.1h0.6M11.4 75.1h0.6M12.7 75.4h0.6M22.9 75.2h0.6M26.3 75.5h0.6M33.9 75.0h0.6M5.8 76.3h0.6M9.3 75.7h0.6M14.1 76.1h0.6M31.4 75.9h0.6M0.5 76.9h0.6M1.0 76.5h0.6M3.6 76.9h0.6M6.7 76.4h0.6M9.3 76.7h0.6M10.6 76.7h0.6M11.6 77.0h0.6M33.6 76.4h0.6M4.2 77.1h0.6M4.9 77.4h0.6M6.6 77.3h0.6M11.7 77.1h0.6M23.9 77.6h0.6M4.1 77.7h0.6M6.2 78.3h0.6M6.4 77.8h0.6M8.0 78.1h0.6M8.7 78.2h0.6M9.7 78.0h0.6M33.8 78.2h0.6M0.7 78.9h0.6M3.5 78.9h0.6M6.1 78.6h0.6M6.5 78.6h0.6M7.1 79.1h0.6M7.7 78.8h0.6M11.7 78.5h0.6M23.4 78.5h0.6M25.7 78.4h0.6M0.9 79.4h0.6M1.9 79.7h0.6M2.9 79.7h0.6M4.0 79.8h0.6M4.9 79.3h0.6M5.9 79.6h0.6M7.0 79.8h0.6M8.0 79.2h0.6M10.1 79.2h0.6M10.6 79.6h0.6M11.7 79.5h0.6M13.3 79.6h0.6M15.3 79.5h0.6M24.3 79.4h0.6M25.0 79.7h0.6M28.1 79.4h0.6M0.7 79.8h0.6M1.3 80.3h0.6M5.2 80.4h0.6M6.5 80.0h0.6M7.9 80.1h0.6M8.9 80.3h0.6M9.5 80.0h0.6M10.9 80.0h0.6M17.8 80.3h0.6M19.3 80.3h0.6M23.1 80.0h0.6M27.2 80.3h0.6M27.6 80.3h0.6M28.5 79.9h0.6M29.9 80.2h0.6M32.4 79.9h0.6M2.8 81.0h0.6M3.5 81.1h0.6M5.2 80.7h0.6M6.1 80.9h0.6M7.6 80.8h0.6M8.6 81.2h0.6M9.7 80.8h0.6M12.7 81.0h0.6M14.0 80.6h0.6M19.3 80.6h0.6M20.3 80.8h0.6M24.6 80.6h0.6M25.7 80.9h0.6M27.0 81.0h0.6M31.7 81.0h0.6M33.4 80.9h0.6M34.1 80.7h0.6" stroke="#fff" stroke-width="0.6" fill="none"/>
</g>
<g filter="url(#blur06)">
<path d="M0.3 22.8 C9 21.8 19 20.6 27 19.6 C32 19.0 36.4 19.6 37.6 23.4 C38.4 26.6 38.2 32 37 35.4 C36 38 34.6 40 33.2 41.2 L3.4 39.2 L0.3 39.6 Z" fill="#cfcfcf" stroke="#3a3a3a" stroke-width="0.6"/>
<path d="M0.3 23.6 C9 22.6 19 21.4 27 20.4 C31.6 19.9 35.2 20.6 36.4 24 C37.2 27 37 31.6 35.8 34.4 C34.8 36.4 33.4 37.6 32 38 L3.4 36 L0.3 36.4 Z" fill="url(#gOuter3)"/>
<ellipse cx="26.6" cy="26.4" rx="11" ry="3.3" fill="url(#gLobe)" opacity="1"/>
<ellipse cx="26.6" cy="34.4" rx="10" ry="3.1" fill="url(#gLobe)" opacity="0.8"/>
<ellipse cx="33.0" cy="30.4" rx="3.8" ry="6.2" fill="url(#gLobe)" opacity="0.9"/>
</g>
<path d="M3.6 30.4 H27" stroke="#fff" stroke-width="1.0" stroke-dasharray="1.1 0.55" opacity="0.95"/>
<ellipse cx="27.4" cy="30.4" rx="3.2" ry="0.8" fill="#fff"/>
<rect x="0.3" y="25" width="1.7" height="14.6" fill="#000"/>
<path d="M2.4 37.8 C12 38.8 22 39.7 33 40.1" stroke="#e8e8e8" stroke-width="0.5" fill="none"/>
<polygon points="3.4,39.4 13.0,40.2 33.2,41.2 33.4,58.0 31.4,64.0 28.5,69.4 11.2,52.0 16.0,45.2 3.6,40.6" fill="#fff" stroke="#999" stroke-width="0.3"/>
<path d="M20 48.2 C23 46.4 25.6 45.2 27.6 45.2 C30.6 45.2 32.6 47.6 32.4 50.6 C32.2 54.6 30.6 58.6 28.6 60.2 C26.4 59.6 22.4 57.4 21 55.8 C19.6 54.2 19.6 50.6 20 48.2 Z" fill="none" stroke="#6a6a6a" stroke-width="0.45"/>
<path d="M24.6 48.6 C25.8 47.4 29.6 47.2 30.6 48.8 C31.4 50.4 31 53.6 29.8 54.8 C28.4 55.8 25.4 55.4 24.4 54 C23.4 52.6 23.8 49.8 24.6 48.6 Z" fill="none" stroke="#6a6a6a" stroke-width="0.45"/>
<path d="M26.2 50 C27.2 49.2 29 49.4 29.4 50.6 C29.8 52 29.2 53.4 28.2 53.8 C27 54 25.8 53.2 25.6 52 C25.4 51.2 25.6 50.6 26.2 50 Z" fill="none" stroke="#6a6a6a" stroke-width="0.45"/>
<path d="M0.9 3 V80.7" stroke="#555" stroke-width="0.6" stroke-dasharray="0.6 1.9" opacity="0.6"/>
</g>
<rect x="0" y="0" width="84.3" height="81.7" fill="none" stroke="#7a7a7a" stroke-width="0.7"/>
<path d="M39.0 18.9 H84.3 M39.0 18.9 V42.6 M39.0 42.6 H84.3" fill="none" stroke="#858585" stroke-width="0.6"/>
<text x="61.0" y="16.9" font-size="8.3" text-anchor="middle" fill="#1a1a1a" stroke="#1a1a1a" stroke-width="0.15">0.1</text>
</g>
<line x1="54.0" y1="304.6" x2="54.0" y2="386.90000000000003" stroke="#000" stroke-width="1.35"/>
<line x1="53.4" y1="386.3" x2="162.5" y2="386.3" stroke="#000" stroke-width="1.35"/>
<line x1="51.4" y1="386.3" x2="54.0" y2="386.3" stroke="#000" stroke-width="1.1"/>
<text x="51.3" y="388.3" font-size="5.6" text-anchor="end" fill="#111">0.0</text>
<line x1="51.4" y1="370.05" x2="54.0" y2="370.05" stroke="#000" stroke-width="1.1"/>
<text x="51.3" y="372.05" font-size="5.6" text-anchor="end" fill="#111">0.5</text>
<line x1="51.4" y1="353.8" x2="54.0" y2="353.8" stroke="#000" stroke-width="1.1"/>
<text x="51.3" y="355.8" font-size="5.6" text-anchor="end" fill="#111">1.0</text>
<line x1="51.4" y1="337.55" x2="54.0" y2="337.55" stroke="#000" stroke-width="1.1"/>
<text x="51.3" y="339.55" font-size="5.6" text-anchor="end" fill="#111">1.5</text>
<line x1="51.4" y1="321.3" x2="54.0" y2="321.3" stroke="#000" stroke-width="1.1"/>
<text x="51.3" y="323.3" font-size="5.6" text-anchor="end" fill="#111">2.0</text>
<line x1="51.4" y1="305.05" x2="54.0" y2="305.05" stroke="#000" stroke-width="1.1"/>
<text x="51.3" y="307.05" font-size="5.6" text-anchor="end" fill="#111">2.5</text>
<text x="34.2" y="342.2" font-size="6.8" text-anchor="middle" transform="rotate(-90 34.2 342.2)" fill="#111" textLength="75.8" lengthAdjust="spacingAndGlyphs">% of LGL1  Tet<tspan font-size="4.6" dy="-2.4">+</tspan><tspan dy="2.4"> T cells</tspan></text>
<line x1="81.6" y1="309.8" x2="81.6" y2="320" stroke="#000" stroke-width="1.4"/>
<line x1="72.39999999999999" y1="309.8" x2="90.8" y2="309.8" stroke="#000" stroke-width="1.4"/>
<rect x="63" y="319.4" width="37" height="66.90000000000003" fill="#000"/>
<line x1="135.3" y1="372.2" x2="135.3" y2="376" stroke="#000" stroke-width="1.4"/>
<line x1="126.20000000000002" y1="372.2" x2="144.4" y2="372.2" stroke="#000" stroke-width="1.4"/>
<rect x="116.6" y="375.5" width="37.2" height="10.800000000000011" fill="#8f8f8f"/>
<line x1="81.6" y1="386.3" x2="81.6" y2="389.1" stroke="#000" stroke-width="1.1"/>
<line x1="135.4" y1="386.3" x2="135.4" y2="389.1" stroke="#000" stroke-width="1.1"/>
<text x="80.9" y="397.0" font-size="7.5" text-anchor="middle" fill="#111">Before</text>
<text x="80.9" y="406.4" font-size="7.5" text-anchor="middle" fill="#111">treatment</text>
<text x="136.6" y="397.0" font-size="7.5" text-anchor="middle" fill="#111">After</text>
<text x="136.8" y="406.4" font-size="7.5" text-anchor="middle" fill="#111">treatment</text>
<path d="M81.4 305 V293.8 H136.3 V368.8" stroke="#000" stroke-width="1.0" fill="none"/>
<text x="109.6" y="292.5" font-size="9.5" text-anchor="middle" fill="#111">**</text>
<text x="0.6" y="426.9" font-size="10.6" font-weight="bold" fill="#000">D</text>
<rect x="54.7" y="432.7" width="13.9" height="7.8" fill="#000"/>
<rect x="54.7" y="446.8" width="13.9" height="7.7" fill="#8f8f8f"/>
<text x="71.8" y="439.3" font-size="7.6" fill="#111" textLength="51.4" lengthAdjust="spacingAndGlyphs">Healthy Control</text>
<text x="71.8" y="453.3" font-size="7.6" fill="#111" textLength="36" lengthAdjust="spacingAndGlyphs">GD patient</text>
<line x1="40.8" y1="442.6" x2="40.8" y2="498.5" stroke="#000" stroke-width="1.35"/>
<line x1="38.4" y1="497.9" x2="41.4" y2="497.9" stroke="#000" stroke-width="1.2"/>
<line x1="36.9" y1="443.2" x2="40.8" y2="443.2" stroke="#000" stroke-width="1.2"/>
<text x="34.5" y="445.7" font-size="7.0" text-anchor="end" fill="#111">200</text>
<line x1="36.9" y1="458.2" x2="40.8" y2="458.2" stroke="#000" stroke-width="1.2"/>
<text x="34.5" y="460.7" font-size="7.0" text-anchor="end" fill="#111">150</text>
<line x1="36.9" y1="473.25" x2="40.8" y2="473.25" stroke="#000" stroke-width="1.2"/>
<text x="34.5" y="475.75" font-size="7.0" text-anchor="end" fill="#111">100</text>
<line x1="36.9" y1="488.25" x2="40.8" y2="488.25" stroke="#000" stroke-width="1.2"/>
<text x="34.5" y="490.75" font-size="7.0" text-anchor="end" fill="#111">50</text>
<line x1="40.8" y1="507.2" x2="40.8" y2="563.6" stroke="#000" stroke-width="1.35"/>
<line x1="36.9" y1="507.9" x2="40.8" y2="507.9" stroke="#000" stroke-width="1.2"/>
<text x="34.5" y="510.4" font-size="7.0" text-anchor="end" fill="#111">20</text>
<line x1="36.9" y1="521.7" x2="40.8" y2="521.7" stroke="#000" stroke-width="1.2"/>
<text x="34.5" y="524.2" font-size="7.0" text-anchor="end" fill="#111">15</text>
<line x1="36.9" y1="535.5" x2="40.8" y2="535.5" stroke="#000" stroke-width="1.2"/>
<text x="34.5" y="538.0" font-size="7.0" text-anchor="end" fill="#111">10</text>
<line x1="36.9" y1="549.25" x2="40.8" y2="549.25" stroke="#000" stroke-width="1.2"/>
<text x="34.5" y="551.75" font-size="7.0" text-anchor="end" fill="#111">5</text>
<line x1="36.9" y1="563.0" x2="40.8" y2="563.0" stroke="#000" stroke-width="1.2"/>
<text x="34.5" y="565.5" font-size="7.0" text-anchor="end" fill="#111">0</text>
<line x1="40.199999999999996" y1="563.0" x2="221.3" y2="563.0" stroke="#000" stroke-width="1.35"/>
<text x="19.0" y="502" font-size="7.4" text-anchor="middle" transform="rotate(-90 19.0 502)" fill="#111" textLength="18.6" lengthAdjust="spacingAndGlyphs">pg/ml</text>
<line x1="50.6" y1="561.5" x2="50.6" y2="562.4" stroke="#000" stroke-width="1.3"/>
<line x1="47.6" y1="561.5" x2="53.6" y2="561.5" stroke="#000" stroke-width="1.3"/>
<rect x="46.2" y="561.9" width="8.799999999999997" height="1.1000000000000227" fill="#000"/>
<line x1="61.9" y1="515" x2="61.9" y2="529.75" stroke="#000" stroke-width="1.3"/>
<line x1="58.9" y1="515" x2="64.9" y2="515" stroke="#000" stroke-width="1.3"/>
<rect x="57.8" y="529.25" width="8.200000000000003" height="33.75" fill="#8f8f8f"/>
<line x1="80.5" y1="561.5" x2="80.5" y2="562.4" stroke="#000" stroke-width="1.3"/>
<line x1="77.5" y1="561.5" x2="83.5" y2="561.5" stroke="#000" stroke-width="1.3"/>
<rect x="76.0" y="561.9" width="9.0" height="1.1000000000000227" fill="#000"/>
<line x1="91.8" y1="535.5" x2="91.8" y2="543.0" stroke="#000" stroke-width="1.3"/>
<line x1="88.8" y1="535.5" x2="94.8" y2="535.5" stroke="#000" stroke-width="1.3"/>
<rect x="87.6" y="542.5" width="8.400000000000006" height="20.5" fill="#8f8f8f"/>
<line x1="110.625" y1="496.2" x2="110.625" y2="497.3" stroke="#000" stroke-width="1.3"/>
<line x1="107.625" y1="496.2" x2="113.625" y2="496.2" stroke="#000" stroke-width="1.3"/>
<rect x="106.25" y="496.8" width="8.75" height="66.19999999999999" fill="#000"/>
<line x1="122.125" y1="476.75" x2="122.125" y2="481.25" stroke="#000" stroke-width="1.3"/>
<line x1="119.125" y1="476.75" x2="125.125" y2="476.75" stroke="#000" stroke-width="1.3"/>
<rect x="118" y="480.75" width="8.25" height="82.25" fill="#8f8f8f"/>
<line x1="140.875" y1="553.25" x2="140.875" y2="555.75" stroke="#000" stroke-width="1.3"/>
<line x1="137.875" y1="553.25" x2="143.875" y2="553.25" stroke="#000" stroke-width="1.3"/>
<rect x="136.75" y="555.25" width="8.25" height="7.75" fill="#000"/>
<line x1="152.125" y1="491.7" x2="152.125" y2="494.75" stroke="#000" stroke-width="1.3"/>
<line x1="149.125" y1="491.7" x2="155.125" y2="491.7" stroke="#000" stroke-width="1.3"/>
<rect x="148" y="494.25" width="8.25" height="68.75" fill="#8f8f8f"/>
<line x1="170.875" y1="543.75" x2="170.875" y2="548.0" stroke="#000" stroke-width="1.3"/>
<line x1="167.875" y1="543.75" x2="173.875" y2="543.75" stroke="#000" stroke-width="1.3"/>
<rect x="166.75" y="547.5" width="8.25" height="15.5" fill="#000"/>
<line x1="182.125" y1="492.2" x2="182.125" y2="495.0" stroke="#000" stroke-width="1.3"/>
<line x1="179.125" y1="492.2" x2="185.125" y2="492.2" stroke="#000" stroke-width="1.3"/>
<rect x="178" y="494.5" width="8.25" height="68.5" fill="#8f8f8f"/>
<line x1="200.875" y1="559.8" x2="200.875" y2="560.7" stroke="#000" stroke-width="1.3"/>
<line x1="197.875" y1="559.8" x2="203.875" y2="559.8" stroke="#000" stroke-width="1.3"/>
<rect x="196.75" y="560.2" width="8.25" height="2.7999999999999545" fill="#000"/>
<line x1="212.125" y1="453.4" x2="212.125" y2="468.75" stroke="#000" stroke-width="1.3"/>
<line x1="209.125" y1="453.4" x2="215.125" y2="453.4" stroke="#000" stroke-width="1.3"/>
<rect x="208" y="468.25" width="8.25" height="94.75" fill="#8f8f8f"/>
<line x1="55.9" y1="563.0" x2="55.9" y2="565.8" stroke="#000" stroke-width="1.2"/>
<line x1="86.0" y1="563.0" x2="86.0" y2="565.8" stroke="#000" stroke-width="1.2"/>
<line x1="116.4" y1="563.0" x2="116.4" y2="565.8" stroke="#000" stroke-width="1.2"/>
<line x1="146.5" y1="563.0" x2="146.5" y2="565.8" stroke="#000" stroke-width="1.2"/>
<line x1="176.6" y1="563.0" x2="176.6" y2="565.8" stroke="#000" stroke-width="1.2"/>
<line x1="206.6" y1="563.0" x2="206.6" y2="565.8" stroke="#000" stroke-width="1.2"/>
<text x="55.2" y="574.2" font-size="7.2" text-anchor="middle" fill="#111" textLength="21.2" lengthAdjust="spacingAndGlyphs">IL-17α</text>
<text x="87.3" y="574.2" font-size="7.2" text-anchor="middle" fill="#111" textLength="13.4" lengthAdjust="spacingAndGlyphs">IL-6</text>
<text x="117.5" y="574.2" font-size="7.2" text-anchor="middle" fill="#111" textLength="24.2" lengthAdjust="spacingAndGlyphs">MIP-1β</text>
<text x="148.4" y="574.2" font-size="7.2" text-anchor="middle" fill="#111" textLength="19.6" lengthAdjust="spacingAndGlyphs">Flt-3L</text>
<text x="177.2" y="574.2" font-size="7.2" text-anchor="middle" fill="#111" textLength="13.2" lengthAdjust="spacingAndGlyphs">IL-8</text>
<text x="208.4" y="574.2" font-size="7.2" text-anchor="middle" fill="#111" textLength="24.8" lengthAdjust="spacingAndGlyphs">sIL-2Rα</text>
<line x1="51.1" y1="506.1" x2="62.0" y2="506.1" stroke="#000" stroke-width="1.0"/>
<text x="56.55" y="506.8" font-size="9.0" text-anchor="middle" fill="#111">***</text>
<line x1="80.6" y1="531.2" x2="91.6" y2="531.2" stroke="#000" stroke-width="1.0"/>
<text x="86.1" y="531.9000000000001" font-size="9.0" text-anchor="middle" fill="#111">***</text>
<line x1="107.6" y1="470.8" x2="119.6" y2="470.8" stroke="#000" stroke-width="1.0"/>
<text x="113.6" y="471.5" font-size="9.0" text-anchor="middle" fill="#111">**</text>
<line x1="140.5" y1="485.6" x2="152" y2="485.6" stroke="#000" stroke-width="1.0"/>
<text x="146.25" y="486.3" font-size="9.0" text-anchor="middle" fill="#111">***</text>
<line x1="170.75" y1="484.6" x2="182.5" y2="484.6" stroke="#000" stroke-width="1.0"/>
<text x="176.625" y="485.3" font-size="9.0" text-anchor="middle" fill="#111">***</text>
<line x1="201.25" y1="450.8" x2="212" y2="450.8" stroke="#000" stroke-width="1.0"/>
<text x="206.625" y="451.5" font-size="9.0" text-anchor="middle" fill="#111">***</text>
</svg></body></html>
